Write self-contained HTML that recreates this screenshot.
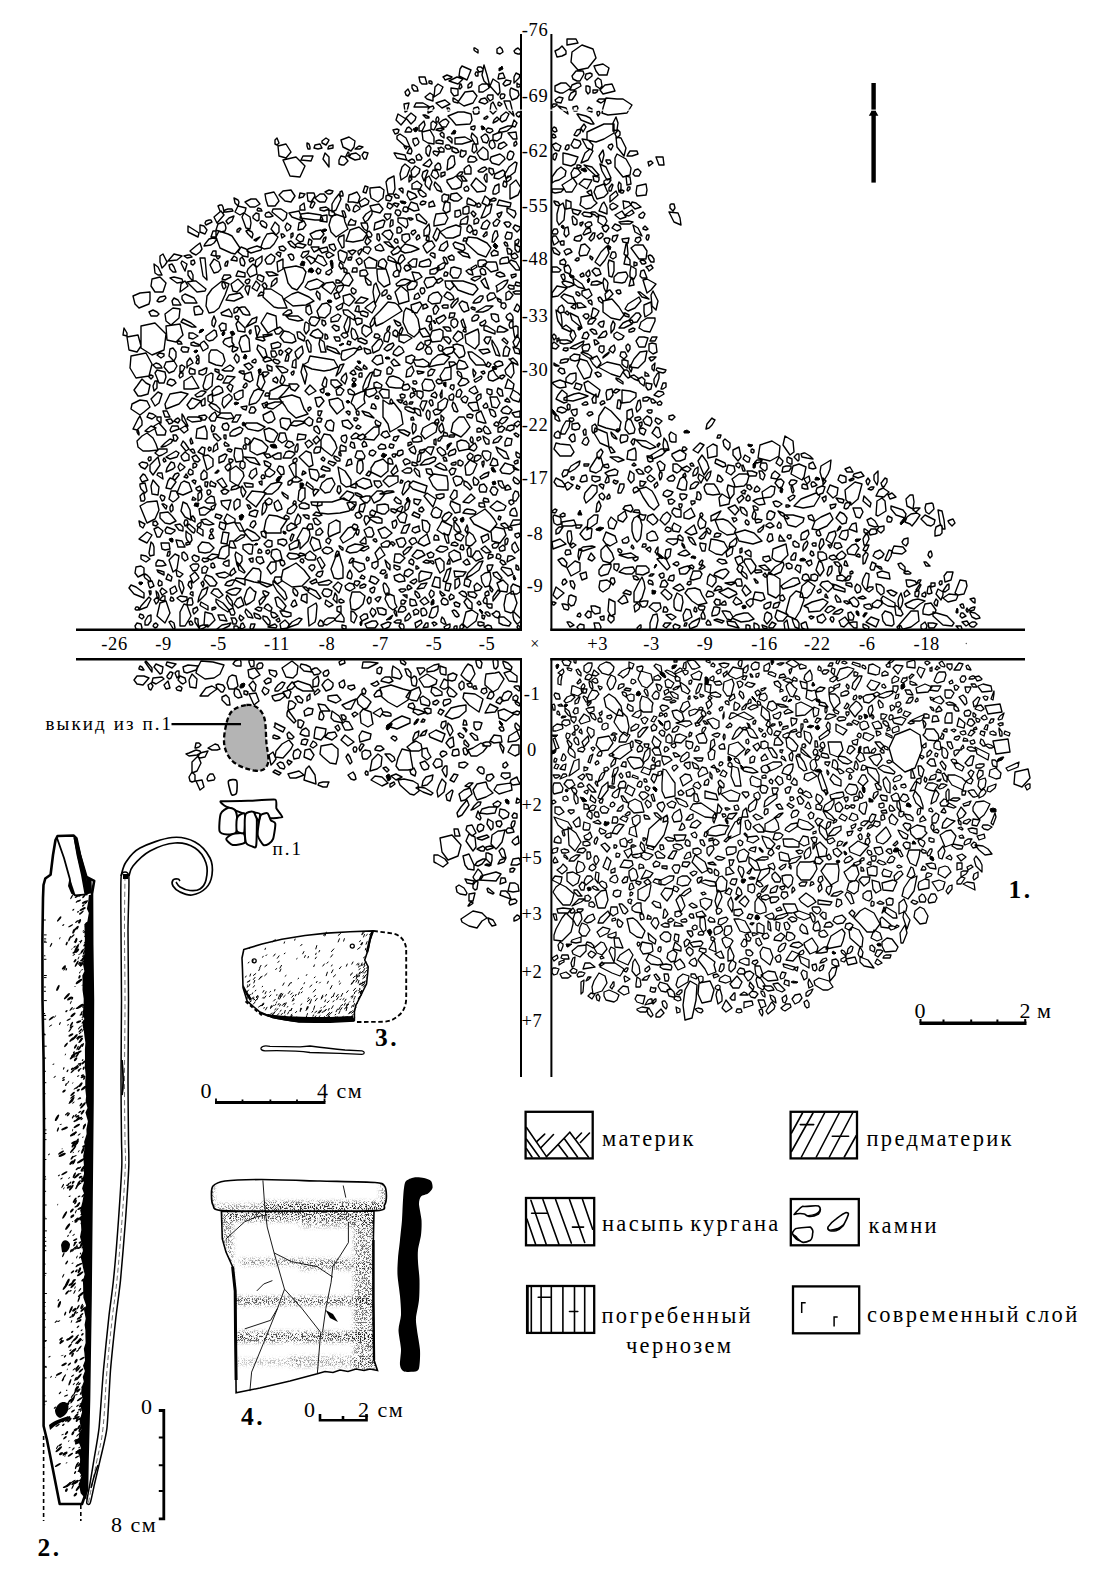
<!DOCTYPE html>
<html><head><meta charset="utf-8"><style>
html,body{margin:0;padding:0;background:#fff;width:1100px;height:1570px;overflow:hidden}
svg{display:block}
</style></head><body>
<svg width="1100" height="1570" viewBox="0 0 1100 1570">
<rect width="1100" height="1570" fill="#fff"/>
<path fill="none" stroke="#000" stroke-width="1.4" stroke-linejoin="round" d="M420 189l-8 0 0-5 5-3 5 4zM458 89l0 6-4 1-3-4 0-4zM150 465l8-8 2 8-7 10-3-4zM234 345l-5 2-5-3-1-2 2-3 7-2 0 5zM280 611l4 0 7 2 0 3-4 1-4-1-2-3zM312 714l-7 2-1-5 4-3 5 1zM405 618l4-5 2 4-3 3-3 1zM497 785l14-2 1 7-13 4-5-4zM759 629l-4 1-1-3 0-4 3 1 2 2zM464 693l11 1 8 5-2 7-2 6-10-7-6-7zM353 426l-3 3-7-3-1-5 6-1zM195 484l-3-3 2-1 2 1zM502 390l1 6-3 0-3-4 1-4zM277 262l6-3 0 10-5 3zM485 134l2 1 2 4-2 4-4-1-2-5zM308 201l-1-8 7 0 1 3-4 6zM260 285l-3 6-5-3 4-7zM442 297l-2 6-8 1-4-3 1-5 4-3 5-1zM254 582l-10-3 3-4 6-7 6 1 2 3-1 11zM351 403l3-8 7-3 4-1-1 8 1 4-9 7-2-4zM326 547l5 1 2 3-5 3-4-1-2-3zM373 292l1-7 2-2 4 11-5 10zM324 266l-9-5 3-6 5 2 4 7zM615 167l0-9 2-4 9 5 5 9-1 7-7 2zM324 283l-5 5-9 2-5-3 3-5 9-3zM344 622l-8-1-1-2 6-6 3 5zM606 545l6 8 2 6-4 4-7-2-2-4 0-7zM281 505l1 4-5 2-2-3-1-5 4-3zM219 598l-8-5 3-4 4 0 5 6zM683 541l-3-1-2-1 0-3 2-1 3 3zM494 519l3 5-7 8-10-5-6-3-4-6 7-4 8-5 5 5zM512 549l0-4 3-3 4 8-4 3zM296 356l-1-4 3-3 4-3 1 5 0 2-5 6zM219 308l-5 4-5 1-3-7 1-10 5-7 10-8 7 3-4 11zM234 456l1-8 7 1 1 6 0 6-7 1zM512 109l2 7-7-7-3-8 6 0zM237 565l-2-10 1-3 6 4 0 5-4 6zM404 343l-5-2 0-6 8 0 5 3zM392 533l-6 5-4 0-4-8 7-3zM798 578l2 5-6 3-11 3-2-3 4-3 8-5zM443 87l-3 6-6 4 1-10 3-3zM348 202l1-7 3-1 5-2 3 5-2 6-5-1zM387 491l6 0 1 1-10 2-4 0zM618 273l8-1 2 4-3 6-3 1-8-1 0-5zM300 543l-3-4 6-11 6 1 1 6-2 6-8 8zM482 75l2-10 3 10 3 12-6-6zM398 263l2 2 1 3-1 4-3-3-1-5zM468 352l4 0 11 8 3 5-10 0-6-7zM452 143l-1-1-4-4 1-1 2 0 2 2zM801 535l1-2 6-3 1 4-3 5-5 1zM194 298l3 5-5 0-7 0-3-4 0-3 3-2zM470 514l-7-1 2-3 2-1 6 1 3 2-1 2zM178 300l3 5-8 0-1-4 2-3zM308 613l0-5 8-5 1 3-1 12-1 4-6 4zM942 511l2 9 1 9-2 0-3-6-2-13zM244 379l1-5 6-2 2 8-3 2zM464 417l6 10-4 5-5 5-10-5 2-9 6-6zM659 397l-5-2 4-4 5 1 1 2zM343 296l7-2 5 5-3 4-3 3-5-3zM296 418l-8-7-3-5-6-8 13-3 8 3 4 11 4 5zM235 510l-1-3 0-5 3-3 3 1 0 6zM629 434l-4-5 1-7 2-3 3 1 4 9-1 4zM264 249l-3-2 2-6 4-7 6-1 5 4-4 7-4 4zM431 129l0-6 2-2 4 3-3 6zM355 610l-4-1-1-9 2-8 8 0 5 4-2 8-4 4zM499 554l2 2-1 3-1 0-3-1 1-4zM433 95l0 6-6-2-2-2 5-4zM365 277l6 5 0 3-3 0-2-3zM349 137l6 4-1 6-3 4-8-4-2-7zM817 488l5-2 3 1-2 6-5 2-2-4zM238 279l6 6-7 7-4-1-2-7zM185 561l-3-3 0-5 2-1 3 3 1 4zM929 514l-3-2-1-4 1-4 6-1 1 1 1 5zM741 457l-3 4-5-6 0-5 6-3zM506 721l-7-3-1-7 6-2 10 5zM293 255l1 3-1 2-2 0-3-5 3-1zM265 427l-4 3-3 1-10-2-3-3 1-3 11 0zM426 224l-9-4-1-5 3-1 8 8zM468 367l-4 2-7 0 0-5 2-4 6 2zM309 395l-4-4 5-6 6 6zM162 504l2 0 3 2-1 3-1-1zM142 436l5-3 6 5 3 6 2 6-9 1-6 0-5-4-1-6zM340 513l-12 1-8-1-3-6 1-5 14 0 12-4 11 7-6 6zM351 459l1 5-6 2 2-6zM410 396l1-3 2 0 2 1 0 1-4 3zM199 233l-1 4-10-5 0-6zM150 588l-1-2-1-4 4-1 2 5zM636 408l2-7 2-1 1 7-1 2-3 3zM923 614l0-4 2-6 6-1 5 7-1 3-6 2zM212 510l-1-3 5-3-2 5zM319 407l-2-1-2-8 6-1 3 4zM405 243l-3-3 0-5 4-1 3 0 1 5zM214 431l-2 1-1-4 1-3 3 2zM491 314l4 0 3 1 1 6-3 1-4-3zM461 227l-1 8-7 3-7 0-6-6 7-4 9-3zM459 533l5 3-3 5-5-2-1-4zM385 555l-7 5-3-7 5-6zM571 88l-8 5-3 0-5-2 0-5 6-3 5 0zM496 881l-17-1 2-4 15-4 5 2zM485 546l6 6-5 1-5-4zM156 591l1 1 1 1 1 3 0 2-2-1zM403 454l-4 2-2-1 1-4 4-1 1 1zM564 267l4-2 1 1 2 4-1 4-5-2zM838 488l-1 7-4 3-6-6 3-7zM207 478l-4 2-2-1 0-5 3-4 3 3zM198 756l3 7-4 8-5 2 0-11zM588 94l-2-3 0-5 2 0 2 1 0 5zM438 797l-1-6 2-6 3-6 4 4-2 9zM295 196l-4 6-6-1-6-6 4-4 8-1zM917 591l-1-1 4-6 1 1-2 4zM481 824l3 2-1 4-4 2-2-3 1-4zM452 790l1 1-3 10-3-1-1-5zM325 681l3-2 5 4 0 3-2 3-5 2-4-6zM213 396l-1-5 4-4 3-1 3 2 1 4-4 2zM650 630l0-7 3-8 4-1 1 6-2 9zM224 665l-4 9-6 4-9 1-9-6 1-4 4-8 12 1zM706 595l2-4 4 1 2 2-1 2-6 1zM156 566l0-3 2-3 5 1 3 4-4 1zM248 230l4 2 1 2-1 4-4-4-2-3zM214 259l5 3 2 7-3 3-4 1-4-8zM432 780l-5 5-5 1 1-5 3-4 7-2zM366 585l-1 2-3 1-2 0 0-2 4-2zM838 554l4-3 2 2 2 2-2 3-5 2-3-3zM648 338l-3 9-6 0-3-6 3-4 5 0zM310 147l0 2-2 0-1-3 0-3 2 1zM442 742l-12-5-1-3 7-4 9 4zM572 526l-10 0 0-4 12-2 2 5zM384 250l-3 1-5-1-1-3 5-3 2 2zM581 144l-3 4-4 0-3-3 1-2 2-4 6 2zM446 433l1 0 1 3-3 0-2 0 1-4zM432 360l6-5 5-1 7 3-6 7-7 1-8 2zM331 232l-2-7 2-7 4-4 9 3 1 5 3 7-6 4-6 4zM417 559l-5-3 5-6 5 1 3 4zM209 418l3-4 3-2 2 4-2 5-4 0zM309 417l4 3-1 5-3 1-6-4zM697 496l0-4 2 0 2 3 0 3-1 2-4-1zM672 442l-2-1-1-6 2-3 5 3 0 7zM336 764l-6-1-7-6-3-3 1-8 11-2 6 5 0 7zM503 819l-4-4 1-6 5 1 4 3-1 4zM510 487l1 2-4 1-2 0 1-4 2-1zM878 559l-5-3 2-4 5-2 4 4-2 3zM504 458l-6-6-2-5 10 5 3 7zM491 248l-5 9-8-3-12-11 2-6 9 1 10 5zM440 666l6 2 0 7-5-1-1-2zM864 496l7 7-1 4-7-6zM469 294l-11-4-3-4-4-5 12 0 12 4 3 4-5 6zM343 333l4 0 1 3-3 2-1 0-2-2-1-1zM437 190l-3-5 1-3 5 5 2 5zM298 720l3 0 3 2-1 3-2 3-3-1zM806 467l-2 10-2 3-11-6 2-8 6-2zM183 667l5-2 10 1-2 4-9 3-3-1zM460 512l-5 1-5-8 1-4 9 4 0 2zM521 455l-1 1 0 2-3-1-1-2 0-3 2 1zM586 307l-8 1-1-5 4 0zM730 499l-3-9 1-5 6 2 0 7zM503 356l1-7 2-3 4 3-2 7zM493 140l0-5 7-3 2 1-1 5-4 3zM775 487l-1 7-3 3-8 1-1-6 9-6zM413 769l-5 1-9 0-3-4 2-8 4-9 8 2 1 7zM179 404l-13 5-1-5 5-10 11-2 7 2zM455 680l-3 1-4-1 0-5 5-2 4 2zM835 597l1-2 4 4 1 3-4 0zM364 459l-6 0-3-2 2-6 5 0 3 5zM925 601l-5 3-6 5-7-2-2-3 8-4 5-1zM436 122l0-1 0-2 1-2 1 0 1 2-1 3zM928 555l1-3 2-1 1 3 0 2-2 2zM292 217l-3-4 10-2 4 10zM451 594l3 2 0 2-4 2-1-3zM455 138l10-1 7 4-10 3-7 0zM911 514l6-1 3 2-4 6-4 5-2-2-5-2 2-5zM484 160l-4-2-3-5 6-6 4 3 1 2 0 7zM223 354l2 7-3 5-6-1-7-3 0-8 2-4 6 0zM691 485l4-3 3 0 1 1-4 5-5 1zM780 594l-4 4-8-4-1-17 2-5 11 7zM496 194l-3 0 0-3 2-5 4-2 0 3 0 5zM266 520l3-5 8 1 10 4-6 9 0 4-14 0-3-3zM353 242l-7-1 4-11 9-3 8 7-4 6zM599 215l6 2 2 4-3 5-6-4 0-2zM681 527l-2 5-6-1-1-4 2-4zM454 201l-4-2 1-5 6-1 5 5-4 3zM600 480l-5 2-3-2 0-4 8 1zM573 543l3 2-4 3-2-2zM492 175l-3-3 0-4 4 1 1 4zM340 372l-4 4 4-11 4-1zM505 668l-2-5 0-2 5 2 4 4-1 3zM590 471l0-3 7-11 4 1 2 7-2 5-5 3zM370 500l-3 3-3-1-4-4 6-2 4 0zM245 332l-7-1-2-7 2-3 7 7zM389 278l1 6-6 3-6-6-1-8 0-4 9 0zM682 596l1 6-2 9-5-1-2-3 0-7 3-7zM305 739l3 1-2 5-5-1 1-4zM339 260l-1-8 2-2 7 3 0 3-3 7zM463 624l3-12 6-2 6 4-2 7-9 7zM342 585l-3 8-6-6 5-5zM180 420l-2 3-4-2 2-2 2-1zM423 390l-1-6 3-5 7 1 3 6-2 4-4 1zM823 614l3 5-4 4-4-1-1-5zM472 488l-2 2-2-2-4-3 0-4 3 1 2 2zM480 590l-5 1-1-5 3-3 5 4zM284 331l5 1 5 3 2 6-4 2-8-1-4-5zM299 457l7-6 5 2 2 12-4 2zM632 523l2-5 5-3 3 10-1 10-1 4-3 3-3-4-2-7zM448 629l-3 0-1-2 3-2 3-1 0 3zM596 142l-9-2 0-8 17-8 10 0 0 9-10 6zM485 595l0-2 1-1 2-1 1 2 0 2-3 1zM569 470l-2 5-4 2-1-3 2-4zM390 544l-2 3-6 0-1-3 5-3 3 0zM387 726l7-6 8-4 8 3 0 4-13 6zM650 449l-8-3-6-6 10 1 10 6zM278 561l-3 0-4-5 1-6 5-1 3 2 2 8zM416 741l5 3 1 5-3 2-8 0-4-4 5-4zM263 297l1-8 7 0 11 7 5 12-9 0-4-1zM447 476l1 7 0 7-11 0-4-4-4-8 5-4zM471 756l-3-6 5-2 8-5 6 4-4 5-6 4zM290 386l-6 7-6 6-9 0 1-8 12-6zM599 416l6-9 6 4 10 11-2 9-13-3-8-3zM230 470l6-4 7 6 1 4-6 10-8-5zM446 752l1 2-3 2-2 1-2-3 1-2 2-1zM327 479l5-1 3 6-5 8-5 1-5-5 2-5zM933 616l0-4 14 4 7 7-2 3-9-1zM230 541l3 0 3 7-3 0-4-1zM419 687l2 6-4 8-6-1-5-3 4-6zM325 153l4 4 0 10-6-8zM304 341l-6-3-1-6 3 0 5 5zM883 603l-2-4 2-3 12 7 0 4-7-1zM762 461l-2 1-3 1-2-1 2-2 3 0 2 0zM401 180l-1-6 2-7 3-3 5 4-3 8zM343 548l0 2-1 0-2-2-1-2 1 0zM250 603l-4 2-2-6 3-9 3-3 4 4 2 1-2 8zM869 577l-2 12-2 0-3-5 1-5 3-6 3 1zM664 492l3-2 6 2-2 3-4 2-4-2zM389 398l-6 0-4-6 3-3 7 1zM414 499l7 1-3 5-4-2zM296 563l8 7 6 8-8 8-10 1-11-7 2-10 6-3zM298 666l-1 8-4 4-7-1-4-9 10-7zM458 587l-3 2 0-4 0-5 4-2 1 6zM513 317l0 3-5 0-2-3 1-2 3-2 2 2zM427 473l-1-4 4 0 1 0 2 5-2 1zM197 359l-1-2 1-1 1-1 1 2 0 2zM385 599l2-6 7 3 1 7 2 4-4 3-4-3zM747 474l2 2-2 7-3 3-9 1-1-4-2-4 7-5zM621 138l5 10-2 8-7-9-1-10zM607 281l1 2-1 7-1 2-2-4-1-6 1-4zM624 264l2-9 4 5 0 5zM493 102l4 8-4 4-3-3 1-7zM915 581l2 3-8 3-2-1-1-6 4 0zM479 203l1 1 1 1-1 2-2 0-1 0 0-3zM329 400l9-2 4 3 2 7-7 6-7-9zM393 736l3 1 1 2-2 2-4-3zM210 586l-6-7 2-4 6 2 5 6-2 3zM293 482l-1-3 4-3 6 4-4 2zM619 328l4-5 4-2 5-1 1 2-1 2-8 4zM193 363l-5 3-1 2 0-6 3-4 2 3zM650 426l-5-2-2-4 4-4 4 2 1 4zM374 534l-2 3-5 0-3-7 5-3 3 1zM455 313l-1 4-5 1 1-5zM628 437l-1 4-6 2-1-3 1-5 6 0zM331 384l0-4 6 0 5 5-7 3zM963 613l3 3-4 2-2-2 1-3zM360 742l-1-6 3-5 9 3-1 5zM486 232l1 0 0 3-3 2-1-1zM490 704l8 4-3 4-10 1zM427 533l-4-3-1-10 5 1 3 4-1 6zM513 574l-5 2-7-7 1-2 9 2zM453 178l3-2 6 6-1 5-5 2-4 0-5-7 0-2zM858 499l-7 6-5-5-1-10 10-8 7 2zM362 460l1 4 0 6-3 4-3-2 0-6 1-5zM646 184l1 6-1 5-9 1-1-3 1-7zM227 514l8 5 0 3-8 2-3-4zM516 214l-2 4-7-6 0-4 8 3zM442 521l10 5-3 9-6-1-6-4 3-5zM587 445l-2 0-3-2 2-4 3-2 2 4zM479 350l9-1 2 3-7 2zM716 582l-4 5-5-3 1-7 2-3 6 4zM702 574l-2 4-7 2-3-1 2-5 1-3 7 0zM788 555l-7 7-5-1-4-3 1-9 13-5 1 6zM474 870l-6-1-3-4-2-9 6-2 5 11zM595 268l4 1 2 5-5 2-4-5zM283 758l-8-1 1-6 6-7 7-4 4 5-2 4zM415 281l-3-9 7 1 3 4zM158 473l4 0 1 6-6-4zM499 672l5 7-6 10-5 3-8-7 0-4 1-7 9-1zM443 421l-2-1 0-5 3 3zM416 103l7 0 7 4-16 0zM496 511l-6-4 7-6 4 2 5 3-2 4zM204 787l-4 3-4-9 6-1zM774 517l-3 3-4-1 0-5 2-3 2 0 4 2zM754 452l-1 1-2-1 0-2 1-1 2 1zM967 586l-3 8-6 1-3-2 5-13 6 1zM412 312l-1-7 9-3 2 3-5 8zM854 628l-5-5 4-1 4 0 0 6zM475 674l-5 8-4-2-5-5 4-7 3-4 4 2zM604 321l0 2-1 4-2 0-3-3 2-2zM648 390l-2-3 0-4 6 1-1 5zM571 576l-4-8 8-7 5 2 0 8zM606 532l9 4 2 6-7 4-4-2-3-4zM306 435l-1 4-8 1 1-6zM646 267l3-1 2-1 2 3-4 3-1-2zM177 283l-7-5 4-1 8 2 1 3zM500 436l2 1-4 5-5 1 1-3zM437 171l2 5-3 3-3-2-2-2 2-5zM303 365l5-3 2-6 12 2 12 2 4 7-8 3-6 1-12-2zM563 527l-4 6-3 1 0-4 3-3zM763 480l-3-2 0-3-1-4 3 0 3 4-1 3zM452 255l2 2 0 3-4 0-2-3zM440 134l2-2 2 2 0 2 0 2-3-2zM453 690l4 4-3 3-5-1-2-4 2-5zM579 393l9 3-5 2-10 3-9-1 0-2 10-4zM742 590l3-5 6 7-5 4zM387 574l0 4-2 0 0-2zM268 604l4 4-1 3-2 0-5-3 2-3zM249 544l4 1-1 9-3 0-6-5 0-4zM281 344l-1 3-8 2-1-5 7-2zM383 417l0-17 6 4 5-1 7 9 2 12-6 4-7 4-2-8zM356 428l0-1 2-2 3 2-2 2zM500 831l5-1-3 12-4 5-2 2-5-5 1-9 6-4zM448 218l-3 6-11 2 0-4 2-8 9-1zM239 372l1-1 3 0 1 0 0 3-1 0zM491 531l4-4 9 2 2 6-6 8-8-2zM487 604l5 0 0 4-3 0-2-2zM639 259l-8-11 4-3 8 0 4 6-1 8zM147 543l-8-4 8-7 5 3zM191 520l-6-3-4-6 2-9 4 2 3 6zM298 292l11 5 5 4-8 4-13 1-9-7 8-5zM442 201l0-5 2-2 3 1 2 0-1 5-3 3zM476 847l-3 4-7-10 3-7 6 3zM659 165l-3-8 7 0 1 8zM334 423l-1 8-5-1-3-4 2-5 4-1zM270 547l-3 0-3-3 4-4 4 1 0 5zM172 577l-1 4-5-2 2-5zM235 689l-6 0-2-6 2-6 3-2 4 1 2 10zM671 549l-1 7-3 3-2-3 1-6 3-1zM402 388l-6 0-7-1-3-4 3-6 4-1 6 2 5 4zM317 324l-2 2-4-1-2-4 2-4 4 0 5 2zM279 466l4 1 1 4 0 3-3 1-4-5zM708 620l2 2 1 3-4 0-1-2zM213 340l-4 1-3-2 0-3 8-6 2 1 1 5zM262 691l2-4 5 3-1 3-3 2zM720 600l0 5-4 0-2-3 2-3zM458 560l-5 2-4-6 0-3 5-3 6 3 1 6zM557 221l0-7 2-8 4-3 2 7-1 10-5 5zM724 542l4 7-6 6-6-1-7-4 2-11 6 1zM614 271l-2 6-3-1-1-12 1-4 5 2zM493 381l-4-1-1-3 1-5 4-2 3 5 3 3zM140 415l-9-6 1-5 8-4 7 1 3 6-6 5zM174 267l2 5-3 0-3-3-1-4 3-1zM656 487l-1 1-1-3 3-3 1 3zM222 279l2-4 6 0 1 2-6 3zM643 218l-2 0-2-1 0-2 4-3 1 1 1 1zM357 272l-5 0 1-4 4 0zM327 247l1 4-6 2-3-4zM557 57l-2-6 4-2 3-3 4 5 0 3-4 2zM409 449l5-3 2 5-1 3-4-2zM638 169l3 3-2 4-4 0-2-2 2-4zM162 549l-1-6 2 0 6 0 1 6-5 1zM186 425l-4-5 0-6 2 3 4 9zM821 466l10-6-1 9-2 5-5 8-3-10zM505 370l6-7 2 1 1 9-3 5-5-4zM434 277l3 4-4 5-6 2-3-6 2-4zM408 208l3-6 6 2 2 6-5 1zM502 857l-3-6 3-3 2 2 2 8zM452 406l1-4 2 2 3 7-1 1-3-1zM348 688l0-2 6-1 1 3-4 2zM624 370l-4 7-9-3-13-7 9-5 13 3zM621 493l-3 0 0-2 2-7 4 0 0 3zM299 491l2-3 4 0 0 10-4 4-3-2zM560 456l-6-7 2-6 4 1 10 1 4 7-3 4zM452 394l1 0 1 2-1 4-3 0-1-2 0-2zM657 463l3-2 5 4-1 5-4 1zM520 417l-5 0-3-4 8-2zM394 359l6 6-6 1-3-4zM249 662l0-2 4 0 1 1 0 5-3 1-1-2zM359 306l0 6-4-1 2-5zM362 545l3 2-8 5-7 1-4-2 2-4 7-3zM305 194l-2 3-4 1 1-5zM260 204l-5 3-5 0-5-5 6-3 5 0zM514 384l-1 5-8-1 3-9zM476 178l10 9-1 4-8 1-6-7zM516 326l2 1 0 10-3 1-1-4-1-7zM845 617l4 5-2 2-3 3-3-1-2-5 3-2zM444 570l-4 3-3-6-2-7 5-2 4 4zM620 320l-9-2-8-6 0-11 9-2 7 8 5 8zM474 126l1 0 0 2-1 2-3-1 0-1 0-1zM270 217l-4 0-1-2 1-2 3-1 4 4zM514 424l4-3 3 2-4 4zM287 213l-1 5-3 3-11-9 1-3 8 0zM173 572l-4-12 6-6 4 2-2 13zM500 704l-4-2 1-2 3-3 3 3zM408 411l-3-2 0-2 4 0 6 3-1 3zM808 608l-4-2 8-4 11-3 5 3-3 4-5 5-11 1zM515 597l2 6-3 8-3 2-6-2-1-6 2-10 7-4zM140 506l7-4 10-1 2 9-4 9-8 4zM229 218l5-2-2 5-4 3-2-3zM253 618l-5-1-3-5 1-3 5 5zM311 161l-10-1 2-4 10 0zM692 601l-7-8 3-4 7-1 5 2 2 5 5 8-9 2zM623 242l-1-3 7-1-1 5zM250 399l4-8 4-2 6 2-5 9-3 3-7 2zM497 572l5 6-2 2-6-4-1-3zM179 453l-2 4-7 2-4-2 10-6zM580 359l7 2 5 9-2 7-6 2-7-13zM591 208l-5 1-6-4 1-4 0-4 11-2 2 5 3 3zM371 702l-4 6-3 1-6-5-1-5 4-5 7 5zM521 188l-3 7-8 4 0-14 6-5zM418 91l-2 0-2 0-2-3 0-3 2 0 3 2zM911 611l7 0 1 10-8 6-11 3-1-5zM642 236l-7-4-2-7 5 3zM560 368l4 1 1 4-3 1-4-3zM317 311l5-7 5-1 4 4-1 6-5 5-6-1zM463 319l3 9-3-1-2-6zM444 337l4 0 2 2 1 2-2 3-2-2-3-3zM804 518l-1 4-7 5-8-2-3-6-1-4 9 0zM366 525l-2-5 1-4 3 0 2 4zM462 157l-2-1 1-6 2 1 3 0 0 3-3 3zM133 429l2-4 3-6 2-3 2 5 0 4-5 5zM382 234l3-3 5-1 3 4-2 5-2 1zM661 608l-5 4-7-5 4-4 7 0zM593 151l-5 9-7 3 4-10 5-4zM471 70l-4 10-8-4 1-7 2-3zM205 398l0 7-3 1-1-3 1-3zM639 313l2 3-4 6-6 1-2-3 7-7zM425 450l3-3 6 0-3 8zM491 272l-4-4-4-3 5-3 8 0 1 3 1 5zM465 762l3 2-4 4-5-1 0-2 0-2zM590 347l-2 4-5 0-1-4 2-2 5-1zM745 559l6 0 5 7-1 4-4 4-4-7-3-5zM388 302l7 1 3 2 4 6-8 5-11 7-7 3-2-9 6-6zM349 722l4 7-4 1-4 0-3-6 3-3zM584 539l-4-5 3-4 3-3 6 2-1 9-5 2zM440 759l2 2 0 5-6 2-3-4 3-5zM557 411l1-3 3-1 3 1 3 2-2 2-3 1zM584 179l8 1-5 9-8-5zM257 221l-4-3 0-2 3-3 3 1 0 6zM605 473l4-2 6-2 3 2-1 4-9 1zM649 569l0 3-6 3-7-1 0-5 1-3 9 0zM556 102l-1-2 4-3 4 1-2 5zM197 292l-3-3-7-7 6-1 3 0 10 8-1 2zM562 282l3-1 7 2 2 2-5 2-2 0-4-3zM405 112l-1-8 5-1-2 8zM878 516l-2-1 1-14 5-3 3 3 1 10zM492 926l-3-4-1-4 5 2 3 5zM430 159l2 4-3 4-6-2zM399 582l-4-2-1-4 6-2 4 3 1 4zM461 215l-3 2-3 0 0-6 5-1zM473 473l-3 2-4 0-1-9 5-6 4 2 3 2zM258 553l0-2 1-2 2 1 1 2-1 1-2 0zM200 225l4 1 3 4-2 4-5-2zM496 286l8-5 4-1-1 3-4 5-6 4 0-4zM575 225l-2-1-1-7 1-1 2 2 2 2 0 4zM856 523l1 9-8-3 3-5zM466 441l3 3 0 5-10 2-2-5 0-4 4-2zM481 456l0 2-4 3-3 0 1-5 3-1zM559 346l-3 3-4-1 0-4 2-2zM263 597l3 0-1 2-3 4-2 2-1-4zM434 144l-6-1-5-3-1-8 8-2 4 7zM326 283l7-1 3 4-5 8-9-7zM647 534l5-3 3 1 3 6-1 2-7 1-3-2zM481 228l2-5 4-3 3 3-3 6-4 0zM647 351l-2 10-7 7-8-1 4-8 6-7zM336 341l-2-4 5 0 1 2 0 2zM180 577l-3-1-1-6 7 4zM419 582l0-8 2-3 11 2-2 5zM273 584l0-3 6 5 6 6 2 6-2 2-8-9zM348 573l2-3 2 4 0 2-1 3-3-1-1-1zM836 562l2 0 2 2 0 2-1 1-3-2-2-3zM241 415l-4 7-5 0 4-7zM588 322l2-3 5-1 1 1-4 5-4 0zM794 506l7-7 15-6 4 3-6 10-11 2zM437 449l3-2 5 4 1 3-4 2-4-4zM618 462l-8-5 8 0 6 3zM184 588l-2 6-3-8 0-6 3 2zM337 736l-5 4-7-3 3-4 7-1zM147 575l3 3 1 3-2 0-4-3-1-2 1-2zM212 386l-5 4-3-1-1-3 3-10 5-3 2 1zM375 776l7 1 6 6-6 3-11-6zM412 231l3-1 1 2-3 3-2-2zM232 399l-8 9-2-4 1-6 6-4 3 3zM395 554l5 0 5 4-5 5-6-1zM343 578l-5 1-4-1-3-9 5-13 3-3 4 14zM607 208l0 6-5-2-3-1 3-7 2-2zM436 432l-8 5-3 2-4-5 2-6 9-5 6 0zM726 611l4 1 3 5-2 3-4-1-5-8zM366 276l-4 0-2 0 0-5 3-1 3 0 2 4zM423 348l-4 2-3-1 2-4 3-3 3 3zM232 236l8 12-5 6-4-1-11-5-4-11 3-6 9 3zM724 621l-2 2-8-3 3-1zM451 268l3-1 7 2 0 4-3 5-5 0-3-4zM339 293l-3-3 2-4 6-1-2 5zM472 270l-1-2 5-3 1 2zM648 457l5-3 8-5 7 0-6 6-9 4zM354 623l-3-2 0-10 3 1 3 4zM477 784l9-2 2 6 5 5-7 4-9 3-2-4-2-6zM288 370l-1 2-5 1-6-7 7 1zM344 327l1-3 3-7 2 0 0 7-2 8-2 0zM516 274l0 2-4 2-1-3zM222 205l1 2 1 5-1 1-3-2-2-5 2-1zM266 440l-2-10 5-2 5 2 4 4-4 8-4 0zM819 561l3 2 2 7-4 6-4-6zM883 488l6 4-5 5-8-1 3-6zM442 722l4-1 0 4-3 4-2-2 0-2zM636 393l0 4-6 5-8 1 0-7 0-6 8 1zM603 592l-3-2-1-3 1-6 7-1 4 3-2 5zM193 603l-1 2-4 0-1-1 1-4 1-2 3 0zM607 334l-2 3-7 1 5-6 3-1zM459 615l0 1-2 1-2-1-3-5 2-1 2 1zM611 616l-3-5 1-12 6 3 0 12zM294 445l-5 3-4-2 3-5 4 1zM216 256l4 0 0 1-2 2-1-1zM685 459l-5 2-4 0-4-5 0-2 8-4 6 4zM150 559l-4 3-5-3 0-4 5 1zM342 360l-1-3 1-6 12-3 4 1-4 5-9 6zM601 449l2 3-2 4-2 3-2-2 0-4zM498 148l1-4 5-2 3 3-6 4zM795 619l-7-3-2-4 4-15 6-6 6 2 2 7-4 11zM567 39l9 0 2 4-11 2zM433 237l4-9 3 3-2 7-2 3zM245 307l4 5 1 3-4 0-3-1-4-6 3-1zM315 567l-1 2-2 2-3-3 0-1 2-2 3 0zM199 388l-7 1-8 0 0-8 8-5zM318 624l2-4 2 1 2 3-1 2-4 0zM638 473l-2-3 3-1 3 2 2 3-2 0-3 0zM397 139l0-3 3-2 6 4 4 9-5-1zM144 598l-10-4-5-6 2-3 5 2 8 6zM377 388l-3-1 0-4 3-1 5 3-1 3zM552 293l5-7 10 2-9 8-6 1zM269 276l-3-4 6 0 6 3zM591 612l0 1 0 4-3 1-3-3 3-4zM783 562l1 3-3 7-7 3-5-1 6-7zM647 478l3-3 5 4-4 3-3-2zM943 595l-2 5-5-6 2-5 5 3zM850 579l-1 1-4 1 1-2 2-3 3 0zM754 619l-5 2-8 1-9-4 4-3 8-2 4 0zM371 497l6-6 5 0 3 3-5 6-6 3zM944 576l3-4 6 0-2 8-6 2zM201 499l-3 2 0-2 0-5 3-3 1 5zM262 492l4 1-10 14-10-8 6-8zM373 456l-3-1-1-1 1-3 3-1 3 2-1 2zM330 194l-2 0-3-2 2-1 2-1 4 1-1 2zM398 114l8 5-5 6-5-5zM691 508l4 8-6 3-5-1 0-5zM769 523l2 0 3 3-2 1-2 1-4-2 0-1zM889 573l1 6-12-2-1-4 5-2zM747 520l2 2 0 2-1 1-2-1-1-2 1-2zM449 108l1 2-1 1-1 0-1-3zM475 890l-2-2 0-3 3-4 2 1-1 7zM561 167l5 4-1 5-6 4-4 1-3 2 0-6 5-7zM245 579l0 4 0 2-10-5 1-2zM515 353l-2-6 6 2 1 5zM494 743l-4-2 4-6 7 1 1 6zM286 691l3-1 2 2-2 6-2 0-4-6zM647 293l-4-13 4-1 9 5-5 6zM681 469l6-3 4 3-3 3zM651 302l1 10-2 2-5 3-1-5 0-7zM193 516l2 3 0 3-3-2-1-3zM555 248l5 5-1 2-5-2-2-5zM325 735l-4 5-7-2 1-8 1-3 10 2zM861 508l2 4-3 6-4-1-3-9zM736 529l-2 5-7 1-8-5-4-10 8-1 5 2zM903 547l3 4-4 3-9-1-1-2 2-5zM222 547l7-2 0 10-4 4-7-1 2-8zM681 225l-7-3-5-10 9 1 2 5zM788 615l-5 6-5 0-3-4 2-7 7 3zM420 508l2-1 2 3-1 1-1 1-3-1 0-2zM582 291l7-2 3 6-5 4-5-4zM746 498l2-3 2 2 0 3-2 1-2-1zM579 253l2-8 4-1 5 5-3 6-7 1zM239 361l-2 2-3-5 2-4 3 3zM785 541l-6 0 0-3 1-3 3 4zM479 489l1-4 4-1 3 4-1 4-3 0-3 0zM351 527l6 3-4 7-10 6-3-5 8-10zM356 505l-3 5-3 0-3-7 4-1 5 0zM419 126l5-5 1 4-3 6-3 0zM256 693l3 8-5 4-5-11zM409 389l-2 1-4 0-1-3 2-2 4-1 2 3zM441 494l3 0 0 3-4 2-3-1-1-3zM303 364l4 10-2 10-4-12zM815 521l6-4 9-4 3 6-6 7-9 4-6-1zM324 342l1 6 1 4-5 0-2-8 1-5zM693 569l-2-1-2-2 3-1 2 2zM205 515l-5 0-1-6 5-2 7 3zM489 539l-6 4-2-6 7-3zM380 213l-8-2-2-5 9-2 4 5zM163 667l-1 6-2 1-6-7 2-3zM842 524l-2-2-4-4 4-6 4 2 3 4-1 5zM758 583l-2 0-2-4 1 0 3 3zM471 172l0 2-6 0-1-5 2-2 3-2 2 3zM653 525l-6-5 1-4 5-2 5 6-2 3zM232 595l-6-3 3-2 7-2 5 1-2 3-3 3zM520 308l-2 4-4-2 3-6 2 2zM631 553l6 4-9 1-9-3zM476 551l3 0 4 7-7 3-4-4zM793 441l1 11-4 3-7-10 2-9zM424 687l-5-8 8-5 10 6-1 4-7 3zM243 461l2 2 0 4-2 2-3-2 0-3 1-3zM487 461l-3-3-2-4 1-3 5 0 3 2-1 6zM556 587l8 6-7 6-4-4zM439 468l-4-2 3-2 2-1 5 3 2 4-3 0zM317 535l-1 0 0-4 4-3 1 1 2 3-3 3zM668 600l-7-7 4-4 7 6-1 3zM455 449l1 2-1 3-6 2-1-2 2-3zM705 619l-3 0-1-4 2-4 2 5zM394 437l5-1-3 5-3-1zM519 435l-1 2-2-1-2-2 2-1zM294 512l-3 2-4-1 1-4 7-5 2 3zM781 524l0 4-3 0-1-2 2-4zM614 620l-3 3-3-3 0-1 1-4 5 2zM174 371l-5 2-5-6 2-5 8-1 3 5zM490 202l-2 4-6-3 3-7 4 3zM277 674l-2 3-5-3-1-4 7 1zM805 581l-3-2 1-4 3-1 2 1 2 5-3 0zM464 736l-1 2-3-1-2-3 2-1 3 2zM264 491l7-7 8-2 3 1-4 6-6 5-7 0zM225 371l-3-1 8-5 4 3-2 3zM414 795l-4-1-10-9-2-5 6-1 9 2 5 3 1 7zM594 181l-1-5 6 1 0 3-1 2zM775 471l5 4-3 4-6-1 1-4zM357 438l-5 1-1-2 3-3 2-1 3 2zM176 383l-4 3-5-2 1-3 2-2 4 1zM367 759l-4 0-1-3 0-4 3-2 5 1 1 4zM356 747l1 2-1 3-2 0-1-3 1-2zM600 90l5-5 7-1 3 7-12 3zM365 415l-3-4 7 2 5 5zM375 398l1-2 2 0 1 2-1 1zM152 682l1-4 9-1 2 2-8 5zM466 705l0 6-7 6-7 2-7-3 6-8 8-2zM874 570l-3 0-1-2 2-6 4 2zM245 535l-1 2-7 4-3 0 7-6zM160 603l6-2 4 12-5 10-8-7zM389 487l-6-6 5-5 10 0 0 6zM884 593l-3 2-4-4-1-7 5 1 3 3zM808 543l-1 3-2 3-2 2 0-4 1-3 3-3zM644 582l1 6-3 10-3 4-5 0 0-10 4-8 4-7zM888 561l-3-1 4-10 3 1-1 5zM182 261l5 3-2 7-4-8zM303 282l-6 8-5-2-4-5-2-8-2-7 12-2 7 2 3 4zM247 272l1-3 5-5 3 3 1 7-7 3zM454 571l12 1-3 4-8 1zM505 463l9 3 0 5-4 3-8-1-2-3zM241 597l3 8-6 3-4-4 3-5zM628 304l11-7 2 4-6 7-7 3-3-2zM351 332l1-4 3 2 3 7-3 3-3-2zM520 482l-2 2-3-1-2-3 1-3 3 2zM857 607l-4-1-4-6 3-2 2-1 4 4 1 3zM214 217l7-6 3 4-7 8zM405 244l8 2 6 3-8 3-6 1-4-2 0-3zM444 268l-4 2-3 0 1-4 5-3 3 0zM624 209l-1-8 6 1 2 3zM481 576l4-3 5-1 1 7-2 7-4 1-3-5zM162 447l-1 0 4-4 5-4 3 1-2 3-5 3zM200 252l-4 3-4-2-2-2 6-5 4-3 2 6zM659 428l2 8-3 2-6-5 4-6zM400 215l-2 1-3-3 1-3 3 0 2 2zM199 306l4 5-1 3-7 1-1-5 0-3zM472 545l-2 1-4-1 0-8 3-5 4 3 3 6zM949 523l-1-2 2-1 3-1 2 4-3 3zM517 798l4 3-3 2-2 0zM462 310l-3-6 3-3 5 2 2 7-5 2zM735 533l10-3 9 3 8 8-9 3-14-3zM586 391l-2-8 4-2 12 9-2 7zM318 506l-6-1-1-3 4 0 7 0 0 3zM477 421l-1-6 1-2 4-2 5 12-2 0zM458 749l1 3 0 3-5 1-2-1 1-5zM231 500l-3 10-6-5-1-4zM465 730l-2-2 2 0 2 2-1 2zM197 532l1-5 5 3 0 6zM373 318l2 0-1 6-3 3-1-3zM382 608l4 2 0 4-2 1-5-1-2-6 1 0zM421 609l3-1 2 2 1 3-1 2-4 1-1-3zM619 222l9-1 5 1-3 2-9 0zM521 619l-1 3-3 2-3-4-1-4 0-5 4 4zM779 457l4 4-1 3-2 2-4-3 2-4zM267 458l-3-4 5 0 2 3zM211 560l-4-2 5-4 7 1-2 2zM235 661l5-2 1 3 0 4-5 0-3-2zM171 489l-5-1 2-7 2-3 3 1 3 3zM379 427l0 7-5 6-10-1 1-4 9-8zM505 172l-1 4-5 3-5-1 1-4 8-4zM388 702l-6-5-2-9 11-3 12 4 8 2-3 9-11 7zM603 64l6 4-2 7-8 0-3-4-2-5zM191 616l-6 10-5 0 0-14 4-8 3 1zM336 520l4 2 0 10-7 3-4 2-1-4 1-9zM317 470l2 4 0 3-2 4-6-3-1-3-1-6zM667 570l-10-11 5-2 4 2 4 8zM298 624l-11 4 5-6 7-4 3 1zM603 301l-1 2-3-2-1-3 2-1 1 1zM238 206l8 2-1 4-5 3-5-3zM505 237l2-5 5 1 0 3-1 3-5 0zM301 214l7-1 13 2 2 5-8 0-15-2zM314 262l-3 2-2-3-3-3 3-2 2 1 4 2zM497 205l2-5 12 3-1 4zM858 478l-5-2 1-2 7-2 3 4zM366 379l4-6 3-1-3 8-2 7-5 4 0-4zM295 454l-4 4-4 0-4 0 3-6 3-1 4 1zM351 701l5-2-5 10-5 0-4-4zM429 83l0-2 2 0 1 1 0 2zM314 691l-11 0-6-3-4-5 5-2 12 4zM581 235l1 3-2 3-3 0-3-1 1-3zM497 226l-3 0-1-3 4-4 3 2zM491 570l-3 1-1-5 1-1 5 0zM317 559l3-2 5 8-3 4zM443 581l4-11 4-2-3 11-2 3zM512 159l-3 1-2-2 1-5 2-2 3 1 1 2zM766 609l-2-1 0-3 3-2 4-1 0 1-1 4zM590 108l2 1 0 3-3-1-2-1 2-3zM462 224l-2 1 1-5 5-3 2-1 0 3-1 5zM617 231l-5-3 3-4 5 2 1 3zM150 556l-1-3 2-11 2 2 1 3 0 8zM225 529l-1 1-4-2-1-1 1-5 4 1 2 1zM384 190l-1 8-5 4-7-4-1-5 0-5 10-1zM193 333l5 3-5 3-4-1 0-5zM383 712l-3 5-7-4 8-5zM479 109l0 4-2 1-3 0-1-3 1-3 4-1zM601 252l6-6 2 7-4 7-5 6-5-4zM414 512l6 3-1 3-7-3zM686 550l2 2 2 2-5 2-5-1-2-1 5-3zM672 420l-3-1 0-1 0-2 4-1 2 2-1 1zM717 481l1-6 2 1 3 4-2 2zM573 485l-4 4-2 1-1-2-1-4 3-2 3 2zM453 296l1 3-4 1-5-3-1-1 3-4 3 1zM188 255l2 0 2 2-5 1-3-2zM621 352l4 0 2 4-3 3-4-3zM179 686l2 1 1 1-1 3-4-1-1-2zM262 261l-1 2-4 4-2-2 1-5 6-4zM416 609l3 2-1 3-1 0-3 1 0-2-1-2zM203 276l-3-18 5 0 1 11 1 11zM769 628l0-2 3-4 4 2-3 4zM190 566l3-2 5 0 1 2-2 4-4 1zM483 429l2-3 3 2 3 5-3 1-3-1zM518 780l2 4-7 1-3-2 1-3 6-3zM866 622l5-5 8 3-3 7zM519 754l-4 2-7-4 4-7 7 0zM268 333l-7-10 6-10 9 3 1 12zM370 480l2 6-7 3-7-3-2-4 7-4zM226 695l3 3 1 7-3 0-5-5 0-3zM464 106l-6-4 7-10 8-1 4 5-4 7zM337 448l-5 8-8-6-3-3 0-7 3-6 6 1 5 7zM652 491l3 5 4 9-5 5-5-4-6-9-4-8 7-2zM288 242l3-1 5 5-1 2-4-2zM882 486l-1-3 1-1 3-4 2 1 0 3-3 5zM503 625l-4-2 0-6 5 0 7 6-2 3zM649 376l-4 0 0-4 3 2zM479 344l-4 5-9-6-1-8 13-6 1 5zM510 671l7 5 0 6-8-1-5-8zM297 591l1 2-1 3-2-1-2-3 0-3 1-1zM160 518l0-5 8-1 4 4 4 5-6 3-5-1zM514 120l3 3-2 4-3-1zM397 331l1 2-1 4-2-1-2-1 0-3 2-2zM436 550l4-4 7 1 1 2-5 3-3 0zM286 316l12 0 5 4-5 1-9-2zM704 477l-3 6-3-5 1-4zM397 616l-1 0-1-2-1-2 1-2 1 1zM257 349l1-4 7 4 2 7-4 2zM371 576l4 1 4 3-3 4-1 0-6-3 1-1zM235 399l-1-5 5-3 4-1 0 7-5 3zM216 599l7 4 6 7-1 2-5-3-4-3-3-4zM569 438l2-3 3-1 1 3 0 4-3 1zM493 299l-5 2-1-5 3-3 4 0 2 4zM378 447l3-3 4 1 1 3-2 1-5 0zM240 487l-4 2-5 1 1-3 5-2zM327 676l-3 0-1-3 2-2 3-1 1 3zM207 439l-11-1 1-9 8-3 2 6zM468 162l0-3 2-3 5 1 2 3-3 2zM382 523l-5 0-4-2-4-3 3-1 6 0 4 2zM250 451l0-7 4-6 8 3 6 6-2 5-9 3zM562 328l4-3 5 4 0 3zM394 351l5-5 3 2 2 4-3 2-4 2-4-2zM668 584l-2 3-6 0 2-6 3-1zM413 481l14 5-2 7-12-4-4-4zM444 149l0 3-2 0-2 0-2-4 2 0 1-1zM456 469l-2 5-3 1-2-4 3-3zM510 527l2 1 0 2-1 0-2 0-1-3zM360 156l0 3-5 1-6-3 2-3 5-1zM609 447l-9-4-6-10 1-5 12 5 1 7zM482 809l7-2 8 0-2 6-8 1-7-1zM614 483l-1-1 1-2 2 1 2 0 0 1-2 2zM472 120l-2 4-14 1-4-5-4-4 10-4 6 0 7 2zM630 471l4 3 0 6-3 3-3-4zM151 599l-4 8-8 3 2-4 8-9zM157 312l2 2-2 2-6 0-2-4 4-2zM728 465l6 1 1 5-4 4-5-3zM276 334l-2-4 6-3 3 3-4 4zM925 597l-3-1 0-2 3-2 1 3zM505 174l4-7 6-5 2 1-2 9-9 7zM552 383l2-1 6-2 5 2 1 5-6 1-3-1zM593 414l-4 2-2-2 2-2 3 0zM462 398l3-2 3 2-1 3-1 2-3-1-2-3zM413 741l0-3 2-5 4-2-1 6zM554 515l6 2 1 2 0 5-4 1-3-2-1-6zM418 543l2-4 7-5 3 9-6 3zM594 318l-3-1 1-4 1-5 3 1 3 2-2 4zM317 436l3 4-4 4-3-4zM397 158l-3-5 1 0 10 2 1 3 1 2-5-1zM864 545l-1-6 1-2 2-3 2 1 1 4-3 6zM364 261l5-4 8 4-1 7-10 0zM394 500l2-3 5 4 0 3-4-1zM708 528l3 3-1 3-2-1-2-4zM379 350l-6 3-1-6 6-7 3-1 2 4zM843 610l-1 2-3 2-6 0 2-2 6-3zM327 625l-4-1 2-4 3-2 6 0 1 2zM584 235l-1-1 3-5 4-1 1 4zM631 266l5 3 0 6-2 4-4-2 0-5zM483 296l0 2-3 4-4 1-3 0 2-3 5-4zM516 141l1 3-2 2-1 0 0-3zM228 261l0 1-1 4-2 0 0-2 1-2zM315 560l-7 0-3-2 1-4 4-3 6 5zM381 355l1 1 1 7-6 2-5-4 4-5zM687 495l-1 3-4 2-2-3 0-2 0-1 4 0zM520 229l-3 3-4-4 2-3 5 2zM298 243l8 2-1 1-2 2-6-1-2-2zM255 609l3-2 4 1-1 3-2 0zM592 74l0 2-5 4-2-2 1-4 4-1zM411 679l3-3 2 1 1 4-1 5-2 0-2-1zM484 330l0-4 3 0 8 5 0 3zM500 92l-2 3-8-9 3-7 6 4zM454 352l-1-7 4-1 6 2 2 7-1 3-5 2zM410 433l-2 3-8-4-2-2 6 0zM221 543l2-11 6 1-2 11zM239 343l2-6 5-2 3 4 1 12-8 1zM365 569l-3 2-3 1-6-6 0-5 7 2 4 1zM387 369l2-2 1 0 3 3-1 2-1 2-4 0zM403 495l-1-2 3-10 3-2 2 1-1 6zM442 617l2 2 2 5-2 0-3-2 0-2zM454 385l0 3-1 2-3-2 1-3zM594 238l-3 3-2-2 4-6 2 0zM175 525l5-1 3 3 0 4-4-1zM582 550l-3 10-1-4 1-7zM171 325l-5-4-1-7 8-6 7 1-1 9zM617 332l7 4-2 3-4 1-4-3 0-3zM464 790l6-2 2 6-7 6-4 1-2-7zM194 533l-2-1-5-5 1-2 1-1 6 5 0 2zM332 204l3-5 4-5 2 5-5 11-4 2zM441 341l-9 1-2-5 2-6 8-2 3 2 0 6zM355 775l1 4-2 1-3-1-3-4 5-3zM425 670l-5 5-3-7 7 0zM174 254l8 2-5 4-9 1zM829 533l6-2 1 4-4 9-6-4zM597 112l2-1 1 2-1 2-1 1-1-2zM775 483l2-3 4-1 3 3-2 5-3 1zM277 383l-4-2 0-2 3-2 2 3zM707 424l5-6 1 1 2 1-3 5-3 3-3 1zM407 464l-2 1-2-4 2-2 2 0 3 2 0 2zM572 320l-2-7 8 4 3 8 1 3zM512 822l1-1 2 0 0 2-1 3-2 2-1-3zM360 713l3-4 8 3 1 7 1 5-5 3-7-4zM640 606l-1 3-4 3-1-6 3-3zM516 132l1 7-4 0-5-6zM407 286l5-5 5 1 0 3-3 4-6 1zM381 746l3 3-4 2-5-1 0-1 2-3zM448 160l3-4 3 0 1 8-2 3-6 3zM223 424l4-1 2 3-1 4-4 0-2-3zM873 589l-4 3-3-2 3-3 4 0zM371 472l0-4 4-6 8-3 5 5 0 7-7 6zM562 185l11-7 4 6-5 8-6 0zM366 395l0-5 9-2 2 4-3 3-5 2zM283 727l2 1-2 4-4-2-5-3 1-1 0-3zM423 115l2 0 4 2 0 1-3 0-1-1zM867 613l-3 4-1-1 2-3zM571 595l5 2 0 3-2 5-3 1-3-3 1-7zM478 73l0 3-2 0-1-2 1-2 1 0zM574 589l-3-3-1-5 3 0 2 4zM690 569l-3 4-2 1-5 0-1-5 5-2 4-1zM366 475l3-4 2 2-2 3zM930 586l2 7-3 1-2-1 1-6zM640 292l9 7-7-2-4-5zM498 252l0 3-6 1-1-3 3-3zM728 588l8 4 1 2-8 4-4-2-6-4 5-2zM229 390l-2-3 3-3 3 2-2 6zM647 401l-4 0 0-3 4-1 3 1zM506 112l3 2-3 6-4 2-2-2 1-4zM571 166l-8-2 0-11 5 1 10 3-3 7zM574 284l-1-5 2 0 7 5 3 5-7-2zM463 502l8-8 4 4-6 5zM325 334l2 1 1 3-1 1-2 0 0-2zM391 623l-2 4-6 3 0-2-2-3 7-3zM566 550l4 0 1 4-5 1-1-2zM503 84l3-4 5 1-1 3-5 2zM424 588l-7 1 4-5 6-1zM600 613l-5 1-3-3-1-5 4 0 5 2zM257 474l-5 5-3-3 2-5 5-3zM292 481l0 2-2 2-2 0 0-3 1-1 2-1zM413 311l5 8 2 11-2 3-4 4-6-4-5-11 1-10 2-4zM204 625l1-13 7 2 3 6-7 7zM652 410l0 2-1 1-2 0-2-2 1-1 2 0zM168 422l-2-2 4-1 1 0 2 3-1 1-3 1zM375 562l3-1 0 5-3 3-3-2 0-4zM566 237l-2-3 1-6 3-1 1 7zM482 767l2 2 0 4-1 1-3-1-3-3 2-3zM411 418l2-1 1 3-3 0zM305 509l-5-1-1-3 3-2 3 0 4 2 0 3zM153 386l2-5 2 0 0 7-3 3zM324 326l-2-2 0-4 3 1 1 3zM483 743l3-1 3 0 2 2-1 2-4 0-3 0zM871 518l4 3 3 5-3 1-6-2-2-5zM218 615l6 0 3 6-7-1zM260 675l-7 4-4-2-1-7 7-2zM328 463l1-2 7 2-3 3zM503 408l4-2 5 4-3 4-6-1-2-2zM501 731l-2-3 1-1 3 0 1 3-1 1zM189 483l3 8-9 4-6-2 4-10 3-2zM558 106l8 2 1 2 1 4-7-5zM506 891l3 3 2 5-11-4 1-4zM256 360l0 2-1 1-3-1 0-1 3-2zM418 442l-5 0-1-3 6-3 3 1 1 4zM378 663l-10 5-6 0 1-6 7 0zM647 235l2 0 0 2-1 3-1 0-1-2zM812 564l-3 2-3-4 5-2zM632 460l-5-1 1-8 7-3 1 4 0 8zM305 602l-4-2 1-5 5-1 0 9zM935 520l-1 4-3 2-4-1-6-6 4-4zM214 548l-4 4-5 1-6-1-1-5 4-5 7 1zM575 386l1-3 6 2-1 3-1 2-6-2zM401 403l-2-1-2-2 4 0 2 0zM914 502l-1 7-4-2-2-1-1-7 4-4 3 0zM599 351l0-3 1-2 4 0 0 5-2 2zM599 156l4-6 1 5-2 8-1-1zM174 463l1 4-2 2-7 3 1-4 4-6zM409 561l2-2 2 1 1 2-1 3-4-2zM569 359l-2 3-5 1-2 0 1-3 4-1zM264 461l1 0 3 1 3 2-1 3-1 0-4-2zM500 326l8 4-4 2-7 0 1-5zM601 376l-3 1-3-4 3-1 3 2zM381 673l-1 1-3-1 0-1 0-3 3-2 2 1zM246 249l2 2 0 6-5-1-5-4 3-5zM654 383l0-4 3-5 2-2 0 6-3 9zM492 129l1 2-3 2-3-1-1-2 2-2zM386 182l2-3 6-3 1 13-2 5-5 0zM416 425l0 5-3 4-1-6 1-5zM403 547l-4 0-3-7 5-2 3 0 2 5zM795 547l-2-2 0-3 2-1 4 3 0 3zM213 401l-2 2-3-2 0-5 4-2zM500 264l0-4 2-2 6-1 1 4-1 2zM415 776l-4-2-1-3 4-3 2 4zM443 321l-4 3-2-2-1-3 8-4 2 3zM196 467l-3 1 0-4 2-1 2 2zM427 760l-4-3-1-1 0-7 5-1 1 4 3 5zM428 109l2-2 3-1 1 2-2 3-4 2zM519 843l-4 2-3-3 1-2 5-4zM481 394l0 4-4 3-1-3 2-3zM198 757l2-4 4-1 4-1-2 4-1 2-5 1zM407 515l-2 8-5-1-3-5 4-4 3-1zM250 442l-2 3-3-2 0-5 2 0 3 2zM577 106l1 2-1 3-3 0-1-2 0-2zM378 754l4 3-1 9-4 3-7 2 2-11zM594 515l4 0-1 8-10 7 1-10zM341 380l1-3 4-4 1 5-2 6zM488 499l1 3-3 0-3-1 1-3zM558 421l-3-2 0-4 3 1 2 5zM423 411l-3-5 2-5 5 0zM467 201l1-3 4 2 4 3-1 3-4-1-4-1zM181 445l2-4 2 2 4 6-3 2zM358 415l-1 0-1-3 1-1 1 0 1 1 0 3zM554 202l0-1 4 1 2 3-1 1-3-1zM244 618l-3 3-2-3 1-3zM278 685l4-3 3 1-3 5-4 3-3 0 0-2zM606 238l2 0 2 1-1 3-1 2-3-2-1-3zM402 471l5-3 4 0 1 3-2 2-5 0zM391 349l-4 2-3-2 4-4 5-2 1 2zM186 531l2 2 3 2 1 5-2 3-3-3-1-3zM408 585l2 1 2 2-2 1-2 1-1-3zM216 574l9-2 5 3-5 3-6-1zM613 392l3-3 4 1-4 3zM403 218l4 1 1 6-2 3-8-6 0-4zM409 127l3 3-1 2-3 0-3 0 2-4zM267 367l0-2 5 2 0 4-4-1zM216 255l-1 1-4-1 2-4 3 0zM707 448l6-4 4 2 0 10-9 2zM266 200l-1-6 9-2 3 5 2 4-4 5-7 0zM570 374l6-1 0 7-4 4-6-2 0-4zM333 148l-5 1 0-1 1-2 4-1 0 2zM854 616l-1 4-4 0-1-5 0-2 3-1zM308 592l1-4 7 3 5 7-2 1zM735 515l-7-7 7-3 4 5zM800 573l-5-4 2-4 4 1zM297 605l-4 2-2-2 2-4 2-1zM188 351l0 1-5 0-2-2 1-3 3 0 4 1zM497 117l2 2-2 2-4 2 1-3zM275 144l0-4 2-2 2 5-2 2zM365 624l7-3 4 0 2 3-3 4-8 0zM853 472l-6 0-2-3 5-2zM247 406l-1 4-3-1-2-2zM324 234l-4 5-4 0-3 0-3-5 6-3 5-1zM229 445l0 1-4 0-1-2 1-2zM631 442l2-3 2 0-1 5-1 1zM139 521l6 3-2 4-3-2zM291 226l-1 3-3 2-2-4 2-4zM327 257l-1-3 3-2 5 3-2 1-3 2zM440 376l5-8 6-1 0 8 0 4-9 2zM974 610l-4 1-1-1 2-2 3-1 1 0zM235 618l2 3-1 3-3 0-1-4-1-2zM231 452l-3-1-1-1 1-1 2 0 2 1zM235 377l-6 6-6 0 4-7zM651 401l0-2 2 0 3 3-2 1-2 0zM672 511l2-3 7 2 0 7-5 0-4-4zM442 411l-3 3-4 1-2-4 3-2zM475 386l1 2 2 4-4 2-5-3 1-2zM704 445l-6 8-5-3 7-7zM150 385l-2 9-7 2-3 0-4-6 3-4 5-7 4 4zM714 607l3 0 3 1-1 5-2 2-5 1 0-3zM596 340l3 3-4 2-1-5zM631 505l2 4-2 3-8-3 2-3zM481 281l4-3 4 11-4-2zM604 620l-3 0-1-3 4-1 0 2zM587 481l-5 1-2-1 2-5 4-1 1 3zM691 535l-6-3 9-7 3 8zM453 478l3-2 5 1 2 3-2 4-5 2-2-4zM490 397l7 0 3 6-3 5-5-1zM443 280l-4 3-2 0 0-3 4-2zM716 459l9 4 1 3-3 1-8-4zM604 197l-7 2-3-7 2-5 8-3 4 9zM483 312l-7 0 10-6 7 0-5 4zM269 468l6 4-1 2-4 3-4-1-1-4 2-2zM686 609l4 1 2 7-5 3-3 1-1-6zM556 399l2-4 4-5 5 4 0 8-3 1zM300 523l-5 3 0-5 3-7 3 4zM622 211l4 6-6 2-5-4zM498 590l2 2-7 9 0-4zM341 156l4 1 3 4-4 4-2 0-3-1 0-4zM343 265l0 3-2 1-2-3 0-1 1-3zM268 625l-5-6 0-3 4 1 3 4 0 3zM701 536l5-5 0 3-2 4-3 1-2-1zM422 623l-6 5-1-5 6-3zM368 546l1 2-5 3-4-1 2-2zM949 594l9 1-1 3-1 2-8 2-5-4zM188 430l-4 3-2-2-2-2 5-3 2 1zM153 480l6 7-1 8-6-1-1-8zM159 298l1-1 5-1 1 2-3 3-4 1-2-1zM565 516l-3 1-2-2 3-2 2 1zM584 498l1-5 7-8 5 1 0 6-5 6-6 5zM272 456l6-3 3 0 0 6-6 0zM382 296l0-3 3-3 2 0 0 3-2 2zM572 410l5-1 0 2 0 3-2 2-2-1-2-4zM357 325l-1-2-1-4 3-1 4 1 0 1 0 3zM568 348l0 2-2 1 0 0-3-1 1-2 2 0zM421 452l0 3-1 6-2 1-1 0 1-7zM193 449l1 1 1 3-2 0-3-3zM782 504l-4 3-3-1-2-4 3-1 3 1zM822 582l6-1 6 5-6 6-8-7zM582 404l3-2 2 0 1 2-2 1-3 0zM606 98l11 1 6 0 9 6-5 8-9 1-10 1-6-2 1-5zM750 607l-3-3-1-2 4-3 3 0 0 5zM450 211l-4 2-3-3 2-9 5 2zM346 589l-1-3 4-3 4 1 2 4-5 3zM223 692l-2 0-4-4-1-3 2-1 5 1 2 3zM197 360l2 0 0 3-1 1-2-1zM704 475l-6-14 4-6 5 7 2 6zM515 339l2-4 3 5-3 6-2 1-2-5zM613 123l3-6 2 6-1 7-4 1zM232 317l-10-2-1-2 8-4 3 5zM438 403l7-5 3 2-2 7-3 3-5 0zM154 627l-1-1 1-2 2-1 2 2-1 2-2 1zM558 309l1-2 3-2 2 3 0 4-4 1-2-2zM173 502l-4-3 2-8 5 0 3 6-3 3zM572 100l-3 0 0-3 2-4 4-2 1 0 0 3zM458 817l-1-4 4-6 6-7 2 5-7 10zM280 420l2-2 8 1 1 5-4 6-6-3zM198 619l0 3 1 6-4-6 0-4zM218 224l5-2 2 2 1 4-1 3-4 1-5-2zM517 87l0-4 1 1 3 1-2 2zM314 252l-3-5 8 0-1 3zM431 692l1-5 4 1 6 4 0 3-7 1zM397 207l-4-3 2-1 4 1zM480 820l-4-3 2-6 3 7zM628 537l1 4-2 2-4 0-1-3 5-3zM401 533l3-7 6-2-4 9zM227 486l-4 2-6-7 5-3zM289 553l8 1 3 3-5 2-5 0-3-3zM375 223l8-3 2 1-2 6-9 3zM385 214l6 0-1 4-3 2-3-4zM195 775l0 6-3 1-2-1-1-4 3-5zM445 514l4-2 3 2-2 3-4 4-3 0-1-3zM670 208l0-3 1-1 3 0 1 4-2 3-1-1zM753 599l2-7 8 1 2 6-4 2zM145 475l3 5-3 1-3 1-2-4 3-4zM481 604l-2 1-1-1-1-1 2-2 1 1zM765 565l3 3 2 2-5 0-6-4zM208 696l-8 0 6-8 6-2 5 3-7 5zM310 582l6-3 1 3-5 2zM601 627l-1 3-5-1 0-2-1-4 2 0 3 0zM318 149l-4-1 1-3 5-1 2 4zM388 463l0-4 2-1 2 2 1 4-3 0zM294 501l1 0 1 1 0 2-1 0-2 0 0-1zM388 257l1-1 5 3 3 4-3-1-6-2zM306 769l3-3 6 9 1 9-12-4zM447 241l1 5-4 5-5-1 2-5zM288 710l8 11-2 2-7-7 0-3zM470 258l-2-1-5-1-5-4 3 0 2 0 5 2zM426 563l-3-1 3-2 3 1 0 2zM619 294l-2-1-1-2 2-1 2 0 1 3zM490 213l-5 4-4 1 5-12 6-2zM362 226l-1-3 3 0 3 0 1 4-1 4-3-2zM458 775l-4 7-4-2 4-6zM460 460l3 2 0 2-2 2-3-1 0-1 0-3zM490 849l-3 1-1-1 0-2 4-1 4 1-1 1zM367 343l-2 1-7-3 0-2 3-1 6 3zM863 596l3 2-3 1-5-1zM440 709l4 2-3 4-3-2zM328 700l0-4 9-1 4 5-5 3zM820 550l-1-4 1-4 1-3 2 0 1 5-3 4zM290 778l-2-4 11-3 5 4-8 3zM411 113l5 4-1 3-4 4-5-6zM402 777l-6 3-5-4 5-2zM220 409l0 4-7-4-4-4 2-2 5 2zM181 464l4 3-2 2-3 2-2-4 2-4zM611 453l-2-5 2-1 4 5zM157 420l0-3 4 0 0 6zM137 676l7 0 5 2-6 7-6-1-3-4zM441 433l-2-3 0-3 3-4 1 3 1 4zM586 227l-1-3 3-2 3 0 1 3-3 2zM411 220l-1 0-2-2 3 0 2 1zM811 484l1-2 2 0 2 2 1 1-2 1-3 1zM895 608l0-3 5 3 3 6-2 2-5-1zM214 524l-5 1-5-1-3-4 5-1 3 2zM802 586l6-5 7 5-4 8-4 4-7-1zM215 371l0-2 4 1 0 3zM573 297l3 7-8-1-7-6 3-3zM348 205l2 5-1 1-3-3 0-4zM507 250l0-2 3 1 2 2-1 3-3 0zM489 88l-6 4-4 0 0-6 3-2 6 0zM488 557l1-3 4 1 0 2-5 2zM339 473l-1-6 7 4 6 9 0 6-5 1-5-4zM517 731l3 7-4 3-8 1 1-6zM272 360l-7 2-2-2 1-1 3-2 3 1zM633 512l2-2 4 0 1 3zM268 408l-3-3 10-3 2 0 6 0-7 5-3 2zM626 346l2-2 2 2 0 3-2 3-2-4zM414 160l1 2-1 1-3 0-3-2 2-1 2-1zM666 615l5-1 5 3-4 3zM463 208l4-2 2 1 0 6-2 1-4 0zM731 585l-6-2 9-1 1 1zM253 487l-7 0-2-4 2 0 7 1zM655 421l1-3 3 1 3 2-3 3-1 0zM846 540l-4-1-3-2 3-6 6-1 0 6zM160 256l3-2 4 8-2 3-3 3-2-6zM732 554l-5 3-1-5 5-5 2 1zM243 623l2 4-3 2-2-1 1-4zM473 439l0 4-2-1-1-2 1-3 1 0zM454 336l4-5 4 2 1 5-6 4-4-4zM462 922l-1-3 12-8 9 2 5 5-5 3-5 7-8-2zM419 266l1-4 9-3 2 3-1 4-7 1zM156 416l-4 3-5-2 2-4 4 1zM243 429l-2 4-6 3-5 0 0-3 3-3 7-3zM211 496l3 1 1 6-3 0-5 0-2-2 3-3zM496 495l-3 0-3-4 2-4 3 0 3 3zM577 130l4-1-1 4-3 3-3-1zM496 426l-2-1 0-1 2-2 1 0 2 2-1 2zM352 374l-2-1 2-2 2-1 1 2 1 2-3 1zM426 153l0-5 3-3 2 3-2 8-1 0zM877 600l4 1 1 3-4 4-5-1-1-3zM437 306l2 3-3 5-2 0-1-5 3-4zM231 467l-3 4-2-2-1-2 1-1 2-2 2 0zM603 565l8-1 0 3-3 7-7 2-2-2 0-4zM574 168l4 1 3 4-5 4-4 1-1-5zM413 571l0 2-5 4-4-2 1-4 4-2zM488 344l-2-1-2-3 2-3 5 0-1 3zM658 301l-2 9-4-4-1-11 2-4zM205 420l-4 0-2-4 6-1 2 2zM589 335l-2 4-5-1 2-5 3-1zM483 859l3 0-4 5-4 2-3-1 2-3zM641 322l6-4 8 0 0 3-5 11-6-1-5-3zM505 550l-3 1-2 0-1-3 4-3 2 2zM489 367l-3-1 2-4 3 2zM201 401l-7 7-4 1-3-4 5-7zM633 490l1-2 3-1 2 3-1 1-4 2zM354 443l1 5-2 0-3-2 1-4zM450 748l-4-5 3-4 4-2 1 9zM463 725l1-5 2 1 1 4zM141 489l-1-3 0-2 5-1 1 4 1 4-2 2zM487 629l-3-2 4-2 3 1 1 3zM760 532l-2 0 0-2 4-3 2-2-1 4zM628 361l0 4-1 3-3-2-2-2 0-4 3 0zM321 711l-3-7 7 1 5 6zM842 483l-4-3 1-3 1-2 4 1 2 1 0 5zM469 906l-1 0 2-3 1-1 2 1-1 1zM293 361l3-2 0 9-4-1zM891 506l12 4 3 4-1 4-9-3-5-6zM170 589l5-3 2 5-4 3-2 0zM240 523l4 8-4 0-5-8zM671 516l-2 5-4 4-5-5 3-5 4-3zM393 666l6 4 3 6-2 3-8-2 0-6zM284 769l-4-1-3-4 3-2 3 1 2 4zM610 581l1-3 3 0 1 4-2 3zM408 443l3-1 1 2-4 2zM870 481l-2 4-1-1-1-3 2-3zM927 626l-1 3-3 1-2-2 0-3 4-3zM440 588l-8-2 3-9 5 1zM177 671l2 0 0 5-2 2-2-5zM726 569l3 3-3 4-3 3-9-4 1-2 6-3zM478 315l1 2-2 3-3 1-2 0 0-3 3-3zM758 508l0 2-4 0-1-4 2 0zM360 505l5-2 0 3-2 6-4-1zM488 892l-1-3 1-1 6 5-1 1zM278 616l-4 2-2-1-1-3 0-2 4 1zM561 431l2-5 3-5 4 0-1 6-4 7-4 0zM263 415l8-4 2 2 2 6-3 3-4 1-4-3zM560 539l6 5-13 5-1-7zM419 360l4-1 6 4-1 3-4 1-8-1-3-6zM724 446l-1-5 2-2 5 4 0 4-2 3zM332 582l-4 3-9 0-1-2 11-3zM650 255l2 1 2 3 0 3-3 0-2-3-1-3zM657 352l-4 2-4-3 0-7 3-1 4 1zM412 177l-1-6 4-5 5 3-1 4-4 4zM428 627l-5 1 1-2 2-3 2 0zM756 570l5 0 1 2-6 1-2-2zM318 676l1 5-1 5-5 1 0-7zM888 495l4-2 4 4-6 2zM419 142l-1 2-3 2-2-4 0-3 4-1zM365 308l2-2 7-5 2 5-4 7zM485 266l-6 1-1-2 0-4 2-1 5 0 2 2zM626 176l4 1 1 7-4 1zM221 439l-3 2-4-4-1-3 3 0zM278 440l2-7 5 0 2 7-5 3zM970 613l0-1 5 1 4 3 1 2-4 1-4-2zM262 668l-4 1-1-1 0-3 2-2 3 0 1 2zM418 293l2 4-3 2-3 0 1-4zM406 377l1-7 5-4 2 5-3 5zM147 463l1 2-3 4-4-2-2-3 3-2zM325 604l1-4 6 4 1 1-4 2zM159 456l-4-3 4-4 8 0 0 3-5 3zM293 460l1-1 2-1 1 1 0 2-2 2-2-1zM673 581l-5-1 2-4 4-1 0 4zM510 515l0-3 2-3 3-1 2 5 0 3-3 0zM199 597l3-7 6-3-2 7-8 8zM680 627l-3 3-3-1-1-3 2-2 5 2zM301 752l-2 6-5 1-1-4 1-4 4-2zM149 432l-4-1 6-5 5 2zM390 333l-1 6-1 3-4-1 0-3 1-4 3-3zM503 580l5 5-1 7-7-1-3-8zM442 511l-2 6-3 1-4-1-2-3 2-5 3-2zM495 240l-1 2-2 0 1-7 2-4 2 0 1 5zM324 596l-2-3 2-4 4 0 4 2-1 4-3 2zM349 273l4 7-4 6-5-1-3-3 5-8zM892 626l-6-1-3-4-1-6 3-4 6 2 2 3 1 8zM403 193l-4-4 3-1 1 1zM473 411l-5-6 1-2 8-1 2 8zM711 516l10-5-5 8-5 2zM571 531l1 8-2 6-2-3-1-8 1-3zM457 519l0 1-2 1-1 0-1-2 2-2zM342 681l2-1 1 5-2 3-3-1-1-4zM442 108l-6-5 9-3 5 4zM453 244l2-2 9 3 1 4-2 2-8-3zM242 486l4 6-2 4-1 1-2-5 0-4zM910 574l-4 0-2-1 0-1 4-1 3 2zM478 171l4-3 3-1 2 2-4 3-4 0zM572 85l5-2 3 0 1 3-7 4-4 0zM891 595l-4-4 4-1 6 3-3 3zM393 528l-1-6 4-2 1 4-2 4zM201 525l-1 2-2 0-1-1 1-2 3-2 0 1zM429 706l-8-2-1-6 3-2 6 4 1 3zM414 584l-4-2 3-2 3-1 1 2zM501 94l3 0 1 1-1 3-3 1-1-2zM363 218l3-4 3-2 3-2 0 4-4 6-3 2zM390 565l0 5-3-3-2-7zM389 595l-3 0-2-4-1-6 1-2 2 1 3 5zM413 712l1-3 5 1 8 3-3 0-6 2-3-2zM280 700l-5 1-2-2-1-3 7-2 4-1 2 3zM415 466l-3-1 0-3 4 1 2 2zM358 535l-1 0-1-3 1-3 2 1 0 2zM640 383l-2-4 4-2 3 3-1 6zM400 567l0 2-3 1-3-2 0-3zM462 377l-1 0-3-2-1-3 1-1 3 2zM741 601l1 2-6 2-3-3 3-5zM578 114l8 2 4 2 4 6-3 0-10-4-4-6zM632 574l-6 0-7-2 5-4 9-1 2 4zM419 330l6-2 4 6 1 2-7 1-2-3zM340 498l7-7 6 2 1 2-5 6zM351 487l-1-1 6-3 0 5zM433 201l2 5-6 1 0-4zM699 606l5 0 1 1-1 3-4 0-2-2zM165 530l2-3 8 3 0 1-4 3-5-1zM698 522l2-5 6 5-1 5-5 2-2-4zM421 190l5 4 0 2-3 1-3-2-2-4zM364 247l5 0 2 2-3 5-5-3zM323 782l6 0-1 2-1 3-4 0-5-2 1-2zM283 234l2 2-3 2-1-4zM431 590l3 2 0 3-3 3-2-4zM482 322l3-2 1 2-1 2-3 2-2-1 0-2zM403 481l-1 2-2 0 1-3zM782 472l1-5 3-1 5 0 0 2-2 3-5 1zM315 524l-2-5 3-1 5 5-3 2zM327 215l0 1 0 6-7-1 1-5zM465 579l3 0 3 2-2 6-5-2zM688 537l4 1 2 3 2 4-3-1-3-3zM518 697l0 1-1 3-4-1 0-3 3-2zM672 504l-3 0-1-4 4-1 3 2zM619 379l4 3 0 2-5-3-2-2 0-1zM343 723l-9-2-3-3 1-7 7 5zM560 340l7 0 5 2-2 1-6 1-4-1zM202 490l-4 1-2-2 0-1 4-2 1 2zM473 884l-6-1-2-4 9 2zM367 317l-6-2-1-3 3-1 5 2 0 2zM319 674l-5 1-1-2-2-3 4-2 2 0 4 4zM618 195l-8 7 0-6 6-5zM670 528l1 1 0 2-3 1-3-2 1-2 1-1zM413 259l4 0-1 8-4 0-4-4zM435 246l-3 3-5 4-2-3-2-4 4-4 5-1zM193 609l4-2 1 3-4 4-1-2zM162 394l-3 9-4 3-4-7 7-7zM248 537l-4-5 3-3 8 4 5 5-2 2-6 1zM213 238l4 1-3 4-3 2-7 1 1-2 4-5zM444 533l4 3 1 7-2 0-2-5zM904 593l3-3 3 4-5 3zM650 341l2-4 5 0-2 4zM483 436l6 4 0 4-3 0-2-4zM478 53l-3-2-1-1 0-2 1 0 3 2 0 1zM216 608l-1 1-3 1 0-2 3-1zM517 865l-6 0 2-6 6-1 2 5zM797 481l-1 2-3 2-3 0-1-2 2-3 3 0zM793 495l2 1-1 2-4 3-2-3zM213 531l-2 2-1-2 1-2 2 0zM200 345l1-2 3-2 4 5 0 2-5 3zM434 457l2 1-1 3-6 3-7 1-2 0 5-5zM275 279l2-1 0 4-3 3-3 2 1-5zM506 293l3-2 4 4-3 4-4 1zM176 357l-2 4-5-5 1-7 3-1 3 4zM594 396l2-2 0 4 0 5-3 0-1-4zM646 546l-1 1-3 0 1-3 1 0 2 0zM362 444l2-3 2 2 1 3-4 1zM676 586l4-2 3 3 1 2-5 2-6-3zM486 853l2 0 4 2 0 5-1 4-5-5zM640 433l-1-4 4-1 3 2-2 5zM673 464l4 0 5 4-2 3-3 2-4-2zM570 627l-3-5 3 0 4 3zM615 252l1 2 0 3-3 2-3-2 2-5zM714 484l3 4 3 6-7 1-6-1-2-3-1-4 2-3zM267 568l4-6 5 0 0 8-5 4zM650 547l1 2-1 3-4-3zM145 621l3-5 3-1 0 2 0 4-3 4-3 0zM564 241l0 3 0 1-3 0-1-3 2-1zM466 578l2-5 11-11 4-1-4 9-7 5zM426 186l-1-2 1-6 3-2 3 6-2 5 0 3zM362 263l-3 2-2-3-1-2 3-2 1 0 2 2zM389 770l-2 2-4-4 3-1zM566 255l-2-4 3-2 3 0 2 3zM322 389l2-1 0 4-1 1-2-1-1-2zM845 592l-11-3-2-5 4 1 9 4zM581 353l1-1 6 2 3 2 2 3-4-1zM454 490l3 1 0 6-4 3-3-3zM446 583l5 1-2 7-4-1zM371 614l-1-2 2-4 3 2 1 3-3 4zM737 569l2-4 1 0 3 2-1 3-1 3-2-1zM661 479l-1 1-1-5 1-3 2 1 0 3zM553 104l4 0 0 1-3 2-2 0zM213 563l1 1 1 3-2 1-2-1 0-3zM654 371l-2-2 0-3 3-3zM748 630l-2-1 0-4 2 0 2 1 0 3zM566 200l5 2 0 6-5 1zM171 432l-1-2 2-4 6 0 1 3zM180 596l7 1 0 3-2 1-3 1-4-3-1-1zM394 248l-5-2-5-4 5 0zM597 281l5 2-5 2-6 0 1-3zM705 478l3-5 3-2-1 5-3 5zM397 298l-2-6 6-6 7 6 1 9-10 3zM847 604l-3-2 0-1 3 0 1 1 2 1zM649 576l2-2 3 0-1 1-1 1zM610 498l-2 1-1 0 0-2 2-3 1 2zM454 529l0-7 1 0 4 5 2 5-4 0zM191 323l5 4-4 0-11-5 2-3zM267 587l-6-3-3-3 14 4zM579 465l-4 4-5 3-2-1 3-5 5-3 4-2zM390 436l-5 2-4-3 2-3 4-1zM969 624l3-2 3 0 2 2-3 3-2 0-2-1zM189 680l3-6 5 5-1 9-6-1zM438 441l0-2 1-1 3-2 0 2-1 1-1 2zM309 516l0 3-3-1-3-3 4 0zM669 450l-5 1-1-6 1-7 3 4zM363 744l1 1-4 6-1-3 2-4zM391 220l2 0 0 5-3 2 0-2zM464 741l1-1 4 5-1 2-4-3zM306 225l-3 4-5 1 1-7 5-2zM632 409l1 7-3 3-3 0 0-8 2-1zM395 760l-3 2-2-2-5-6 5 0 4 3zM431 316l1 5-2 1-4-1 2-5zM505 779l-4-3 1-3 8 0 0 4zM429 766l-1 3-4 1-2-2-2-5 5-2zM725 560l2 3-5 1-5-3 2-2zM443 120l3-1 3 3-3 5-4 0-3-4zM468 528l0 2-1 3-2-3 2-5zM181 284l4-3 3 5-8 6zM304 757l1-7 5-1 4 6-3 5zM296 525l1 2-8 4-2-1 0-4 4-3zM246 449l-2 0-1-2 1-2 2 0zM278 544l0-4 5-1 3 1 1 3-3 3-4-2zM209 559l-1 2-4 1-2-2 1-2zM338 314l3 2-3 5-7 1 0-4zM517 901l-1 2-6 2-1-2 1-3 5-1zM642 520l-4-3 2-3 3 1 3 0-2 5zM831 573l-3 3-1-2 2-7 3-1 0 4zM520 524l-5 1-5 1 3-6 8 0zM220 519l-5-2 1-3 4 1 2 1zM507 227l-3-4 2-1 3 0 2 2-2 3zM520 727l0 3-3 0-2-3 0-3 1-1zM460 89l-1-1 1-4 1 0 1 3-1 1zM342 436l4-1 1 3-1 4-1 1-3-2-1-3zM256 322l-10 5 6-8 5-2zM153 522l3-1 2 3-2 2-3-1zM668 539l10 0-1 4-4 2-7-4zM462 591l3 1 2 3-1 2-3-1-4-3zM855 590l0-3 2-3 3 2 1 3-1 3-3 1zM917 583l1-2 1-1 2 0-1 2-1 1zM342 308l-4 2-2-3 7-4zM557 229l1 3-1 2-4 0-1-2 2-3zM506 307l-2 2-3-2 0-2 1-2 3 0 1 2zM505 376l-2 2-1 1-2-1 0-2 3-1zM415 412l-1-4 4 1 2 1 1 6-3-1zM610 399l-3 1-1-7 1-3 5-1 1 6zM823 481l0-3 3 3-3 4zM732 518l4 0 1 2-3 2zM498 432l0-4 4-2 3 2-3 4zM207 470l-2-7-2-7 5-1 5 4 0 7zM336 283l0-3 2 0 2 1 0 2-1 0-2 0zM803 484l4 1 1 4-3 0-3-1 0-3zM415 468l4 3 1 6-3-2-3-5zM579 630l-2-3 3-3 4 1 0 4zM378 266l1-5 3-2 2 0 3 4-2 6zM747 488l0-3 3 0 2 3-2 2zM504 748l-1 5-3-7 0-3zM352 255l-4-4 2 0 3-1 3 1-3 3zM345 735l9 7-6 4-7-6zM271 682l-5 2-2-3 4-3 3 1zM276 628l-8-1 2-1 5-2 2 2zM245 277l-9-1 2-5 7 2zM580 295l-1 1-2-1-1-1 0-2 2 0 2 2zM507 243l1 3-2 0-1-1-1-2 1-1zM855 555l-7-1-1-4 5-5 4-1 3 4-2 3zM814 519l0 2-5-2-1-3 3-1 1 0zM799 623l0 6-4-2-2-5-1-4 5 2zM251 223l-1 6-4-1-4-11 2-4 6 4zM363 147l-3 2-5 0 4-3zM846 509l-2-1 1-4 1-1 4-1 1 1-3 5zM365 577l-1 2-4-1 2-3zM451 464l1-1 4-1 0 0 0 2-1 1-3 0zM425 735l-5 1 3-4 4-2zM741 465l-1 1-1 2-3-2 0-2 2-1 1 0zM501 517l-1 3-2-1 1-3zM360 617l4-3 3 0 1 4-6 3zM614 529l-5-1-1-6 3-5 6 5zM367 349l3 1 1 3-4 1-2-2-1-4zM419 77l6 0 2 7-5 0-2-2zM825 611l3-4 3-1 4 2-2 2-5 3zM657 403l3-2 2 2-1 2-3 0zM369 201l-1 3-7 3-2-5 6-4zM572 209l9 2-3 4-5-2zM762 520l-1 2-5 1-1-3 3-1zM609 350l2-3 3-2 1 3 0 2-2 3zM608 464l1 3-1 1-4-1 0-2zM686 490l-4 0-5-2 3-9 4-3 3 6zM691 581l0 3-2 1-2-1 1-2zM191 271l2 4 0 6-3-3-2-3 0-4zM217 473l-2 0 3-3 1 1zM462 629l-2 1 0-4 2-2 2 3zM323 334l-1 4-6 0-6-3 3-4 5-2zM430 614l2-6 6-2 0 5-2 5-3 2-4-1zM431 341l-1 3-3 2-2-2 0-3 5-1zM706 544l-1 7-3 0-2-5 0-3zM255 510l3 1-2 6-4-1-3-1 1-3zM307 482l6 5 0 3-7-5zM433 152l1-1 5 1 0 1-2 3-3-2zM477 440l0-2 2-1 1 0 1 2-3 2zM324 238l2-1 0 1-1 3-2 2 0-3zM904 539l4-1 0 5-2 3-3-2-1-2zM415 357l-2 5-2 2-5-2 0-5 6-2zM412 606l-2-1 0-6 5 1 2 5zM555 193l-3-1 0-3 6 0 6 0-3 3zM413 528l6-2 0 2 1 3-5 2-3-2zM632 156l-5 0 1-2 2-3 3 0 4 0 1 3zM969 624l-3 2-4-4 5-1zM557 154l-1 4-1 2-2-1 0-4 1-1 2-1zM212 321l2-5 2 5-2 6-2-2zM196 750l4 1 1 2-4 2-8 1-3-2 3-1zM577 258l2 0 0 2-2 1-2-1zM256 241l-2-1 2-1 4-2zM506 179l2-3 3 1 0 2-4 3zM161 495l3 1 1 1-1 3-2 1-2-4zM305 555l-4 1-3-1 2-2 4 1zM336 349l4 5-4-1-9-4 0-3zM284 251l-4-1-1-3 4-1 3 3zM604 485l-1 4-4-4 2-1zM898 601l1-4 2-4 2 7-1 5-2 4-1 0zM365 773l1-2 2 1 0 3-2 0zM287 734l2-2 5 5-2 2-4-1zM458 384l4-6 5 1 2 3-4 3-5 1zM260 465l-10-3-6-5 11 1zM406 663l-1 2-4-2-1-4 3 1zM170 672l1 0 2 1-2 5-2 1-2-2 0-1zM391 472l5-7 2 6-5 4zM553 134l2 1 1 2-2 1-2-1 0-1zM513 495l2-4 3 1 1 4-3 5-3 0zM469 562l1 2-4 1-3-3 4-3zM508 765l-3 3-2-1 0-3 3-2zM319 717l1-5 2 0 2 4-1 3-1 1-3-1zM215 744l3 1 2 4-3 1-5 0-4-2zM355 303l6-6 7 2-5 4zM444 461l0-1-1-2 1-1 2 1 1 3zM407 548l2-1 3 0-4 5-4 3-1-3zM747 516l-5-3-1-2-1-4 4 1 3 4 0 3zM647 605l-2 2-3 0-3-5 5-1 4 0zM511 587l2-3 7 3 0 5-3 2-6 0zM769 534l3 0 1 6-4 2-2-2zM569 145l0 3-2 2-2-1 1-3 1-1zM293 463l3 1 0 14-2-2-5-10zM557 486l-3-4 2-4 6 3 3 4-1 2zM617 571l-3-2 0-5 5 0 0 3zM411 678l-4-3-2-6 3 0 3 4zM765 614l2-2 4 2 1 4-5 6-3-4zM628 602l-6 2-4-3 6-6 2 2zM391 787l-1 0 0-3 2-1 2-1 1 2zM805 622l1 0 2 7-2 1-4-2-1-4zM584 165l8 2 7 8-3 1zM189 372l1-4 5 2 0 4-5 0zM519 402l-6-2-3-3 3-7 5 3 3 3zM369 597l2 1 0 1 0 3-2 2-1-1-1-3zM150 292l0 8-1 4-10 4-4-4-2-8 7-3zM515 244l1 1 4 2 0 2-1 3-2 0-2-3zM166 377l-2 6-5 0-4-10 2-3 8 2zM451 307l0-2 3-4 4-3 0 3-1 1-5 6zM763 560l0-3 6-1 1 3 1 1-5 2zM450 290l-4-3-1-6 6 0 3 5zM442 604l-1-3 2-3 3 1 2 2 0 3-3 1zM307 527l2-3 3 0 1 5-2 0-3 1zM488 102l-3 2-6-2 2-3 4-1 1 1zM805 453l5 3 3 3-6-1-5-1-1-3 3-1zM585 429l1 1 0 5-2 0-1-4zM226 439l-1 0-1-1 0-3 2 0 0 2zM262 374l3 8-1 2-3 6-4-5 1-5 1-5zM224 562l5-2 0 2 0 4-3 0-3-2zM239 231l0 1-2 0 0-2 1-1 2-1 1 1zM379 234l1 5-1 2-2-2 0-5zM143 615l1 2-2 2-3-2 1-3zM289 348l3 2-3 4-4-3zM518 239l1 1 0 1-1 3-3 0 0-3zM562 322l0 5-4-6-1-4-1-7 5 4zM651 361l-2-3 2-1 5 0-3 3zM624 191l-1 2-2 0-1-1 2-2zM835 507l-4 2-1-4 6-1zM690 464l2-1 1 1 1 2-2 0-1 0zM366 193l-3-1 2-6 3 1zM251 258l2 0 1 2-4 2-1-2zM461 177l2-1 4 5-4 0zM302 703l-4-1-1-2-2-3 4-1 4 4zM385 504l3 1 1 5-4 4-3 0-5-2 0-7zM195 572l3 4 1 2-6 5-2-5-1-2zM507 417l1 1-3 4-3 2-3-2 3-4zM554 334l2 2 0 2-2 2-2-4zM276 235l-5-6 4-7 4 4 0 6zM634 285l-5 1 2-8 2 2zM257 337l-2-11 3 0 2 4zM372 332l-6 5-4-4 0-5 2-3 7 3zM193 474l-3 1-2-2 1-3 1-1 3 2zM239 690l3 7-4 1-3-2-1-3 1-5zM564 259l2 3-1 3-5-1 0-3zM152 672l-7-10 1-1 6 7zM282 493l0-1 6 4 0 3-4-3zM873 489l-2 1-3-1 3-2 3 0zM742 571l4 3 1 2 0 3-4-3-2-3zM325 202l-5 0-2-1-3-3 5-4 4 0 3 4zM567 582l-2 2-2 1-1-2 1-3 2-1zM584 212l7 1 1 3-2 1-6-1-2-2 1-1zM399 590l2-1 4 0 1 1-3 2-2 0zM350 764l-4-7 2-3 2 3 2 5zM685 473l1 3-1 2-2-1 0-2zM471 810l1-1 2-3 4-4 3 0-1 3-6 4zM829 558l1-2 4-1 3 3-1 1-4 1zM375 697l-1-2 3-4 2-1 2 1 1 3-1 2zM572 422l-2-1-1-2 1-1 3 0 1 2zM457 77l6 2-5 5-6-2-3-1zM520 283l1 3-3 0-3-1 1-3zM476 230l1 1 0 2-1 2-3-1 0-1 0-2zM336 299l-1-1-1-4 4-2 1 3 1 2zM194 342l1 1 5 2-1 1-4 0-4-1 0-2zM735 622l4 6-4-1-7-2-1-4zM261 221l2 0 3 2 1 2-1 3-4-2-2-3zM363 368l1-3 1 1 2 2 0 1-2 0zM606 167l5 11-4 2-5-9-2-7zM561 275l3-1 1 3 0 2-2 1-2-4zM577 616l1-2 2-1 1 2-1 2zM573 341l-3-6 2-5 2 1 2 5zM354 392l1 3-1 0-5-1-1-2 0-2 2-1zM683 447l2 0 2 2-1 1-2 1-2-1zM516 73l4 2-1 3-5 5 0-6zM144 670l-2 0-3-1 0-1 1-2 2 1zM255 691l-2 0-4-6 4-4 3 4zM471 549l0 8-3-1-1-6 2-3zM267 257l4-3 4 3-1 4-3 3-4 0-2-4zM141 624l1 4-1 2-5-1-1-3 2-3zM445 175l-4 2 0-4 4-1zM415 594l0-3 2 1 2 2 1 3-2 1zM718 537l-2 0-2 0 1-3 2-1 4 1-1 2zM497 49l3-2 2 2 1 3-3 2-3-1 0-1zM593 433l-1-2 0-5 3-2 2 3 0 4zM263 591l2 0 4 2-1 2-1 1-2 0-2-3zM330 248l-1-3 5-1 2 5-2 2zM329 275l-3-1 0-2 5-3 1 3zM261 477l1-2 2 0 1 3-3 1zM506 524l2 2 0 2-3 0-4-3 0-1 4-1zM454 603l2-1 4 2-1 3-4-1zM924 562l2 0 4 4-4 0zM321 548l-7 3-4-8 2-6 7 3zM671 623l-5 5-3-2 2-3zM397 270l2 1 0 5-4 1-2-2 1-3zM429 224l1 6-1 5-5 1 0-6zM166 689l-2-4 4-4 2 7zM500 154l4 3 1 2-6 6-7-2-2-3 1-3zM263 341l-7-2 0-1 4-1 3 0 2 3zM426 414l1-3 1-1 2 2 0 5-1 3-2-2zM474 220l3-2 2 2-1 3-4 1zM315 695l-1-2 2-2 2-2 2 2-2 2zM975 599l0 4-2-1-3-3 4-1zM791 557l3-4 2 0 0 2-1 5-4 0zM355 515l1-2 3-1 3 4-2 2-3 0zM220 374l3 2 0 2-2 2-4-1 1-2zM399 196l0 2-3 0-1-1-1-2 2-1zM475 740l-5-6 2-1 5 3 1 4zM554 127l2 1 1 3-2 1-2-1-1-2zM353 378l3 1 0 1-2 2-2-2zM620 429l0 1-2 2-2-1 1-2zM366 559l1-2 2 1 0 2 0 0-2 1zM276 620l3-2 1 3-2 1zM468 88l0-1 0-2 2-2 2-1 0 3-1 2zM826 496l0 4-2 2-2-4zM166 591l1 1-5 3-2-4 2-3zM477 138l1 6-3 0-4-7 1-4zM631 377l0-1 3-1 4 3 1 3-5-2zM151 594l-1 1-1-4 2 0zM482 462l2-1 0 3-1 3-1-3zM182 541l3 6-7 0-2-7zM680 508l-1-2 0-2 1 0 2 0 0 2-1 2zM159 423l7 8-1 4-8 0-3-9zM287 354l2 2-1 5-3 0zM227 419l-10-2 4-4 10 0 3 5zM632 202l4 1 5 4-3 1-3 1-4-4zM898 564l3-1 4 4 0 4-5-3zM291 373l1-1 2-1 0 2-1 2-1 0zM500 827l-3-1-1-4 2-1 3 0 1 3zM496 200l-2 1-3 0-1-1 4-2 2 1zM469 225l2 1 2 4-3 3-3-2 0-3zM587 148l-5-9 6 1 5 5-1 5zM595 547l-12 4-4-1 4-3 9-1zM561 270l-2 2-7 0 0-3 0-2 5 0zM224 282l1 2 1 3-2 2-1-1-1-3 0-2zM283 314l5-4 3 0 1 3-4 2-5 0zM163 411l4 0 3 6-5 0zM511 445l-6 1 0-4 2-4 5 1zM376 407l0 2-5-1 1-4 2 0zM612 436l-1-3 0-1 2 2 2 2 2 3-3-1zM311 352l-2 0-2-6-1-5 2-1 3 5zM484 474l5-2-1 4-7 3-1-2zM486 119l-2 0 0-1 0 0 3-2 1 1zM789 563l3 2 0 3-3 1-2-1-1-4zM164 354l0 2-3 2-4-3 3-2zM445 147l1-2 3 0 2 2-1 2-3 0zM262 404l3-1 2-1 1 2-2 3-2 1-1-2zM699 622l-2 4-7 3-1-4 3-3 8-4zM433 507l-9-11 3-3 9 6zM235 580l-3 5-3 1-4-1 2-3 5-2zM487 824l1-5 5 3 0 6-2 2zM830 619l1-2 2 0 1 2-1 3-1 0zM481 376l1 1-1 2-5 3-1 0-1-2zM378 597l3 0-1 2-2 3-3-3zM361 249l1 0-1 3-2 3-1-2 0-2zM828 545l1 0 3 0-1 2-1 1zM434 444l0-4 2-1 0 2 0 4zM355 493l2 0 4 2 2 2-2 0-3-1-2-1zM207 487l-2-1 0-4 3 0zM261 250l-10 3-4-2 1-2 9-3 5 2zM201 745l-2 2-3 1-1 0 1-5 3 0zM963 604l1 3 0 1-2 0-1-1-1-2 2-1zM749 550l2 2 0 5-5-3-1-2zM456 396l1-5 3-2 2 3-2 5-3 0zM501 303l-3-2-1-3 4 2zM231 615l-2-5 4-2 2 5-1 2zM300 421l5 1-1 1-8 3-6-1 4-4zM500 805l-2 2-4-1-1-2 3-2 2-1 3 2zM649 456l3 0 1 5-3 1-2-1-1-5zM765 573l2 3 0 1-2 0-2-2 1-1zM633 549l-2-2 1-2 1 1 1 2zM341 613l-4-2 0-4 4-1zM326 471l-5-2 2-3 5 2 2 1 0 2zM821 561l-3-3 0-6 5 0 3 2 1 5zM817 580l-2 1-4-1 0-3 0-2 4-1 3 2zM629 332l0-2 2-1 2-1 2 1-1 2-3 1zM437 395l-1 3-5-2 1-2 3-2zM461 172l2 0-1 2-2 2-2 0-1-1 3-3zM514 921l0-3 3-3 2 1 1 2-3 2zM699 569l4-4 2 2-3 2zM149 457l2 0 0 1 0 2-2 1-1-2zM878 471l0 4 0 6-1 4-3-5 0-5zM282 375l2 2 1 3-3 5-2-3zM519 691l-5-4 1-1 4 0 1 4zM700 516l0-2 1-1 1 0 1 2-1 2zM228 209l4 0 1 2-7 1-2 0 1-2zM520 629l-1 1-2-3 1-2 2 2zM320 416l-2-1 0-4 4 0zM278 252l3 1-1 4-4-3zM413 381l3 0 1 2-1 1-2 0-1-1zM719 498l3-4 8 5-1 5-9 2zM847 566l-3-1 1-4 1 0 2 5zM520 705l-1 1-3-2-1-2 2 0 2 1zM401 622l-1 1-4 0-2-1 3-2 2 0 2 0zM567 563l-1 4-4-2-4-5 4-2 2 1zM444 78l-1-1 4-2 5 2-1 1-6 2zM476 833l-4 3-6-6 1-4 5-1zM397 239l1 2 0 2-2 0-1-1-1-1 1-2zM250 526l1-3 2-2 2 0 1 3-3 4zM250 628l1-4 4 0-1 3-2 3zM429 402l1-2 2 0 1 3 0 2-2 1zM447 729l1-6 3 3 2 5-3 5zM798 461l-4-4 3-3 2 0 0 6zM407 598l-4-3 1 0 3 0 0 2zM280 624l5-4 4 4-1 4-7 1zM574 354l6 1-1 5-4 1-4-1-1-3zM208 568l-2 5-4 0 0-5 3-2zM791 538l-2 1-2-2 1-2 3 0zM556 143l5 3-2 5-4-1-3-5zM279 737l1 1-3 1-4-1 0-2 1-1zM173 598l1 2-1 1-2 0-1-1 1-3zM339 455l0-3 1 0 1 2 0 2zM472 609l-4-1-4-6 3-4 5 5zM299 540l-1 7-8 3-1-5 6-4zM634 466l-2-1 2-2 2 2zM501 878l4 0 1 4-6 2zM226 300l3-5 11-2 3 4-9 4zM473 455l0 2-3 3-2-1-1-3 3-3zM614 329l-3 4 0-7 2-5 2 3zM557 510l-1 2-1 1-3-1 0-1 3-2zM475 893l-2 8-4 0 0-7zM154 529l4-2 5 4-3 6-3 0zM433 624l-1-1 2-1 2 1 1 1-3 2zM468 686l-1-2 4-1 1 1 0 3-3 0zM320 210l0-2 6-1 3 2-5 2zM453 101l0-3 2 1 3 2 0 1 0 1-4-1zM346 629l-2 0-2-1 0-3 4 1zM653 583l0 2-2-1-2 0-1-2 1-2 3 1zM871 609l-4 0-3-2 0-2 5-1 1 0 2 4zM192 587l-1 2-3-4 1-3 2-1zM298 235l2-1 4 3-1 4-3 1-4-3zM249 370l-5-5 5-2 4 4zM260 564l-3-2-1-3 1-2 5 0 2 5zM360 542l5-5 1 3 0 4-5-1zM610 208l0-3 3-2 5 3-2 2-4 2zM646 482l-3 4-3 0 0-5zM433 257l-3-2 1-2 2 0 2 1 0 4zM443 689l-3-2 4-8 2 1 2 1 0 6-3 2zM625 370l2 0 2 2 1 5-2 1-2-2-3-4zM500 356l-4-1-4-11 0-4 5 8zM206 368l1 0-1 5-3 2-4-1 0-3 3-1zM289 701l3 0 4 3-2 4-5 2-1-2zM496 362l3-1 3 1 1 3-6 2-3-3zM328 142l-2 3-4-2 0-2 4-3 3 2zM508 539l0 2-1 3-2 1 0-5 2-2zM621 184l0 5-2 3-1-6 1-4zM747 471l5 0 5 2-1 3-7 0zM499 612l1 3-2 3-3-1-3-3 2-1 2-2zM202 447l3 1-1 7-6-3zM284 611l-7-5-2-8 3-1 4 4 4 5-2 3zM512 556l3 2-8 4 1-6zM261 209l1 2-4 0-1-1 1-2zM433 704l0-2 4-2 2 2-3 3zM852 585l0 2-6-2 0-2 5 0zM391 444l3 1-1 3-2 0-2-1 1-3zM357 586l-3-2 1-3 3 0 2 1-1 2zM928 623l5 0 4 1-3 4-5 0zM493 590l-1 2-2-2 0-4zM309 315l-3-3 0-5 4-2 2 8zM569 313l-1 2-3-2 2-2zM245 289l1-3 4 0-2 9zM481 872l2 4-2 3-5 2-2-2-1-2 5-8zM554 436l1-3 3-2 2 2 0 5-4 0zM376 686l-2 0-3-2 3-1 3-2 2 3zM349 153l0 2-1 1-2 0 1-2 1-2zM618 400l2 0 1 4-1 5-3-1 0-1zM508 828l2 0 3 1 1 3-5 1-2 0-1-3zM407 403l0 2-3-1-1-1 3-2zM588 277l-2-2 0-2 3-3 1 3 0 2zM580 574l6-2 1 6-5 2zM667 612l-4 0 1-5 2 0 2 3zM595 558l-3 3-4-2 2-4 1-2zM597 236l4-3 2 1 0 2-2 2-2 1zM191 438l2 5-2 1-1-4zM511 88l7 3 1 4-2 3-5 2-2-5 0-5zM493 95l0 4-3 2-3-4 1-2zM187 478l-3-1 1-1 1-2 2 3zM309 440l4 4-5 4-3-5zM329 211l-1-1 5 1 2 3 1 1-5 1-2-1zM519 533l1 3-3 2-2-2 0-2zM610 290l3 4-5 5-2 1-1-6 4-4zM359 374l1-1 2 0 0 3 0 1-2 0-1 0zM427 714l-3-5 3-1 4 1 0 4zM580 525l2 0-2 3-4 0 0-3zM440 170l-5-1 0-3 3-3 2 1 1 4zM509 400l1 2-2 0-3-1 0-1 2-1 0-1zM473 211l3 3-2 3-3-4zM638 557l0 2-1 1-2 1-2-2 2-2zM271 504l-3 1-2-2-1-2 4-3 3 2 0 2zM434 665l5-1-1 5-4 2-7 1 0-3zM193 265l-2-1 0-3 3-1 1 3zM505 276l-5 1-4-2 1-2 3-1 4 2zM267 286l-1 3-2-1-2-3 2-2 1 0zM406 95l-1-3 3-3 2 4-2 3zM326 387l-2 0-2-2 2-6 1-2 2 3zM819 536l-2-1-1-3 2-2 1 0 2 5zM187 525l-2 1-1-3 1-3 2 0 1 2zM483 406l3-3 1 1 1 3-2 1-2 0zM219 461l0-4 6-3 2 1-3 6-5 2zM207 779l1-3 2-2 3 0 2 4-1 2-6 1zM865 551l-2-1 2-4 3-1 1 0-2 5zM483 69l0 2-4 1-2-3 1-2 3 0zM571 477l1 0 2 0 0 2-2 1-1-1zM612 240l1-4 5-1-2 5-2 2zM191 621l1 1 1 2-1 1-2 0-1-3zM402 231l-2 2-3 0 0-2 0-3 2-1 2 1zM387 331l0-2 1-2 2-1 0 1-1 3-1 1zM320 273l-2 1-2-3 2-3 3 2zM457 326l-3 2-3-3 0-4 2-2 3 0 2 3zM572 429l0-5 6-1 2 3-1 3-4 1zM410 402l3 0-1 2-3 0zM402 506l1 1-2 5-3-1-1-2zM464 688l-3 2-2-3 0-3 3-3 2 2zM630 595l-3-1-4-1 2-2 1-1 5 2 0 2zM317 426l2 3 1 3-1 2-3-2-2-2 0-3zM192 557l2-2 5 2 0 3-3 2-3-2zM364 694l-2-1 0-3 1-1 1-1 2 3-1 3zM189 455l0 5-5 1-2-2-1-3 4-4zM182 365l3 2-2 4-3 1 0-3 0-3zM597 217l-2-2-5-2 2-1 3 0 4 3zM467 417l0-2 3-1 3 1-1 3-1 0zM452 147l5 2 2 3-3 1-4-2zM868 555l-3 8-2 1 0-4 0-4 3-4 2 2zM843 581l-6-1 0-4 5-1 4 3zM222 323l4 1 0 6-5 1-2-5zM372 593l-2-2 0-2 4-2 1 1-1 4zM239 202l-1 4-3-3-1-5 4 2zM723 602l2-1 1 2 0 2-4 0-1-1zM240 259l2-2 2 3 1 3-1 3-3-1-1-3zM415 194l2 3-7 3-3-5 1-4zM388 299l-1-2 1-1 1-1 2 2 0 2zM291 234l2-1 0 3-2 2zM138 577l-3-4 1-6 5-1 3 2 0 6zM431 369l4 1-3 5-4 1 0-4zM343 194l0 2-3 0 0-1 0-3 2-1zM515 883l3 2 1 6-6 1-5-1 2-8zM466 748l2 5-2 2-2-1-1-5 1-1zM341 715l3 0 2 2 0 2-3 1-1-2zM173 435l3 0 2 3-2 3-2 0zM421 288l3 0 1 3-1 2-2 1-1-1-1-3zM416 566l1 0 2 2-2 1-1 0zM434 554l-1 3-4 1-2-4 4-2zM864 529l1 0 3 2 0 2-3 0-1-1zM658 547l0 4-1 4-1-2-1-1 2-4zM814 617l-1 1-2 1-2-2 2-1zM348 225l1-3 2-3 3 2 2 0-1 4-3 0zM440 351l-1-1-1-3 1-2 1 0 3 2-1 4zM476 660l4 0 2 3-1 5-2 0-2-2-1-4zM495 144l0 3-3 2-2-2-1-2 1-4 3-1zM739 503l-2-4 5-4 2 3zM151 683l2 3-2 4-2-1-1-4zM237 307l2 1-2 4-3 1 0-4zM288 760l4 2-3 3-2-3zM487 692l-3 2-3-2 1-3 4-1zM464 549l-1 1-3-1 1-4 2 0zM354 530l-2-3 1-2 1-1 3 1 1 2-2 3zM339 237l5-2 0 12-2 1-4-8zM421 399l-4-3 0-5 3 0 3 1 0 4zM510 328l-1-3 1-3 3-1 0 6-1 1zM511 692l1 2-4 6-5 1-2-2 3-6 4-2zM778 511l5 2 6 5-2 1-6-4zM162 574l-4-2-1-2 4 1 3 1 0 3zM618 520l0-4 7-5 2 6-4 5zM199 630l0-1 1-3 3-1 5 0-1 1-3 2zM611 150l-3-3 1-2 3-1 1 2zM231 576l-1-3 1-2 3-3 1 3 1 1zM309 695l1-1 0 4 0 1-3 2 0-4zM304 671l-4-4 1-3 5 1 4 2 2 5zM558 341l-1 1 0-3 2-1 0 2zM592 257l1 1-1 2-2-2 0-2zM597 101l2-2 6 0-1 2-3 2zM208 449l1-2 2 1 0 2-2 1zM947 585l2-1 0 5-4 3-2-1zM641 271l3-1 3 8-5 0-2-2zM311 409l-2 2-1-1 0-1 0-1 2-1 1 1zM813 462l2 4 1 2-3 1-4-1 0-4zM786 507l0-2 2 0 2 1-2 1zM494 777l-4 4-2 0-2-2 1-4 5-1zM144 494l1 5-1 2-3 0-1-5 3-3zM498 864l2-4 6-2-2 4zM380 573l2-3 3 0 1 2-1 1-2 1zM313 748l-3-2 3-5 3 2 1 2zM475 310l-3-1-1-1 1-1 3 1zM169 556l-2 0 1-4 0 0 2-1 0 3zM477 432l0-2 0-1 2-1 2 1 1 2-2 1zM305 736l-5-2 2-4 4-2 3 3 0 5zM498 661l0 5-2 3-2-1-1-7 1-2 2 0zM742 557l1 5-3 2-2 1-2-4-1-3 5-2zM156 368l-3-3 3-2 3 1 2 2 1 2zM595 93l-2 0 0-3 1 0 4 0-1 2zM604 495l1 2-2 3-3-2-1-3 3-2zM213 452l1-6 3-3 1 6zM239 564l6 8-1 1-5-3-2-8zM443 258l1-1 2 1 2 5-1 1-2-1zM346 451l-6 0 0-4 1-2 5 2zM192 422l-5-3 1-2 9 0 5 1-1 3zM339 330l-3 1-2-2-2-2 2-2 5 2zM936 527l4-2 2 1 0 7-2 2-5 1 0-5zM354 207l2-2 3 2 1 2-5 3-2-1zM787 458l1-1 4 2 0 5-2 0-3-2zM425 350l2-3 3 0 2 4-1 3-4 0zM858 554l2 1 0 2-1 0-3-1zM405 511l0-6 2-3 3-1-1 5-1 3zM826 594l2 4-3-1 0-2zM718 435l2 0 1 0-1 3-3 0zM361 369l1 1-3 0-4-2 2-2zM640 417l1 2-4 2-2-1 0-2 3-1zM398 262l1-4 2-3 2 0 2 4-2 2-3 3zM504 338l4 4-1 2-5-4zM405 279l4 1 2 1-6 4-8 1-1-2 5-4zM608 476l1 3 0 3-3 1-1-1 2-5zM637 263l0 2-3 1 0-4zM366 437l-5 3-4-2 2-2 4-2zM391 204l2 2-3 3-3-2 1-4zM487 698l3-6 3 0 1 3-1 2-2 2zM193 497l3 2-1 1-3 0zM213 231l3 0 0 6-5 0zM391 542l2 0 1 1 1 1-2 2-1-2-2 0zM474 377l-1-4 0-4 3 4zM438 419l1 3-2 3-1 0-2-2 2-3zM804 479l5-3 1 5-3 3zM514 503l-3 2-2-2 0-2 2-1 2 0zM172 668l-6-3 1-3 9 2zM265 502l2 5-2 5-3 3 0-3 1-8zM435 274l-5 0 0-4 3-1 6-2 0 3zM295 391l-4-2-2-5 8 0 2 2zM334 456l3 1 3 2 0 2-3 0-3-3zM581 277l-1-2 1-1 2-1 1 2 0 1zM343 310l5 0 7 6-1 4-10-6zM583 132l-2-4 3-4 2 3zM493 458l4 2 1 5-4 1-4-1zM679 564l-2 2-4-2 3-2 2 0zM341 395l-4 0-1-5 4-3 4 3zM498 79l1-5 4-1 2 5zM476 687l1 2-3 0-1-1 1-2 2 0zM137 432l0-1 1-1 1 3 0 2-1-1zM447 331l-3-3-1-1 5 0 2 1 1 3zM444 706l-1-3 1-3 6-1 1 2-1 2zM205 223l1-2 3-1 2 0 1 2-4 2-2 1zM391 511l0-2 3 0 2 1 1 1-2 2zM464 189l0-1 3-2 1 1 1 2-1 2-3 0zM521 291l0 1 0 2-6 0-2-2 3-1zM444 305l4 0 0 3-5 0-1-2zM609 183l-3 2-2-2 0-2 3-2 4 1zM820 589l1 1 0 2-2 1-1 0-1-2zM277 360l1 0 2 2-2 2-3-1-2-2 1-2zM517 362l1 3-2-1-4-2-3-3 2 0 2-1zM390 403l0-2 1-2 1 1 1 2-1 2zM281 773l-2 2-6-3 2-2zM346 412l2-1 2 1 0 2-1 1-3-3zM322 575l-2 2-3-1-1-1 2-3 5-1zM863 624l3 1 3 2-1 3-4-2-1-1zM476 449l-2 2-5-2 2-3 4-3 2 4zM127 336l-4-1 1-7 3 5zM452 353l-6 2-4-4 4-3 6-1 3 2zM408 211l-2 1-3-1 0-2 1-2 3 0 1 2zM510 431l-2-1-2 0 2-4 4-1 2 1 0 3zM417 240l-1-2 2-3 1 0 1 3zM308 254l-5 4-2-2 2-4 6-1zM501 560l3 1 2 3-3 1-3-3zM357 418l1 1-2 2-2-1 0-2zM629 368l1-3 1 1 1 3-1 3zM765 504l-6 1-6-4 4-2 6-1zM271 351l4 0 2 4-2 2-3 0-1-4zM492 390l0 4-2 1-3-2 0-4 1 0zM258 296l1-2 2-2 3 1-1 2zM735 546l-6 1 1-4 6-5 1 4zM584 464l3 0 2 0-1 2-2 0-2 0zM841 527l-1 2-3 2 1-2 2-3zM337 491l1-5 2 0 1 5-2 3zM298 449l-1 3-2 0 0-4 2-4 1 0zM313 207l-1 1-2-1 1-3 2-3 2 2zM634 213l-5 3-4-1 7-5zM260 484l-1-2 3-1 0 4zM469 269l3 2 1 4-4-1-3-3zM238 320l0 0-2-1-1-2 1-1 2 0 1 1zM429 237l0 4-3-1 1-4zM250 413l-1-1 2-5 3 0 2 3-2 3zM496 416l-2 1-3-2-2-6 4 1 2 2zM362 349l-4 1-1-1 3-3zM645 468l4-2 3 3-4 4-3-2zM577 81l-4-2-1-3 4-5 7 0 1 3-4 7zM409 178l1-3 1 3 1 1-3 3zM406 146l1 1-1 2-1-1-1-2zM426 308l-3 1 0-4 3-1 2 3zM479 503l5 0 1 4-4 0-2-1zM442 397l-1 1-1-3 2-5 0 2zM445 595l-3 1-2-3 0-2zM485 373l-2 1-2-2 3-1zM597 368l-4-4-3-5 7-3 4 7zM554 363l3 2 2 1-3 0-2-1zM375 422l1-2 5 3-1 3-4-1zM378 488l-3-3-1-4 6 0 2 4zM466 238l1 2-1 1-3 0 1-3zM263 335l9-1 0 1-8 2zM214 538l-3 1-2-1 1-3 2-1zM961 626l1 3 0 1-3 0-1-2-2-2 3 0zM499 543l-1 3-2 2-3 0-1-3 3-2zM456 364l-6 3-1-5 5 0zM404 604l-3 0 0-3 1-1 1 0 3 1zM405 266l2-1 2 1 2 3-4 2-1 0-2-3zM237 350l-4 2-1-1 1-5 2 1 3 1zM617 138l-2-4 3-4 2 2 0 3zM350 560l2-2 2 1-3 4-2 0zM880 569l-4-3 1 0 4 1 1 2zM416 156l3-2 1 1 2 3-1 2-4 0zM666 387l-3 2-2 0 2-6 3 0zM482 723l-2 6-4 1-2-3 0-5 5 0zM774 604l2-1 4-1-2 5-3 1-2 0zM661 578l-2-3 1-1 3-1 1 1 0 3-2 1zM602 227l4-2 2 1 1 2-3 4-2-1zM935 583l0 3-4 1 0-2 0-2 2 0zM934 603l2-4 2 2-1 5-2-1zM368 237l-1-2-1-2 3-2 2 2 1 2-1 2zM391 714l0 2-5 0-4-2 1-2 4 0 3 1zM489 866l-4-1 2-1 4 1zM341 603l-2-1 0-2 2-1 3 2 0 1zM691 501l2 0 2 0 0 2-2 1-1 1-1-2zM399 130l-1 3-3 1-2-4 4-1zM229 491l-3 3-3 0-2-3 4-2zM913 510l2-2 5 0-4 4zM183 376l-3 2-1-2 1-3 2 0 1 0zM319 513l3 2-3 1-6-1 1-1 2-2zM630 189l-2 2-1-1 1-3 2 0zM474 153l-2-2 1-7 3 0 0 2 1 4zM420 450l2 0 3-1-1 3-2 1-3-1zM302 475l0-1 1-3 2 1 1 1zM695 607l1 1 1 3-1 1-2-1 0-2zM429 602l-5 3-4-4 5-4zM554 605l-1 0-1-2 0-1 2 0 2 1zM812 556l-2-2 1-3 2 1 1 3zM377 376l-3 0 0-5 1-2 6 2-1 4zM173 510l-2 2-1-2 0-3 2-3 1 3 0 2zM274 580l1-3 6 0 1 4-3 2-2 1zM254 613l5 2 2 3-1 1-4-1-1-1-1-3zM499 218l-2-4 5-2-1 3zM262 536l-1-4 3-1 2 3 0 4zM687 623l-1 3-2 0 1-3zM399 609l2-3 4 1 1 3-3 2-5 0zM608 164l-2-3 0-1 4 0 1 2 0 1zM919 591l0 2-1 4-3-1 0-4 2-1zM638 243l-3-2 1-3 4-1 1 3zM265 395l1-2 2 0 2 1-2 2-3 0zM300 210l0-4 4-3 1 7zM335 557l1-4 1-2 2 1-1 4zM942 581l0 1 0 2-2 1-1-2 1-2zM475 281l-4-2 3-2 7-1-1 2zM645 226l2 2 1 1-2 1-3-1 0-1zM627 243l1 11-1 3-3-3 2-10zM173 477l2-3 3-1 1 1 0 1-4 5-2-1zM320 452l-3 1-3 0 0-3 2-3 5 0zM620 553l-2-2 0-2 2 0 2 2-1 2zM165 598l0 2-2 1-3-1 1-2 2-2 2 0zM700 565l-1-1 1-2 2-2 1 1-1 3-1 1zM850 572l2-1 1 1 0 1-2 1-1 0zM138 607l1 1-1 2-2 0-1-1 1-2zM183 684l-2-1-3-3 2-4 5 2 1 4zM364 152l4 1-2 6-2 0-2-4zM251 562l-2-3 4-1 0 4zM453 435l2 0-1 2-4 0-1 0 1-2zM637 628l3-3 1 0 0 3-3 2zM436 143l0-2 3-1 4 1 0 2 0 1zM251 333l-1 1-1-2 1-2 1 0zM200 605l1-3 7 4 0 4-7-4zM887 521l0-3 1-2 4 2 0 2-1 2-3 0zM564 609l-2-5 2 0 4 1 1 3-1 2zM237 261l-6-1 3-4 3 2zM482 268l3 2 1 4-2 1-3-1-1-4zM423 792l-7-4 2-1 7 1 8 5-2 2zM344 218l-2-7 2 0 1 2 1 4zM640 261l2-1 3 1 1 2-2 1-2 0zM436 863l-2-1 0-7 4 0 7 4 3 4-5 4zM408 707l1-3 4-1 2 4-2 2zM780 600l0-2 0-2 3-1 1 2 1 2-2 2zM506 182l1 2-1 3-1 0-2-1 0-2 1-3zM317 422l0-2 1-2 2 0 2 1-1 2 0 1zM166 461l-2 1-1-2 1-2 1 1zM579 489l-1 0-2-1 1-3 1 1 2 1zM737 586l-2-5 2-2 4 0 1 4 0 3zM417 542l-5 3-3-4 3-3 3 0zM243 387l1-2 2-2 1 1 0 2-2 2zM487 174l0 8-1 0-2-4 1-3 1-1zM484 619l-2-1 0-3 3 1zM469 787l-4-1 4-3 4 0zM174 630l-5-8 2-1 3 2 1 5zM757 486l3 3-1 2-3 1-2-1 1-3zM216 484l-1 3-3-1-2 0 0-3 1-2 3 2zM424 372l-1 1-5 1-1-3zM518 48l3 3-1 3-2 0-3-1-1-2 2-2zM794 491l-1 2-1-1-1-5 1-2zM469 596l-1-4 6 0 3 3-2 3zM442 383l-3 1-2-1-1-2 2-2 3 1 1 0zM309 330l-3 4-1-2-1-2 1-7 1-1 3 2zM377 541l-1 1-2-1-1-1 1-1 2 0zM787 620l2 10-1 0-3 0-1-7zM597 504l2-3 2 5-2 5-3 1zM714 591l2-3 2-2 3 1 1 2zM416 391l-2 1-1-2-1-2 3 1zM389 683l-8-2 1-2 3-2 5 0 3 4zM884 526l0 4-3 3-4-3 2-3zM338 725l2 4-2 2-3-4zM155 273l-1-9 4 3 4 8-4 0zM292 534l2 1-2 5-1 1-1-2zM324 461l-2-1-1-1 2-2 2 2zM309 245l-1-1 1-5 2 1 1 1-1 4zM839 571l0-4 2-2 1 3-1 4-1 3zM580 223l3-1 0 1-2 3-1-1zM742 552l-2 1 0-4 2-1 0 2zM420 204l1-2 2-1 3 1-1 2-3 1zM514 462l1-1 3-1 0 1 0 2-3 1zM742 468l0-2 1-1 2 5 0 1-2 0zM159 599l-1 3-2 2-2-4 2-2zM322 477l-2 0 3-2 2 0-1 2zM398 326l-2-2-2-4 2 1 4 2 1 2zM340 665l-1-3 5-3 1 4zM282 560l2 1 1 3-2 2-2-1-1-3 0-1zM587 192l2-1 2-1 1 4-2 1zM484 625l-4 1-2-1 0-3 3 0 3 1zM301 562l-1-1 1-2 2 0 1 2-1 2zM376 338l-2-1 1-3 3 0 2 2-1 2zM813 543l3 0 0 3-3 0-1-2zM317 291l3 3 0 6-2-2-2-4zM355 712l3 2-3 2-1 1-2-3zM287 688l5-6 2 1 1 3-3 3-4 1zM512 816l2-3 3 1 0 4-4 0zM682 543l2 2 1 3-1 0-2-3zM371 241l-4 4-2-3 2-5zM329 544l-3-2 0-2 2-2 3 2zM745 455l5 3-1 4-2 0-4-3zM455 542l3 2 0 1-2 1-5-1 1-2zM485 848l-1 3-3 0-4-2 2-1 4-2zM244 694l0-1 0-2 2 0 2 1-1 3zM577 166l0-1 2 0 2 1 0 1-2 1-2 0zM439 540l-5 0 0-3 1-2 3 1zM586 319l-3-3 2-2 3 0 1 2-1 2zM308 591l-2-1-3-3 3 0 3 3zM245 282l1-2 3-1 1 1-1 3-2 1-1-1zM207 493l0-2 1-1 2 0 1 2-1 2-2 1zM489 837l-7 3-4-1-1-1 10-3zM273 763l-2 2-2-10 4-3 3 7zM447 774l-1 3-2-3-2-4 3-4 2 0zM400 395l2-1 3 1 0 2-1 1-3 0zM575 304l1 3-1 2-4-2zM966 610l1-2 1 2 0 2-1 0zM556 236l3 5-2 2-3 2-2-6 1-3zM588 301l3-1 1 2 0 3-3-2zM374 511l2 1-2 4-3-1-1 0 0-3 2-2zM843 503l-4-1-3-4 6 1 2 1zM347 270l0 1 0 2-3-1 0-3 0-1 1 0zM262 373l2-1 4 0 1 1-3 3-2 1-1-3zM834 547l1-4 5 0 2 4-5 2zM431 322l0 1 1 6-2 1 0-2-1-2zM519 470l-1 0-4-1-1-2 1 0zM599 88l-3-2-1-5 3-3 3 2 1 6-2 3zM607 355l-4 3 0-1 2-2 4-3 0 1zM517 255l1 2-3 2-3-1-1-3 4-2zM402 327l1 2-2 5-2-1 1-3zM430 561l2 0 1 0 1 2-1 1-3-2zM356 292l-2 2-2-1-1-3 1-2 1 0 3 2zM392 197l-1 3-1 1-4-1 0-4 2-1zM450 561l0 3-3 0 2-5zM653 163l-4 3-1-4 3-1zM521 114l-2 3-2-1-1-2 2-2 2 0zM180 344l-2 0-1-2 2-1 2 1 1 2zM899 625l2 1 2 4-4 0-2-3zM488 612l2 2 0 2-2 0-3-3 1-1zM696 475l-3 1 0-3 2-4 3-2 0 5zM503 484l2 4-3 0-3-3-1-4 4 0zM659 443l1 1-2 3-1-2zM401 250l-3 3-5 2-2-3 7-6zM249 509l-2-4 2 0 2 3zM625 313l4 2 0 2-4-1-1-3zM519 714l-1 1-4-1-2-1 3-1 2-1 3 1zM196 455l4 5-2 2-4-1-2-4zM437 129l5-1 2 1-4 2-4-1zM478 480l1 2-2 3-3 0-1-5 1-3zM446 272l2 1-1 3-3 0 0-2 1-2zM428 171l-4 10-2-5 1-4 4-2zM592 332l-2-2 2-1 3 1 1 1 1 3-3 0zM352 257l-1 3-3 0 0-1 0-1 3-1zM656 370l1-2 1 0 8 2-1 2-2 1-4-1zM233 460l0 1-2 2-2-1 0-3 2 0zM221 630l-4-1 5-4 5-1 4-1-2 3zM285 519l-1-2 2-2 3 2 0 2zM466 330l0 2-1 0-2-1 1-2 1 0zM516 566l0-1 2 1 1 3 0 1-1 0-2-1zM602 401l2 0 1 2-2 1-2 1-1-2zM570 348l3-2 11-5-1 3-7 5zM752 517l1-4 1-2 1 1 1 2-1 5-2 0zM500 106l-2-1 0-2 1-1 3 2zM467 893l-1 2-6-1-3-2-1-5 3-2 5 3zM268 550l1 0 1 2-2 2-2-1 0-2zM762 625l5 2 0 2-4-1zM337 598l0 5-1-1-3-3 1-2 1-4 2 3zM149 377l0-1 2-1 2 1 0 1-2 2zM226 598l1-3 5 6 1 6-4-4zM519 267l1 3-4 0-7-8 2-2 5 2zM744 490l2 1-1 1 0 2-3-1-1-1zM513 868l2 1-2 3-3 0 0-3zM407 153l2-4 2-1 1 3-1 3zM204 584l-1 3-2-4 2-2zM853 478l1 1-1 1-3 1-1-1zM639 423l3-1 0 3-2 3 0-2zM159 586l-1-2 1-4 3 2 0 3zM667 479l2-2 4-2 2 3-1 2-1 1-4 0zM189 542l1 2-3 1-1 0 0-2zM454 627l1-1 2 0 0 2-1 2-2-1zM424 722l-3 0 2-3 2 1zM767 465l0 4-2 2-3-2-2-2 1-4 5 0zM514 289l-4 0-2-2 1-2 5 1zM570 405l0 4-2 1-1-4 1-2zM455 836l-1-7 4 0 2 7zM636 576l3 3-2 1-3-1-1-3zM485 597l2 2 0 5-3-1-1-2zM237 626l2 2-2 2-3 0 0-2 0-2zM513 126l-6 5-9 2 2-4 8-3zM351 342l-1 3-3-1 1-3zM190 594l1-2 2 0 0 4zM279 354l0-3 2-1 1 1 1 1-2 3-1 0zM319 490l-5 6-1-4 2-3zM258 275l2 0 4 2-1 4-1 1-5-3zM403 624l1 2 0 2-1 2-2-1-2-3 1-2zM875 534l-5 1-1-3 2-3 5 0 1 4zM393 457l-1-2 1-1 3 0-1 3zM609 191l0-3 3-4 1 1-2 6zM206 392l-4 4-5 1-2-2 6-4 3 0zM895 735l15-6 10 6 2 15-7 18-10 4-12-10-4-14zM690 981l7 4-1 15-4 18-7 2-2-15 2-15zM699 983l11-2 4 9-3 11-9 2-4-9zM760 445l12-4 8 5-1 10-9 5-12-3zM141 326l14-3 11 11-2 16-12 5-11-7zM127 337l11-2 3 11-4 6-8-2zM131 356l15-3 6 11-3 12-13 2-6-10zM166 326l14-2 3 11-7 7-9-2zM572 52l10-7 11 4 3 9-8 10-10 2-7-8zM152 279l8-2 6 6-3 9-8 0-4-6zM440 838l12-3 9 10-3 11-10 4-6-8zM985 706l15-2 2 8-14 2zM993 741l15-2 2 13-14 2zM1015 772l13-3 2 9-8 9-8-3zM278 146l8-2 5 8-5 6-7-2zM283 160l13-3 9 9-5 11-10-1z"/><path fill="none" stroke="#000" stroke-width="1.3" stroke-linejoin="round" d="M731 790l9 4-2 7-9 0-8-7zM641 985l-1 2-4 0 0-3 1-7 3 2zM945 813l-4-1 3-4 2 4zM869 846l-3 3-6 7-10-4-1-4 9-7zM945 866l3 1 3 5-6 6-7-4 1-6zM716 836l-8-1-2-3 6-5 7-2 10 1-3 5-1 3zM841 786l-7-2-4-5 3-5 8 6zM945 847l-5-12 6-4 5-1 5 6-3 8zM604 964l-3 2-2-1 3-3zM766 912l-6 2-5-2 0-4 0-6 3-5 6 6 2 5zM737 813l-5 6-5-1 2-4zM648 727l-8 10-2 0 0-4 5-5zM617 960l3-5 9-6 4 6-5 10zM581 724l-2-3 5-7 5 3 1 4zM764 666l5-3 1 4-2 4-4 0zM886 900l3-2 4 1 0 4-1 2-5 0zM722 744l2 0 1 5-2 0-3 0-1-2 0-1zM888 928l-7-1-1-8 2-2 9 8zM799 842l0 5-11 0-4-1-1-7 10 0zM887 841l-4 3-6-2-1-5 6-6 4-4 2 3 3 6zM659 923l-3 6-3-3-2-3 3-5 3 0zM689 714l0-3 6-2 3 1 0 1-3 3-5 2zM751 710l-3-2 5-3 3 0 2 2zM594 981l5-8 6 3 2 7-5 8-9 3-1-7zM938 734l1 4-1 3-10-1-5-5 2-2 1-4 8 0zM817 869l-4 7-3 4-9 0-4-5 0-8 3-5 10 0 5-1zM690 943l3-1 8-1 2 2-2 3-8 1zM613 757l-1-4 8-7 10-3 1 6 1 1-12 9zM812 680l-5 2-3-3 1-4 5-5 2 5zM768 921l2 2 1 8-3-2zM879 882l2 8-5 3-3-4-1-9zM988 760l-11-6-2-7 14 7zM728 961l0-10 2-4 4 9-1 4zM846 771l1-2 3-1 4 3-1 1-3 1zM806 927l1 3 1 4-5-1-3-3 0-3 2-3zM818 947l-1 4-7 3-5-7-1-4 8-5zM578 745l-2-1-2-3 0-2 2-2 2 2 1 5zM882 946l0-4 5-4 5 1 6 8-2 4-11 1zM663 964l-5 1-7-1-5-4 3-6 11 5zM665 681l3-2 6 4-3 5-5-1zM628 674l-5 4-2-2-3-1 4-4 6-3 2 1zM691 857l-6 2-1-1 3-5 3-1zM572 951l6-5 8-1 0 6-6 6-7-3zM739 919l6 2 6 11-5 1-6-2-6-12zM598 668l2-3 6-3 4 1 4 4-1 4-4 4-7-2zM659 696l-1 3-4 0-2-3 2-3 2-2 3 2zM830 754l-2-12 13 0 2 8-5 7zM698 723l2 2-3 1-1 0-1-3zM887 729l2-2 1 1 0 2-3 1 0-1zM898 843l-3 3-2-1 4-4zM757 820l-4-4 3-2 7 4zM757 880l4-10 9-2-1 5-9 8zM647 781l0 1-2 0-1-1 0-2 2 0zM901 712l-3 1 0-2 3-3 1 2zM722 809l-2 4-3 0 1-9zM828 843l-1-3 5-2 1 0 2 3-5 3zM967 882l7 1 1 7-12-6zM880 933l2 6-5 2-6-3 3-8zM835 694l4 4 1 5-6 6-4-8-1-7zM726 875l0-3 0-4 3-1 5 6-3 1zM740 960l5-2 4 1 0 6-3 0-7-3zM556 929l6-11 4-5 7 7 0 4-2 8-9 9-8-1 0-5zM777 916l3-1 7-2 1 2-5 3-9 2zM955 690l-1-4 2-1 3 2-2 3zM870 817l2-3 4 1-2 5-3 3-2-2zM700 957l3-4 12 9-1 3 2 7-8 3-3-6-7-9zM643 954l-3-5 2-7 10 2 1 7-3 2zM760 858l2-1 6 0 0 2-3 1-9 0zM860 911l5-3 9 5 6 11-6 8-7 0-8-9-5-5zM809 968l-8-5-2-7 10 4zM819 857l-3-12 4-3 7 7-1 7zM630 899l2 1-1 2 0 2-2-1-1-1 0-2zM977 706l4-1 3 4-3 2-6-2zM935 698l5-2 4 5-3 3-3-1-5-2zM769 838l6 6-4 5-4-1-4-8-1-4zM863 898l0-4 4-3 4 0 1 7-3 3-3-1zM667 984l3 4-4 4-5-1-3-5 2-4zM691 880l-3 5-6 1-5-2 1-6 4-2 5 0zM798 791l2-3 3 3-1 2-3 0zM590 714l0-1 4 1 2 4 0 1-1 1-3-2zM607 852l-6-7 4-2 5 5zM684 840l-8 1-2-6 12 0zM650 991l1-4 2 1 3 0-1 4-3 0zM572 828l-8 2-6-5-4-8 14 5zM947 806l2-3 7 4-2 1zM742 698l-3-4 1-3 3 2 1 4-1 2zM789 737l4 3 5 6-2 5-4 0-5-4-1-8zM966 782l-2 3-1 5-11-5-4-6 0-4 7 0 7 3zM969 719l3 0 3 4-3 3-2 0-3-2zM768 938l-4 1-2-3 2-2 3-1 2 3zM897 882l-4 9-10-1-1-7 11-3zM561 681l0 4-3-1 0-6 2-3 2 1zM642 805l2 7-10 1-6-6 1-5 6-3 6 3zM739 851l5-2 5 4-3 8-7 1-2-5zM916 839l-5-5-1-5 7-4 8 2 0 4 2 2-5 5zM832 902l-2 3-12-1 0-4zM925 669l-4 9-4-6 2-5zM631 689l-1 2-6-1 2-2zM818 804l4 2-1 4-5-1 0-4zM804 854l2-4 4-3 1 6-2 4-4 2zM751 683l4 1-3 3-3 0-4-2 3-3zM620 731l-6-9 5-13 8 8 2 10-2 9zM826 949l2-5 3-8 11-7 3 4-2 8-2 5zM805 886l-5 0-1-2 3-2 5 0zM856 794l-5 1-4-2-2-3 4-6 7 1 2 4zM589 859l-2 0 0-7 3 0 1 5zM847 890l2-7 7-3 3 3-1 8-4 3zM635 826l2 11-8-3 1-6zM735 702l4 2 1 2-3 4-3 0 0-5zM952 713l0 10-7 0 0-5 2-5zM557 898l-4-6 3-5 4-3 6 3 8 7-2 7-2 4-7 0zM978 686l5-2 8 2 1 5-10 1-3-4zM620 819l3-3 5 2-2 4zM676 723l9-2 5 0 2 3-6 3-4-2zM731 776l1-10 6 2 1 4 2 14-6 0zM746 743l0-3 2-1 1 3-1 2zM667 866l0 3-5-1 0-2zM675 922l6 2 2 2-9 0zM862 709l-4 4-3 4-6-8 2-3 5-5 3 2 3 4zM717 814l-1 4-11-1-15-8 3-5 8-1zM625 788l-6 0-1-2 2-4 4-1 2 2zM748 810l1-5 7-6 1 3-2 7-5 3zM983 771l0 4-5 4-1-4 2-5zM898 820l-3 5-5-2-1-5 3-4zM796 851l4-1 3 1-1 2-3 1zM765 737l-1 0-2-1 1-2 2-1 1 2zM673 859l-5-1 5-7 4 0zM761 1008l-3-8 6 0 2 6zM780 750l0 0 3 0-1 2 0 1-2-1zM761 975l7-4 7 1 1 3 2 5-10 1-4-3zM691 918l-2-2 1-2 3 0 1 4zM704 733l3 7-1 3-7 0-3-7 3-2zM719 721l0 6-3 2-3-1-6-8 6-2zM846 919l-3 4-6 1-4-3 2-4 7-2zM628 858l-4-7 7-3 1 5zM786 875l5 0 2 3-1 6-4 4-5-5-1-7zM715 943l1 9-7-3 5-9zM888 748l0 2-3-1-1-2 1-1 2 1zM968 791l3-1 3 0 4 6-3 1-2 0-2-2zM604 992l5-2 7 3 3 2-2 5-3 2-8-2-2-4zM620 976l-8-3-12-6 1-4 6 0 8 0 9 6-2 4zM669 721l1 2 0 5-3 2-1 0-2-2 1-6zM907 839l-4-1-3-4-2-4 3 1 2 1 5 3zM586 981l1-2 1-2 3 0-1 1-2 2zM660 819l7-3 1 6-4 13-9 12-9-2 2-10 1-6zM735 822l6-3-1 15-11 5-1-4zM882 673l3-2 3 2 0 2-6 1zM843 763l-5-4 1-3 6 1 7 5-4 2zM851 835l-3 1-1-4 6-1zM703 721l2 0 1 1 2 2-3 0zM556 749l-3-10 2-1 4 10zM607 857l4 4-3 9-5-3zM782 765l-5 3-7 3-3-6 6-3 8 0zM936 788l-2 3-5-1-4-2 3-5 5 0 5 2zM796 716l0-12 5-2 12 6-8 7zM943 768l-3-5 2-2 4 5-1 4zM579 697l1 0-2 6-3 1 0-3zM780 785l-1 0-4-5 3-4 4 2 1 5zM568 978l-6 0-2-4 6-2 5 4zM674 813l6-4 2 8-1 4-7 1-2-5zM854 821l-5-2 2-4 1-2 5 2 1 4zM946 828l-4 0 1-5 4-5 4 2 4 1zM783 680l5-2 5 3-2 2-4-1zM568 752l1-5 4 3 2 3 0 5-5-3zM615 776l-3 1 1-4 1-4 4-2 0 3-1 2zM613 895l1-4 4-1 3 1-1 5-4 1zM738 715l-8 4-1-1 2-5 3 0zM665 856l-1 2-7 0-2-5 3-2zM583 969l2-6 5 0 5 4zM568 827l8 6 5 9-6 9-6-6zM974 842l2 1 1 4-4 1-2-3zM784 899l-3-3 1-4 5 0 1 4zM820 740l-1-3 9-7 2 2-2 3zM839 687l-5 2 0-3 5-2 1 0zM735 993l0 7-3 0-2-2 4-5zM831 885l-6-8-4-6 5-7 12 0 1 6-1 11zM747 704l-2 5-3 1 0-2 4-4zM871 690l-4-4 4-6 9 3-5 7zM964 844l1-3 3-2 4 0-1 1-1 3-5 2zM808 781l-4-2 1-5 7-2 5 4zM910 815l3 3 0 3-6-2-3-5zM730 984l7-8 5 6-3 6-6 0zM642 686l-4-7 3-8 10 3 2 8-6 6zM623 762l3 0 0 5-5-1zM692 669l-5-8 5-1 3 1 5 6-5 2zM705 684l6 1-1 8-5-2zM709 864l-1-1 5-1 3 3zM655 747l-3-5 2-6 7 6-2 5zM664 898l-3-4 4-6 8 1-1 5-5 7zM661 754l0 1-6 0-3-5 2-2 5 0zM980 861l2 4 0 7-6-6-2-7 2-3zM847 870l7-6 3 3 2 7-4 7-6 0-2-3-3-6zM969 679l1-2 2-1 2 0 1 2-2 1zM957 856l5-2 4 3-5 4zM640 944l-1 2-1 0-1-2 1-2 2 1zM786 995l1 4-2 4-2-1-1-4zM916 866l-6-3-3-7 2-6 11 0-1 7zM705 862l3 8-6 3-10-11 3-7zM737 715l7-3 10 6-5 2zM910 920l-3 9-4-12 1-6zM702 767l4 1 2 5-9 4-1-4zM706 910l-5-4-1-6 5-2 7 2-1 5zM819 666l2 2 0 3-3-1 0-2zM664 765l-2-5 0-4 7 1 3 3zM959 824l-1-4 1 0 2 2 0 3zM765 754l3 5-6 2-1-3zM791 787l-2 6-3 0-1-4 3-2zM904 888l6-9 7-3-3 15-6 8-6-3zM859 696l2 0 1 1-2 2-1-1zM965 763l6-7 3 0-2 9-4 1zM600 715l-1-2 2-1 1-1 0 3-2 2zM836 731l0-7 11 6-4 5zM906 719l-4 6-8-2-2-4 9-2zM748 820l3 4-1 5-2 1-2-2-1-7zM592 780l-3 0-3-6 2 0 4 1zM728 674l5-7 4 1 6 1 0 7-7 3-6-3zM608 933l-8 4-3-5 6-5 7 2zM838 714l-3-1-2-3 3 0 3 2zM927 718l-3 0 0-1 0-3 3 0 2 1 0 3zM781 852l7 2 2 7-4 0-6-1-1-7zM929 888l-10 2-1-4 1-4 6-3 4 1 0 4zM557 778l-2 0-2-3 2 0 4 0 1 1zM956 768l-2-4 4-1 6 4-2 4zM880 708l-1-2-1-4 1-2 4 4 0 3zM892 856l3 2-2 4-4 1-2-1 3-5zM575 731l0 2 0 2-2 0-1-1zM914 660l1 2 0 6-8-1 0-5zM883 765l6 2 6 5-1 2-10-2-6-4zM683 703l5-2 1 2 1 3-7 6-3-2zM870 865l-3-1 2-2 2 0 0 3zM653 703l-1 4 0 5-9 0-3-3 0-7 2-6 6 2zM576 973l-4 0-2-2 3-3 4 2zM649 884l2 1-2 11-4 5-7-2 0-9zM679 804l-4-6 5 1 6 3 2 4-2 1zM552 958l5-3 1 3-4 3zM761 958l-1-6 3-5 7 2 3 8-3 8zM859 676l3 0-2 5-5 9-3-2 1-5zM597 905l-2-8 6-6 5-1 2 10-3 8-7 0zM830 679l5-3 3 2-5 4-3-1zM780 688l-5-3-1-3 4-1 3 4zM680 686l-3 3-3 1-1-1 3-2zM874 793l4-2 0 3-4 5-1-2zM743 868l1 4-2 6-4-8 1-4zM849 688l-1 1-2-3 1-2 1 1 1 1zM625 976l5 3-3 2-2 1-1-5zM610 913l1-6 6 0 1 6-5 3zM593 754l-3 9-2-1 2-6zM851 904l-6-9 2-3 4 2 3 9zM814 827l-4 3-8-1-5-3 2-7 9 3zM840 812l-4-1-1-6 4-3 2 2 2 4zM931 808l2 3-1 1-3-1 0-2zM886 777l4 6 0 10-3-1-3-6-1-6zM862 775l3 0 3 6-5 5-5-4zM620 830l-3 4-5-1 3-6 4-3 5 1zM774 718l-1-3 3-1 4-2 1 1-1 4-2 2zM782 699l2-2 3-1 0 2-1 3-2 0zM563 797l3-1 2 2 0 2-3 1-2-1zM590 827l-1 3-5 0-1-1 1-7 3 1 3 1zM623 986l5 1 1 6-5 2-6-4zM866 766l0 3-2 1-3 0 1-4 1-1zM645 996l-2 8-6-2-2-3 2-4zM627 919l6-1 4 3 8 10-3 7-5-1-7-5zM665 1001l2 3 0 3-1 2-3-3-1-4 1-1zM719 981l1-3 5-3 5 2 1 4-5 2zM692 780l-9 6-3-8 5-4 5 1zM615 872l-4 1 0-3 4-2zM638 747l2-2 3 3-1 3-4 1-1-2zM674 771l-2-3 1-2 3-1 2 2zM563 864l4 4 0 2-5 4-5-4 4-3zM815 971l-2-1-1-5 4-1 1 5zM566 764l-1 6-5-1 3-4zM973 807l3-5 8-1 6 3-3 6-3 5-5 4-6-8zM899 903l5-4 3 7-1 5-7 3 0-3zM873 738l-4 3-6-3 1-5 3 0 7 3zM774 940l1-3 6-4 4 3-4 5zM592 880l-6 5-2-3 1-3 2-3 4 0 2 3zM750 763l0-5 3-2 2 1-1 5zM985 696l3 1-1 3-2 0-2-3zM935 756l0-2 1-1 2 1-1 3zM867 868l6-2 4 1 0 7-1 2-8-1zM693 679l-2-4 8-4 3 2-2 7zM597 786l-2-3 1-2 1 1 1 4zM799 812l-2 4-5 2-1-3 2-4 4-1zM633 775l5 2 0 2-6-2zM670 797l-5 1-3-7 0-8 1-14 3 1 6 9 3 4 0 13zM653 882l2-3 6 1 0 5-3-1zM599 752l2-1 1 2-1 3-1 0-2 0-1-1zM759 728l2 1 2 1-2 2-2-2zM718 860l-3-2 3-2 7 2-3 2zM767 696l0 3-3 2-5-2 1-4 5-2zM814 924l4-3 2 5 0 4-5 1-2-2zM946 675l-2 6-7 2-3-2 3-7 2-2 6 0zM680 678l0 3-2 0-2 0-1-3 2-2zM959 697l4-2 3 3 1 5-2 2zM814 717l-1-6 1-4 5 2-1 6zM837 899l4 1 1 4-4 3-2-1zM782 944l3-1 1 1-2 5-4 3-2-1 1-4zM771 832l-6-1 0-7 5-3 5-3 3 5 1 6-5 3zM667 706l2 2-5 3-2 0-2-4 2-2zM869 707l3-2 1 5-3 7-2-6zM793 712l-8 2-1-2 4-3zM718 800l-13-2 0-7 11 3zM962 830l-4-2 3-1 2 2zM582 780l-4-3 5-3 2 2zM839 966l-4 0-3-2 0-4 4-1 2 2zM759 839l-6 4-6-2 1-4 9-1zM606 707l-2-9 5-4 6 4 6 8 2 10-6-1zM931 842l-2-1 0-3 2 0 3 1 0 3zM892 683l0-4 3-3 4 2-1 3-5 2zM929 780l1-2 1-2 5-2 0 3-1 2zM781 879l-1 3-5 0-3-4 0-3 3-3 3 3zM943 788l-3 1-2-1 3-4 3 0 3 1zM896 693l-3-2 0-5 5 0 0 3zM887 667l-1-2 3-2 1 1 0 3-3 0zM883 951l-5 6-3-2 2-5 4 0zM862 798l-2 0-1-3 0-2 1-2 2 3 1 2zM736 757l-8-3 1-9 9-3 7 7zM702 716l1 2-4 5-2-1zM802 998l-3 4-4 2-3-5 3-4 5-1zM646 870l7 3-3 4-9 2zM845 691l3 0 1 2-2 2-4 1-2 0 0-3zM671 970l-8-1-3-2 1-2 5-1 5 1 1 2zM676 900l4-5 2 3 3 8-4 6zM595 844l-1-2 1-3 2-2 1 2-1 2-1 3zM857 745l-4-1-1-3 6-2zM663 802l2 4-3 6-4-4-1-3 2-2zM746 946l-2 1-2-1-1-2 3-5 2 1 1 4zM923 715l1 1-2 4-2 1-10 0 2-1zM721 964l3 0 0 4-1 2-2 2-2-1 1-4zM700 918l4-1 1 3 1 10-3 2-3-5zM884 698l-5-1 0-2 7-3 6-1 1 2-4 3zM799 664l-4 3-2 0-7-4 3-2 3-2zM980 734l1-3 4 1-1 4zM765 801l4-4 8-3 0 4-9 7-4 2zM939 794l-3 7-5 3 1-5 2-6 2-3zM965 687l2 0 4 0-1 3-2 3-2-1zM1008 771l-2-3 13-6-1 5zM792 891l0-2 1-2 1 1 1 2-3 3zM615 804l-1 2-2 1-2-1 1-3 2-1zM751 667l1-3 3-2 4 1 0 4-1 2-5 1zM601 751l-5-6 2-7 11-2 4 7-5 7zM801 752l0-4 10 10-6-3zM820 804l-4-4 0-3 1-3 4 2 2 3zM585 901l0-5 3-1 3 3-2 3zM724 682l8-3 2 5-3 12-4 0-4-6zM631 694l3 1 0 5-1 1-4 0-3-5zM622 922l1 1-2 4-2 0-1-1-1-3 1-4zM731 897l2 6 0 5-1 4-4-7 0-3zM674 876l-1 4-3 2-5 3-6-1 0-3 10-5zM944 735l-1 4-2 0-1-1 2-3 0-2zM573 886l-6-5 0-8 6-1 7 4-2 7zM963 817l-4 2-2-5 4-7 5 6zM863 697l3-2 7-1 2 4-6 5-5-1zM903 874l-5 5-3 2-1-5 4-4 3-1zM761 742l4-1 3 2 0 4-4 2-3-1zM813 898l3 4-8 5-7-5-2-3 7-6zM685 891l5-3 1 3-7 5-3-1zM658 951l0-2 1-2 2 0 0 3-1 2zM699 801l-2 1-3-1 0-3 0-5 2 1 1 0zM782 992l-5-2-4-6 5-1 3 3 4 4zM860 723l4-2 3 1 2 5-3 2-4 1-2-3zM749 994l3-3 4 1 2 2-3 4-4-1zM587 925l3 5-4 6-4 0-3-4 1-5 2-4zM965 723l-1 5-7-2 2-8zM742 793l1-1 5 0 1 3-3 3zM587 700l2-5 3-5 5 1 2 3-4 5-6 2zM874 968l-10-2-4-4 0-5 8 3zM629 868l-9-1 4-7 8 1 1 4zM651 854l2 1-4 4-3 1-5-3 0-3 3-2zM795 967l-1 2-1 1-9-3-1-3 5 1zM674 940l1-6 4 1-1 7zM879 775l0 8-3-2-8-8-1-6 9 2zM797 781l0 4-3 0-3-2 2-3 1-2zM574 660l1-1 1 0 0 3 0 1-1 0-1-1zM562 724l0-2 2-2 5 0 1 3 0 1-4 2zM736 731l4-4 3 3-5 6-4 3-2 0zM959 663l4 1-3 6-6 0zM720 685l-4 0-2-3 6-1 2 3zM652 903l2-2 6 2 1 5-5-1zM890 715l2 0 1 1 0 3-3 1-1-1 0-2zM601 942l3 1 3 6-5 6-5-2-3-5zM808 996l-2 0 0-3 2-2 5-2-2 4zM781 722l1 2-2 2-1-4zM738 759l1 2 1 3-4-2-2-3 1-1zM804 731l6 2 2 5-2 6-5-5zM653 774l4 1-1 4-2 4-3-4zM860 804l6-2 1 3-2 9-2 0-4-4zM690 846l-3 0-2-2 1-4 2 0 2 2 0 2zM947 742l4 0 2 6-2 1-3-3zM847 677l-9 4-2-3 4-9 8-2 6 2-2 3zM645 819l-1-3 0-1 4 1 2 3zM615 798l-3-2 1-3 5-4 2 0-2 8zM783 735l4-2 3 0-2 4-3 1-2-1zM928 692l-11 1-1-5 9-4 7 3zM880 822l0 3-3 2-4-2 2-4zM804 980l-3-7 2-3 4 2 0 6zM567 739l-1-2 0-2 1-2 3 1 0 2-1 2zM596 872l3 1-1 10-3-4zM654 716l3 1-3 5-3-1zM604 775l-2 4-4 3 2-6 2-3 3-1zM874 764l-5-7 5-2 6-1 2 5-5 7zM859 946l-9-8-1-8 3-3 7 3 4 8-1 9zM590 811l-1-2 2-3 2-1 3 1-2 4zM651 727l3-3 3 3-1 3-4 1zM907 694l-2-4 5 0 3 5zM602 729l0-3 1-2 3-1 2 1 0 4-4 2zM676 735l4-1 7 3-6 6-7-1zM691 960l4-2 2 4-1 4-3 0-4-3zM915 790l-5 1 5-9 2 0zM710 886l-10-4 5-2 10 2 1 4zM963 741l1-3 3 1 1 2zM670 941l-4 1-5-3-1-3 4-4 4 0 3 3zM822 775l5 14 0 5-5-4-4-13 2-6zM786 973l-2 5-3 1-1-2 1-3 1-2zM766 720l-5-5 1-9 7 6 1 8zM723 788l-4-3-1-3 1-1 1-1 4 4 0 3zM966 679l-2 3-3 0-1-3 2-3 3 0zM903 715l2-4 6 2-4 4zM946 797l0-5 2-3 1 1 0 10-2 2zM566 703l-2-2 3-4 5-2 3 2-4 4zM834 803l-3 6-4 2-4-1 2-5 9-6zM992 760l3 0 2 2 0 5-4-1-1-3zM593 902l2 3-1 2-2 0-3-1 0-3 2-1zM743 811l3-3 2 9-6 0zM839 818l2-3 1-1 5 3 0 1-2 3zM848 965l-2-6 9-2 2 6zM858 954l2-7 3 5-1 5-3-1zM688 982l-10 6-2-3 2-7 5-4 6 2zM840 798l-9 1-1-4 6-2 7-1 1 4zM996 817l-3 8-2-2 4-10zM706 703l4-3 2 4-1 2-3 3zM644 763l-2 4-8 2-3-3-4-7 3-2 10 1zM761 780l0 6-4 1-6-2-1-6 2-3zM923 866l2 1 1 2-1 1-2 0-2 0 1-2zM819 829l1-4 6 5 2 7-2 3-6-7zM812 691l3-1 2 8-5 3-6-3 1-8zM648 1014l-1-4 2-2 3 5 1 2-2 2zM688 673l-1 1-2 1-2-3 0-1 2-1 3 1zM896 793l2 1 2 6-3 1-4 0-2-5zM664 1013l-4 4-4 0 0-3 2-2 3-3zM936 813l3 2-1 5-2 3-4 0 0-6zM732 960l4 3-1 5-4 4-2-2 0-5zM729 860l5 0-2 5-2 1zM641 903l0 5 1 5-7-1-3-2 0-3 5-4zM906 703l2-3 1-2 4-1 0 2-1 2-2 2zM719 877l3-1 5 5-1 9-2 1-7 1-1-10zM926 923l-6 1-6-7 1-6 5-4 4 2 4 7zM911 778l0-8 1-1 3 9zM593 914l2 5-4 3-4 1-3-2 4-5zM784 768l4-3 5-1 0 3-1 4-3 4-7-2zM680 760l2-4 5-4 2 1 0 4-5 4-3 1zM976 727l1 2-4 1 1-2zM558 862l-4 1-1-2 2-4 2 3zM645 792l4 3-3 3-3 2-4-5 2-3zM796 723l-4 3-1-5 0-3 6 1zM726 842l-2-1 4-4 3-1-2 3zM881 716l0-2 3 0 3 1-2 3-1 1-3 0zM977 705l-3 2-1-5 2-2 3-3 2 1zM709 759l-1-6 4-4 3 2-1 8-3 1zM690 691l-2 3-6-3-1-4-1-5 6 4zM860 840l-2-4 2-2 1 0 1 2 0 3zM680 997l1 3-3 1-2-1-2-1 1-3zM964 806l-1-2 8-3-2 4zM723 930l-3 3-5 2-1-3 0-3 2-2 5-1zM826 726l2-4 2 2 0 5-1 2zM653 1001l2-2 1 0 0 2-2 2-1 1zM807 770l-3 1-5-4-3-10 2-3 6 8zM584 792l1-1 3-1 0 2-1 2zM924 770l-2 7-3-2-1-9 3 0zM943 889l-5 2-6-9 7-2 6 2zM601 799l-3-1 4-11 6-5 0 8zM886 721l2 2 1 3-3 0-3-3 0-2zM996 733l0 2-3 0-3-1 0-2 3-1zM844 717l2 1-1 2-6 1-2-2 2-2zM718 1004l-2-9 1-4 3-2 2 7 0 5zM903 666l-5 8-5-6 3-3zM579 732l1-2 1-1 1 3 0 2zM727 773l-2 4-5-2 3-5zM988 787l8-3 0 1-1 3-5 4-3-1zM733 941l-3 5-4 2-3-5-1-4 3-2 6 2zM757 862l3 8-5 0-6-7 0-6zM599 831l1-3 4 2 2 1-1 2-4 1zM934 832l-1-1 4-2 2 2-1 2zM564 672l-2 3-4-2 5-4zM930 759l4 0 2 7-5 0-4-3zM611 675l4 2 1 4-3 7-3 2-3-6 1-4zM874 848l7-1 1 2 1 4-4 2-3-2zM968 735l3-5 4 2-4 4zM803 727l-2 5 0-5 0-3 2 0zM756 721l0 0-1 3 0 0-2 0 0-2 2-2zM939 721l-7 1 1-6 4 0zM900 805l1 7-1-1-3-4 0-6 2 0zM916 803l-3-7 2-5 5 6 3 9 0 3zM709 696l3 2-2 2-2-2zM711 693l5-1 5 3-1 2-4 0-6-2zM757 924l2-1 5 3 0 8-7-2zM920 757l0-2 3 1 1 1-2 2zM821 953l-5 0 8-6 4 0-1 5zM563 754l1 0 2 3-1 3-2 1-2-1zM658 772l3-1 1 1-1 3-3 1 0-3zM830 893l-1 2-3-4 1-4 3-1 2 0zM979 850l-4-5 8 1 5 3 4 5-7 1zM554 842l1-4 3-2 3 3 0 4-3 0zM768 895l2 3-2 1-2 1-4-1-1-2 4-2zM868 827l2-2 2 0 1 1-3 2-3 1zM945 696l0-6 4 0 2 0 3 3-3 5-5 0zM553 731l0-4 4-3 5 1 1 3-1 1-6 2zM749 901l-4 6-6-5 6-6zM869 751l1 2-6 0 0-3 0-2 4-1zM667 958l1-5 5-3 4 3-2 8-4 1zM973 714l0-1 1 0 2 2-1 2-1 0-1-1zM678 873l-3 0-3-5 2-3 5 0 1 2zM725 735l0 3-1 2-1-3 1-3zM732 1008l-6 4-4-4 4-8zM928 856l-1-2 1-2 2-3 2 0 0 2-2 4zM919 898l0-1 3-3 2 1 2 4-1 3-5 0zM578 711l0 2-3 1-2-2 2-4 3 0zM925 843l-2 4-3-2-2-4 2-2 4 2zM933 708l1 3-2-1-2-3 1 0zM571 858l5-3 4 0-6 6-5 0zM614 938l5 0 4 10-8-1zM596 676l-4-1 2-5 5 4zM835 819l2 1-1 2-2 1-1 0zM875 742l5 0 4 4-3 3-3-3zM605 889l-4-3-2-3 3-2 4 2 1 4zM593 864l3 3-1 2-3 2-3-2 1-3zM989 723l1-2 1-2 3 0-1 3-2 1zM701 1013l-3-1-3-3 3-1 4 1 1 2zM553 786l1-3 6 0 3 5-1 4-8 2-1-2zM610 915l-7 8-5 0 2-5 8-7zM627 841l0 4-1 2-5-1-1-3 0-3 5-2zM559 815l-4-2 0-6 5 0 4 5zM746 751l2-2 2 1-3 3-2 2zM679 911l3 3-2 2-3 1-2-1 0-4zM867 852l1-2 3 1 1 3-1 1-2 0zM833 850l4-2 5 5-4 4-4-3zM768 865l5-2 2 4-1 3-5-3zM957 801l-2 0-5-1 3-2 6 0 1 1zM881 790l-4-1-2-5 2-1 4 4zM573 822l6-5 1 3 0 6-4 1zM577 791l-1 3-3-2-2-4 4 0zM689 905l3-2 5 3 0 1-4 1zM766 688l-2 2-2 1-1-1 0-1 3-1zM828 828l-2 1 1-5 1-2 3 0-1 4zM829 758l-3 0-4-1-1-2 1-2 5 1 1 1zM617 811l2-3 4-3 0 3-2 3zM721 925l-3-1 1-5 7-2 2 2-2 3zM613 817l4 0 1 3-1 3-5 0zM903 683l-2-1 2-4 3 0 1-1 0 3zM651 917l0 2-4 0 1-4zM835 835l-6 1 0-2 5-6 7-2 0 4zM752 1001l1 4-9 3 0-6zM558 913l-1-4 6-1 8 1-3 4zM695 974l2 4-1 1-5-2 0-3zM571 814l-3-3 1-1 5 0 0 2zM655 765l0 3-1 1-3 0 0-3 1-1zM576 795l2 3 0 5-2 1-2-5 0-6zM910 684l0-3 5 2 2 2-5 0zM797 917l-3-4 5-2 11 4 1 2-7 3zM624 732l6 3-4 7-7 0 1-5zM846 924l4-1 3 2-2 5-2 0-4-2zM775 677l-7-3 1-2 3 0 4 2zM736 847l0 5-3 2-6 1-1-6 2-2zM801 737l-3 0-2-3 3-2 2 1zM698 761l-4-3 9 0-1 3zM892 806l3 4-2 1-3 0-1-3 1-3zM926 820l-6 2 0-3 3-3zM640 816l0 6-4 4-3-2-1-6 5-3zM944 667l-3-1-2-3 3-2 2 3 1 2zM691 834l4-2 2 3-1 3-3-1zM831 927l-7 0 2-4 4-1 3 3zM825 762l5 0-2 4-3-2zM684 964l1 3-7 3-2-3-2-4 6-4zM572 774l-3 2 5-15 5-2 0 10zM584 748l1 1-2 3-5-1 0-2 4-2zM633 868l3 2 2 7-2 3-5 1-2-6 0-4zM697 820l4 3-5 5-6-1 2-4zM640 781l2 1 0 2-1 3-2 0-2-1 1-3zM904 843l2-1 4 1 0 5-4 1-3-4zM956 711l-2-2 0-3 2 0 2 2 1 3zM931 686l5 0 5 0-3 5-2 0-6-1zM786 686l4-4 4 5 3 2-4 8-3-1-3-6zM825 688l-3 3-6 1 1-3 3-2zM627 909l1 2-3 3-2-1-4-9 3 0zM967 669l-1-3 2-1 2 3 1 2zM909 799l-4 3-3-1-2-2 3-5 4 1zM862 667l0-1 1-1 2 1 1 2-1 1-2-1zM976 768l0-3 3-1 5 0 0 2-3 2zM587 814l2-3 3 2 0 5-1 1-4-3zM823 811l4 1 5 4 3 4-1 1-7-3zM819 750l2-1 1-1 1 2-2 2-1-1zM864 871l-1 0-2 0 0-2 0-2 2 1zM651 795l2-1 1 3 1 4-2 0zM915 875l-4 3-4-2 4-9 2 1zM669 807l-2-3 5-3 4 2-2 5zM761 768l2-2 3-1 3 2 1 3-3 3-5-1zM815 985l-1-4 5-3 10 3 4 6-5 3-5 0zM643 838l2 0 1 1-2 2-1-1zM768 788l-2 5-4 0-2-3 1-5 5 1zM715 901l3-11 2 1 2 6-5 11zM768 727l-2-2 2-4 2 1 0 4zM700 840l3 0 2 5-1 1-3-2-1-3zM763 975l-3 3-4-3-1-6 0-3 5 0 1 3zM598 682l-1 1-2 0-3-2 0-1 3-2 2 1zM812 797l-3 1-7-4 4-3 4 2zM859 717l0-1 2 0 1 1-1 2-1 0-1 0zM557 852l-3 1-2 0 0-2 1-2 3-1 2 0zM923 720l2 2 1 2-1 3-1 1 0-2-1-4zM831 672l1-4 3 1-1 6zM747 941l-1-4-1-2 3-1 1 3 2 1-1 3zM750 728l3 2 5 8-3 0-4-1-2-2-3-7zM793 800l-2 1-1-1 0-2 0-1 3 0 1 2zM867 836l1-3 2 2-2 2zM748 665l0 5-2 3-3-1 1-4zM667 747l2 2-2 2-2 1-1-2 1-3zM684 719l-3 3-5-3-2-2-2-6 5-1 5 3zM973 819l7 1-3 6-5-1zM787 922l3 4-1 3-3 1-1-2-1-5zM728 728l-2-1 2-2 2-2 2 2-1 2-2 0zM927 779l-1 3-1 0-1-2 1-3zM645 1005l3-5 2-1 2 0 0 4-4 1zM588 708l6-1 0 2 0 2-5 2-1-1-2-3zM779 814l4-1-4 4-5 1zM960 878l2-1 3 1-4 6-3 0-1 0 0-3zM892 872l-2 5-7-1-1-3 2-4zM802 745l1-1 2 0 1 2-1 0 0 2-3-1zM670 702l4-2 2 1-1 1-4 1zM962 869l-2 0-3 1 0-6 0-1 5 0zM786 960l6-9 7 3-6 7zM783 691l-3 1 0-2 1-1 2 1zM820 915l3-3 3 1 0 6-2 0zM708 871l-1-3 4 1 1 1 0 3-2 0zM872 750l3-2 1 2-2 3-3 0zM672 747l-1-2 2-1 2-1 1 3-2 2zM695 925l2 1 0 3-3 1-2-2 1-2zM716 817l-2 6-1-2 0-5 2-3zM947 857l3-2 2 3-1 2-5-2zM584 666l4-3 4 0 0 3-2 5-3 2-3-2zM602 813l-2-3 1-3 3-1 5 3-1 2-1 2zM821 937l-2-2 0-3 5-2 2 2 2 3-3 2zM705 832l3-1 0 2-2 4-2-1zM585 899l-4 3-9 4 7-7zM932 863l3 1 1 5-6-1-4-4zM823 742l1 1 1 3-1 2-2 0-2-2 1-3zM703 708l-1 2-3 0 0-2 2-1zM823 706l-4-1 1-3 5 1 3 4zM610 756l-1-1 1-1 2-1 2 2-2 1-1 0zM561 704l1 1 1 1-4 0-1-1zM587 689l-1 4-2 0-1 0 0-4zM846 705l1-2 2 2-1 2-2 2-2-1zM882 815l2 0 1 4-2 1-2 0 0-4zM991 699l3-8 0 3-1 6zM581 689l1 4-4 3-3-1-4-1 1-8 2 0zM824 670l4 0 1 1-3 3-3 0-1-2zM983 825l5 0 4 2-4 3-4-1-2-2zM573 919l2-6 4-1 2 2 1 5-4 7-2-1zM572 780l3 5-6 4-5-5 3-4zM979 722l-2 0-1-2 0-2 3 1 1 1zM747 728l-1 2-4-1 0-1 3-1zM973 740l1 0 1 3-2 1-2 0-1-3zM1001 773l-1 5-4 1-7-3 1-6 6-2zM825 719l2-4 2-1 6 1 1 1-7 3zM593 751l-2-3 2-1 2 1zM704 892l2 2-3 1-2-2zM711 767l3-2 2 3-1 0zM576 943l-5-1 1-2 6-2 3-1 0 5zM712 852l-3 4-2-3 0-5 3-2 3 0 1 3zM780 663l3 0 1 0-3 2-2 0-2-1zM984 834l1 4-6 2-2-4zM789 803l1 1 4 2-2 2-1 0-4-3zM588 996l3-3 4 1-3 5zM838 842l2-1 3 1-2 3-3 1-1 0zM680 668l2 1 0 2-7 3 0-2zM655 944l-6-4-1-7 8 7zM663 918l1-8 1-1 2 3 1 2-3 4zM776 704l1 4-5 3-5-3 2-6 4-1zM630 743l2-2 1 1 0 5-2 1zM701 687l-2 5-3 2 0-3 3-7 3 0zM671 736l1 2 0 5-3 0-3-1 0-5 3-3zM774 990l-6 1-3-2-2-3 8 0 2 2zM647 848l1-2 2 0 4 2-1 2-3-1zM580 679l1 2 0 1-3 2-1-1zM1030 788l-3 2-1-2-1-2 3-2 2 0zM578 669l3 4 0 3-3-2-2-4zM681 947l0 4-8-2 2-7zM656 664l5 2 1 7-3-2-5-5zM908 831l-3-3-2-3 2-2 5 1 1 2zM579 886l3-4 3 2-1 6-3 0zM742 845l-2 1-2-3 0-2 2-1 3 2zM768 885l-2 4-3 3-2 0 1-2 4-4zM782 756l2 1 2 4-5-3zM645 971l0-2 4-3 1 3-3 3zM610 833l1 0 0 4-4 1-2-2 2-2zM665 981l-1-7 4 0 1 4-1 3zM668 920l3-2 3 2-3 2-3 0zM633 711l-3 0-3-3 1-4 5 3zM587 841l3 2 0 2-4 1-3-1 0-3zM949 702l4 1 3 2-3 0-5 0-2-2zM656 816l-2-3 3 0 4 4 0 3-2-2zM632 716l4-4 5-2 0 5-3 3zM821 884l1 5-3 3-1-4 1-2zM911 721l3 1 0 1-4 1-2-1zM942 859l-3-1-1-6 5-6 2 5zM632 971l1-9 2-3 4 7 1 7-4 3zM663 822l1-5 3-2 1 4-1 2zM677 1013l-1-6 4 2 0 3zM942 710l-1 1-5 1 0-2 3-4zM636 881l5 1 0 1-2 2-3-2zM901 943l-1-10 5-8 2 8-4 10zM842 950l2 1 2 3 0 2-4-3-1-2zM760 747l-3 4-1-1-3-4 5-3zM958 753l-3 3-1-2 0-3 2-1 4 0zM931 668l1-1 0 3 0 1-2 0 0-1 0-2zM879 674l-3 1-8-2 1-8 4-1 7 4zM632 883l2 5-4 2-1-1 1-5zM588 727l6 3 0 5-3 3-4-7zM789 864l0-2 2-3 10-3 0 1-5 5zM999 730l0-2 3 4 0 4-2 0zM890 763l-2 0-1-1 0-1 2-1 2 1 1 1zM901 785l4-1 1 2 0 1-2 1-3-1zM899 868l-2-1 0-1 2-1 2 1 1 1zM693 853l0-4 5-1 3 2 0 3-4 2zM725 668l-3-1-3-3 5-1 5 1-1 2zM872 861l-1-4 2-1 3 0 0 3-1 2zM618 879l-1 3-2 1-5-2 0-2 3-3 3-1zM883 803l1 1 0 3-3 1-2-1 0-3zM811 808l-2 1-4-2 3-5 1 1zM640 916l0-2 3 0 1 3 0 2-3 1zM880 732l1 2-4 2-1-5zM694 751l2-4 1-1 2 1 0 3-2 1zM597 856l2 4-1 2-2 3-2-4 0-3 1-2zM858 765l0 3-1 2-3-2 1-4 0-2 1-1zM619 685l2-1 3 0 0 2-1 1-4 2-1 0zM589 680l-4-1 1-3 3-2 2 1 1 2zM723 719l0-4 1-2 0-1 0 5zM884 911l-2 2 2-6 1 2zM957 763l-4 0-2-3 2-1 3 1zM560 942l3 2 0 2-2 5-2-1-1-5zM770 893l1-4 5-3 2 0-2 6zM782 910l-5 1-1-2 4-2zM752 868l-2 5-1 1-2-1zM904 812l-1 4-2 1-2-1 0-4 2-1zM754 892l-2 1-4-2 0-6 5-1 1 1 1 3zM775 833l5 0 3 2-2 3-4 2-4-1zM738 664l1-3 2-1 1 0 0 3-1 4-2-1zM725 893l4-5 3 2-2 5zM594 889l-2-2 2-1 2 1 3 3 0 0-3 0zM918 902l-2 2-2 0-3-2 2-2zM711 665l2-2 2 2-1 2-3-1zM663 699l3-2 4 0 2 2-2 1-4 0zM718 908l3 1 1 2-3 3-2 0-1-4zM778 846l2 0-1 3-1 0-2-1zM934 744l3-4 3 2 1 7-2 1-5-2zM884 956l2-1 5 0-1 3-3 0-4 0zM879 860l5 2 2 2-3 1-3-1-3-2zM731 884l-1-1 2-4 5 0-1 4-1 2zM692 742l1 1-1 5-3 1-3-3 0-5zM943 731l2-2 2 0 0 3zM728 701l1 2 0 2-3-1-1-2 1-1zM727 671l0 3-3 3-1-3zM568 670l-1-2 2 0 3 1-1 2zM786 864l-1 3-4 3-2-2 4-3zM783 809l-4 0-3-4 4-1zM569 959l-5 0-3-1 1-3 5 0 1 0zM604 958l-3 1-1-2 2-1zM617 853l3 1-1 3-3 0 0-3zM576 868l2-7 5 2 2 4-2 4-6 2zM884 753l-2 0-2-2 2-2 2 2zM678 699l-5-2-2-3-1-2 3 0 5 3 0 1zM986 781l-1 6-4 3-3-4 1-6 6-2zM688 933l-1-2 5 0 1 4-2 2zM1003 723l0 2-1 0-2 1-2-2 2-1 1 0zM693 788l2 4-4 4-4 0-1-5zM612 717l-2 2-3-1 0-2 4-1zM741 890l1 4-2 2-4-2 1-5 1-2zM854 720l5 2-2 3-5-3zM984 729l2-4 2 0-1 5zM721 951l3 7-4 0-5-4zM693 786l2-3 3-1 3 4-2 3zM661 678l-1 2-6 0 0-3 4-2zM594 956l-2 2-3-2-1-2 3-3 2 1 3 2zM624 971l2-3 2 0 0 1-1 2-1 1zM892 736l0 2-6-3 0-2zM799 843l4-7 5 1 1 7-5 2zM609 786l4 0 2 1-1 1-3 0-2-1-1 0zM637 1009l5-2 6 1-2 4-6 0-3-2zM819 913l-2 1-4-3-1-3 1-1 6 0 2 3zM893 788l2-3 2 4-2 1zM809 1003l0 4-2 1-2-2-1-4 3-2zM809 817l-1-2 3-3 3 2-1 4-3 1zM614 986l-1 1-1 2-2-2 2-3 1-2 1 0zM869 838l1 4-2 3-3-2 1-4zM811 769l-1-6 2-3 3-1 2 7-3 5zM791 904l4 0 3 7-6 2-5 0-3-6-1-3zM854 672l2 0 2 1-1 3-3 0zM790 674l-1-4 3-2-1 4zM748 981l-4-6 2-3 4-1 4 3-3 5zM883 904l-4 0-2-1 3-2 4 2zM586 944l1-2 4 1 3 3-1 2zM853 917l-4-4 3-3 3 3zM789 941l-3-2 1-7 5 1 3 3-1 3zM793 917l4 2-1 2-4 1-2-2-2-1 3-2zM890 706l2-1 3 2-1 2-3 2zM711 741l3-2 1 6-5 5zM773 757l-4-7-1-2 4 0 5 7 0 3zM590 800l1-5 5 5-1 3zM557 920l-2 0-2-6 3 0zM554 760l1-2 2 1-1 3-2 0zM713 838l0 2-4 1 0-2zM754 797l0-3 4-2 2 3 0 3-2 2zM937 898l-2 4-6 1-1-3 3-6 4 0zM851 826l4-2 1 0-1 3-3 2zM596 821l2-1 3 3-1 1-5-1-2-1zM707 660l3 1 0 2-3-1-1-1zM739 809l-1 1-3 0-1-4 3-1 1 1zM1004 734l1-3 5 2-1 3zM800 681l7 2 0 6-5-1zM559 969l-2 5-3 1-2-2 0-3 1-2 3 0zM783 728l0-1 4-1 1 0 0 2-3 1-3 1zM714 734l4-1 2 1-2 3-2 0-4-2zM952 885l0 4-4 5-2-3 3-5zM565 711l0-3 4 3 2 6-3-2zM822 970l-2 1-1-1 1-3 3-2 1 0-1 4zM598 686l1 0 3 1 0 1-2 2zM667 714l0 2-2 1-1-3 2-1zM897 707l-1-1 0-3 2-1 2 0 1 2-2 3zM739 916l-5-1 0-5 7-1 2 4zM660 863l-1 3-5 1-1-3 3-3zM702 695l1 0 1 1-2 1-1 0-1-1 0-2zM753 773l-5-1-4-1-3-3 5-1 6 1 6 4zM672 672l4 3-1 2-6-3-4-3 2-1zM635 740l5 1 2 1-2 2-4-2zM702 879l-3 4-1 0-1-3 1-2 4-1zM642 666l1 1-1 4-2 1-3-2 0-3zM778 736l-4-1 0-1 2-3 1 0 4 1-2 3zM755 692l3-2 3 3-4 3zM960 838l-1-2 3-1 1 1 1 2-2 0zM881 962l1 1-4 2-3-2 2-4zM615 735l-4 0 2-2 2 0 2 1zM828 666l2-3 3 0-1 3-2 0zM707 713l1-1 1-1 1 1 1 1-1 1-1 0zM604 768l3-1 2 2-2 2-3 0zM735 698l-5 3-1-2 3-4 2-1zM789 832l-4-2 1-2 5-4 6-1 1 3zM771 779l2 2-1 3-2-1-1-2zM835 689l-2 2-4 2 0-5 2-1zM696 699l-2-2 0-1 3 1 1 1zM763 1013l-1 3-2-3-1-3 3-1zM682 823l2 2 1 3-3 2-3 0 1-2zM756 825l3-1 4 4 1 4-6 0-5-5zM881 811l5-1 1 3-5 0zM918 809l3-1-1 6-2 1-1-2zM772 849l2 4-3 3-3-2 1-3zM856 695l1 2-1 2-2 1-1-1 1-3zM988 744l3 1 3 2-2 1-3 0-4-3zM647 800l4 3 0 3-3 2-3-5zM588 736l1 5-5 6-2-5zM850 953l-3 1 1-5 3-3 2 1-1 4zM975 751l-5 0-3-2 1-2 4 0 5 3zM771 1003l1-1 3 4-1 3-6 5-2-3zM690 815l3-1 0 4-3 2-4 0zM757 895l2-2 2 1-1 2-1 1-2-1zM748 916l1-2 4 1-1 2-1 2-4-1zM847 752l2-6 3 0 3 3-5 5zM747 723l2 1 1 2 0 2-1 0-1-3zM803 954l-3 1-1-2 2-2 2-1 1 2zM981 791l3-2 2 3-1 2-2 2-4 2 0-4zM861 823l3-2 5 0-2 2-3 3-3-1zM832 767l1-7 2 0 2 2 1 3-1 5-3-2zM781 745l-7 0 1-6 3-2 5 6zM691 680l1 1-1 3-2 0 0-3zM774 916l-1 3-4 0-4-3 2-1 5-2 1 1zM955 737l4-1 1 1-2 3-2 0-2-1zM844 772l-1 1-3 1-3-5 3 0zM820 858l3 3-3 3-6-1 2-6zM922 746l4-3 0 4-2 1zM746 953l0-3 4 0 3 3-1 2-2 1-3-1zM896 695l3-1-1 4-3 1zM718 674l-2-2 2-2 3-1 0 3-1 1zM965 716l-1-3 1-2 4-1 2 2-1 3-1 1zM635 789l-3 7-7-4 3-7zM793 730l3-1 1 2-4 1-3 0 1-1zM744 992l2 1 2 2-3 0-5 0 1-1zM859 733l2 1 0 2-1 2-3-2 1-2zM896 927l-2 2-3 1-2-2 0-2 4 0zM885 912l1-5 10 6 1 5-4 0zM671 989l3 3 1 5-2 0-4-1-2-6zM737 821l2-3 3-1-1 3-2 4-1 0zM653 761l-1-1 1-3 2 1-1 4zM942 755l0-3 0-5 4 2 2 4-1 5-3 0zM797 967l1 0-1 4-2-1 0-2zM728 808l2 1-2 1-2 0-1-2zM664 849l-3 1-1-2 0-3 3 0zM956 730l-2 2-3-2 3-1zM700 983l-1-2-1-4 3-1 2 1 0 2 0 2zM983 716l2-1 2 3 0 1-3 1-3-2zM552 705l2-1 1 2 0 4-2 0 0-1zM760 848l2 2 1 1 0 1-1 0-2-2-1-2zM950 664l2 0 0 4-2 2-1-1-2-2 0-3zM665 923l4 1 0 3-5 0-3-2zM649 790l-1 1-2-1-1-3 2-1 3 2zM758 701l2 1 1 3-3 0-1-3zM560 884l-8-4 3-4 7 1-1 5zM859 798l-1 2-4 1 0-2 0-2 3-1zM564 857l0-2 1 0 2 2 1 2-1 0-1-1zM567 776l-7 3 3-5 3 0zM846 805l3 1 1 1-3 2-2-1zM673 729l4-3 2 1-2 4-2 1-3 0zM693 950l0 3-3 3-3-3-1-3 3-3zM797 798l3-2 4 5-2 3-3 0zM580 909l3 0 0 1-2 2-3 0-1-2 1-1zM749 850l2-2 5-1-1 5zM968 871l-2 3-5 3 0-5 2-1zM971 778l-3-5 3-3 3 2zM751 700l0 3-1 0-2 1 0-2 1-2 1-1zM615 736l1 2-1 3-2-1zM709 781l-1 4-4 0 1-4 3-2zM643 851l-3-5 1-4 3 3 1 6zM575 730l-1-4 3-1 2 2-2 3zM632 679l3 1 1 2-3 2-2-1 0-2zM751 877l4 1-1 1-4 0-1-1zM754 987l-1 3-4-4 1-4zM952 846l1-2 10 2-1 3-5 0zM800 669l-1-3 2-2 5 2 0 2zM596 817l-2-2 1-3 3 0 1 3 0 2zM638 854l3-1 1 3-5 2-4-1-1-2zM977 829l0 5-4-1-3-1-2-3 4-1zM682 922l-1-1 0-1 3-1 2 0 1 2-1 1zM818 881l1-4 3-1 1 4-3 3zM721 707l2 0 0 0-1 3-2 1-1-2zM588 702l-2 0-3-5 1-1 3 2zM785 1011l-2-1-2-2 5-4 4 0 1 3zM849 712l0 2-1 1-1 1-1-2 0-2zM818 826l-3-5 3-3 5 2zM598 994l2 3-1 4-2-1-1-4zM871 714l2 1 1 2-1 2-1-1 0-2zM739 688l-2-6 3-1 3 2-1 3zM728 766l0-2 1-1 1-1 2 2 0 3-2 0zM851 807l0-2 3 0 1 1-1 2-2 0zM765 815l-1-2 1-4 3 0 0 4zM715 875l-1-3 1-3 0 0 3 2 1 2-1 3zM574 892l0-2 3 0 4 5 1 1-4 0zM808 983l1-4 4 7-4 2zM704 717l-2-2-1-2 2-3 2 2 1 3zM581 994l0-12 3-2-1 12zM630 896l0-3 1-1 2 1-1 2zM898 851l2-1 3 6-2 1-2-3zM804 720l2-1 1 1 1 2-1 0-3 0 0-1zM641 868l-2 1 0-4 1-1 3 1 1 3zM688 699l0-1 1-2 1 0 0 3 0 0zM631 728l1-1 4-3 3 1-1 3-3 2-4 1zM962 791l4 0-1 4-3 0zM882 687l0-2 2-1 2 3-1 1-1 0zM961 750l0-2 2-3 1 3-2 1zM830 981l-1-8 3-5 5-1-2 8zM717 772l-1-3 2 0 2 2-2 1zM834 893l7-2 2 1-6 4-6 0zM560 715l-1 0-2-1 0-2 1-1 1 1zM690 863l-3 4-5-1 1-4 6 0zM643 723l-2-4 2-1 2-1 3 2-1 2-2 3zM676 753l4 3-5 1-2-4zM692 875l-2-2 4-2 3 1-1 2-3 2zM649 884l-2 1-3-3 1-1 3-2 3 4zM844 861l2-3 4-2 2 2 1 1-4 3-4 1zM860 862l1 1-3 2-5 1 1-3 5-2zM588 805l1 4-5 0 0-5zM966 734l-3 1-2-1-1-2 3-1 2 0zM651 770l-2 5-8-3 3-5zM887 801l-5-1-2-4 1-1 6 1 0 3zM817 838l-1 5-3-1-2-4 4-1zM714 845l-1-3 2-3 2 1 2 2 0 1-2 2zM574 966l-2 1-1-4 2-5 2-1zM612 938l-4-1 0-2 8-3 0 4zM615 774l-1 10-2 0 1-7zM773 794l-1-6 6 0 0 2-2 4zM700 948l6 1 0 3-2 1-5-2zM751 677l-1-3 1 0 1 1 1 2zM849 723l3 1 0 1-5 0 0-1zM831 857l0 2-2 1-2-2 0-2 2-2zM823 959l3-1 1 2-3 2-4 1 1-2zM723 817l-1-3 1 0 2 0 1 2-2 1-1 0zM775 998l1 5-3-2-2-2-1-4 3 1zM938 780l3-1-1 2-3 0zM689 734l1-2 1 1 1 0-1 3-1 0-1 1zM856 758l4-6 3 2 2 6-5 2zM596 765l-1-2 2-2 1 0 1 2-1 1zM668 837l7 2-2 2-5 0-3-3zM588 768l-1 2-3 1 0-4zM947 800l2 3-3 3-5 0-1-3 4-4zM817 741l1 6-3 0 0-6zM712 779l-2-2 0-5 2 3zM814 884l-4 2 1-4 2 0zM614 759l2 0-1 5-4 3 0-3zM874 952l-4-2 0-4 2-1 3 3zM674 886l3 1 2 2-2 3-2-1-2-1zM938 769l3 2 0 2-5-1zM744 974l-5 0-2-2 2-3 1-1 4 1 1 3zM703 733l-1 0 0-3 1-2 2-1 1 1-1 2zM576 720l-2 3-3-3 0-3 5 0zM886 851l2-2 3 0 1 4-2 1zM750 924l1-1 3 0 0 0-2 2zM632 669l-3-2 0-5 5 2zM862 877l5 0 3 0-1 5-5 4-5-6zM555 801l1 1-1 1-2 1-1-1 0-2 2-1zM917 779l4-1 0 4-1 2-4-3zM713 937l2 2-1 1-1 1-2-1 0-3 1 0zM645 752l3-3 2-1 0 7-2 4-5 4 0-4zM742 679l2-3 3 0-2 4zM686 663l0 5-1 1-2-1 1-5 2-1zM974 880l-1-2 1-4 4-2 0 5zM660 763l0 3-4 0-1-3 3-2 2 0zM679 850l-5-2-1-3 3-1 5 1 2 3zM632 842l-2 1-2-1 0-1 4-2 0 1zM780 923l-1 8-3-2 0-7 1 0zM792 761l-2-1-1-5 3-3 1 3zM710 917l4 2 1 3-5 0-2-2zM796 756l1-1 3-1 0 2-1 1zM813 752l1-2 1-1 2 1 1 3-2 2-2 0zM634 847l-3 0 0-1 1-1 2 0 2 1zM623 801l-2-5 2 0 3 4 2 3zM769 734l-2-3 1-3 2-1 2 3 0 3-1 2zM779 899l-3 3-5 1-1-3 1-3 7 0zM583 853l-6-1 2-3 5-1 2 2zM797 681l-2 0-3-1 2-3 3 2zM642 980l3-3 5-2-3 5zM1000 716l4-3-1 3-1 3-3 1-1-1zM848 800l-2 2-2-4 4-1zM688 769l-4-4 1-2 5-1 0 6zM763 886l-3 1-4-3 1-3 4 2zM756 943l0-4 3-1 3 6-3 2zM702 911l4 5-9 1-1-4zM780 675l4-1 2 3-7 1zM790 946l3-3 6-1 4 3-5 3zM615 956l-1 6-1-2-4-9 2-4 4 2zM563 835l-1-4 2-1 0 2 1 3-1 1zM840 660l-2 4-2-1 1-3 3-1zM888 663l2-2 2-2 2 1-2 2-2 1zM779 955l1 0 1 3-1 4-3 0-2-4 2-2zM645 689l2 1 1 3 0 3-1 0-3-5zM719 787l2 0 0 5-2 3-1-5zM660 685l2 2-2 4-2-1-2-6zM864 860l-2 1-2 0 0-1 2-2 2 0zM872 723l6-2 3 3 1 4-7 1zM781 707l-5-3 2 0 6 1 4 2-3 0zM841 959l4-2 1 0 0 3-2 2-3-1zM817 718l4 1-4 4-2-1zM555 693l4 1 1 4 0 1-4 0-2-4zM681 790l1 1 2 2-2 2-3 0-1-3zM983 746l-3-3 1-4 2 1 2 4 0 2zM873 906l-2 0 0-3 1-2 2 1 0 3zM785 887l-1 2-2 1-2-2 0-1 4-1zM674 660l3 0 0 2-3 0zM628 772l2 0 0 5-3 0-1-4zM699 935l-1-1 1-2 3-1 2 2-1 2zM973 867l-5 3-1-3 4-2zM662 713l1 2-2 1-2 0 1-3zM895 777l5-2 2 2-2 3-6 2-1-2zM966 781l5-3 2 2-2 4-3-1zM873 694l4-2 3 2-4 3zM725 927l2-1 4 0 1 5-2 3-4 2-2-2zM590 687l-1-5 1-1 2 2 1 5-1 1zM917 698l1 1 0 2-2 1-1-1zM791 777l-1 3-3-1 0-3 3-1zM812 913l3 4 0 4-1 1-1 0-3-6 0-3zM930 750l2 2-2 3-3 2 0-4zM723 763l-1 2-2 1-1-1 0-1 1-2 2 0zM713 681l-3-1 0-2 3-2 1 1 0 2zM720 988l-1 2-3-1-1-1 1-2 2-1 2 1zM660 979l-1 1-2 0-3-5 2-1zM816 760l-1-2 2-2 1-1 2 2-2 3zM934 828l-1 3-2-3 0-2 1-2 2 2zM596 792l-4 0-3-3-2-3 2-2 4 4zM842 662l2-1 2 1 1 1-2 1-3-1zM761 991l3 1 1 3 0 2-2-1-2-3zM944 773l3 4 0 5-3-2-2-6zM625 877l3 0-1 5-4 1-1-2zM621 778l-2-3 2-2 2 3-1 2zM739 897l-2 2-1 1-1-1 1-1 2-2 1 0zM591 703l-1 1-2 2-1-2 4-3zM645 747l-1-3 5 0-1 4zM925 662l2-1 2 1 1 1-3 2-2-2zM668 689l1 3-4 3-1-4zM567 741l1-1 4 4-1 3-2-1zM847 842l0 1-3 3-1 0 2-3zM789 867l1-2 1 1 0 2 0 1zM762 778l0-2 3-1 1 1 0 2zM602 722l-3 0-1-1 0-2 1-1 2 0 1 2zM899 731l-3 1-3 1-1-3 1-2 5-2 1 2zM713 975l4-1 2 2-5 2zM562 963l-3 2 0-3 2-1 3-1 0 2zM584 786l-2 1-4 0 0-2 2-2 2 0zM588 834l2-2 2 5-3 3-4-1-1-3zM923 853l-2-2 1-1 0-1 4 2 0 2zM772 724l3 0 0 1-2 1-2 0zM930 697l3 1 1 1-2 1-1 0zM747 837l-3-3 1-1 2 2zM741 1009l1 3-3 1-3-1 1-3 2 0zM953 683l-3 1-1-2 3-2zM789 981l0 5-5-2 1-4zM699 769l-5-1-1-3-1-3 4 2 2 2zM628 812l2 0 0 2-3 2-2-1 1-1zM582 689l-1-2 2-3 1 0 1 2-1 2zM688 945l-3 2-1-5 3-3 3 2zM849 776l1-2 2 3-1 2-2 0zM602 803l-2 0-1-2 2-2 2 0 0 1zM575 911l-2 2-2 0-1-1 2-3 1-1zM755 933l3 1-5 2-1-3zM562 853l-1-3 3-1 4 1 1 2-3 1zM559 765l-2 4-3-1 2-4zM827 770l1 1 1 2-1 2-1-2zM860 828l2 0-1 2-1 1-2-1 0-1zM967 824l-4-1 1-2 5-2 2 1zM799 697l1 2-1 1-3-1-1-2 0-1 2 0zM562 661l2-1 3-1 4 3-2 4-5-1zM912 674l2 1-4 4-1-2zM977 687l-4 0-2-3 4 0zM679 995l-3-1 4-4 2 0 0 2zM617 846l-1 2-2 0 0-2 0-1 2 0zM577 975l2-3 3 0 3 1-2 3-5 1zM758 962l-3 3-3-2 1-2 4-1zM622 692l2 0 2 1 1 3-1 1-3-2zM758 677l-2 0 0-3 3-1 0 2zM929 873l3 1-1 2-5 2 0-3 1-2zM895 928l1-2 1-1 2 1-1 1-2 1zM979 676l3 3-1 1-4 1-2-4zM935 669l1-1 1-2 1 1 2 1-2 1-1 1zM853 662l7 2 0 3-8-3zM758 987l-2-7 1-3 4 2 4 6-1 3-1 2zM825 708l2 0 0 3-1 2-1-1 0-2zM814 848l-1 1 0-1 0-4 1-2 1 3zM612 921l0-2 3-1 1 2-3 1zM816 831l0 1 0 1-3 1 0-1 0-1zM665 732l-1 4-2 0-3-3 1-2 2-1zM828 793l-2 2-2-5 3 0z"/><path fill="#000" stroke="#000" stroke-width="1" d="M352 384l2-2 2 2 0 2-2 1-2 0zM836 861l2-1 2 1-1 2-2 0zM821 770l1 2-5 0-2-1 1-1 3-1zM742 883l-1-2 1-2 3 0 1 1-2 3zM502 66l1 3-2 1-2 1 0-3 1 0zM557 669l-1-2 0-2 2-1 1 1-1 3zM495 481l1 3-3 1-1-3zM893 851l2-3 3 0 1 2-2 2-3 0zM417 723l-3 2 0-2 3-4 2 0zM565 791l1-2 2 1 0 1-1 1zM909 807l-3-1 1-3 2 0 2 2 0 2zM816 729l-1-2 3-2 2 3-2 2zM758 915l2 3-2 2-3-1 0-2 1-2zM655 787l2 2 0 1-1 2-1-1-2-2 0-2zM461 522l-1-3 3-2 1 2 0 1-1 2zM572 944l-4 3-1 0-1-3zM278 477l3-1 1 0-3 5-2 1-1-2zM583 802l-3-5 4 1 3 3zM407 501l-1-2 2-2 2 4-2 1zM331 266l-1-5 2-1 1 3 0 5-1 1zM589 282l-1 1-1-3 2-2 1 1zM728 761l0-3 0-2 2 1 2 2-2 2zM798 982l-1 1-4 0-2-1 2-1zM195 506l-1 0 1-3 2 0 2 0-1 4zM239 516l3-2 2 2-2 4-2 0zM684 431l3-1 3 2-1 1-5 0zM637 692l2-1 2 3-2 2-3-1zM393 615l-2 4-4 1-1 0 5-4zM500 721l2 2 1 1-1 2-2-2-1-3zM693 558l-2 0 0-1 1-1 2 0 2 1-1 2zM481 126l2 0 2 2 0 1-3 1zM708 684l-3 0 0-3 0-4 2 0 2 3zM816 477l3 1 1 1-1 1-4 0 0-1zM582 328l-2 2-2 0 0-2 0-1 3 0zM245 684l-1 3-2 1-2 0 0-2 1-2 3-1zM752 698l0-2 1 1 2 2 1 3-1-1zM386 357l3 0 1 2-4 0-1-1zM480 609l3 3-1 2-3-4zM493 472l-1-1-1-3 2-1 2 3 1 2zM406 202l0 1-1 1-4-1-1-2 3 0zM446 382l0 5-2-1-1-3zM811 728l-4-1 3-2 4 1zM556 749l0 2-1 2-3 1 0-3 2-1zM864 715l0-1 3 1 1 2-3 2zM312 273l-2-1-2 0 1-3 2-1 1 0 2 3zM856 542l-1-2 1-1 5 0-2 2zM609 824l-3 2-2-1 0-1 1-3 1 1 3 0zM998 759l4-2 2 0-2 3-3 1-2 1zM436 323l-1 1-2-3 1-1zM846 855l-1 0-1-2 0-2 2 1 1 2zM742 606l2-1 2 1 0 2-3 1-1-2zM327 301l1-1 3 0 1 2-3 1zM741 765l3 3-1 2-1-1-2-4zM451 134l3-4 2 1-1 3zM816 701l0-2 2 0 2 1 0 3-2-1zM434 604l-2 1-1 0 0-3 2-3 1 1zM563 718l-2 0 1-2 4 0 0 1zM710 936l-3-5 3-2 2 3zM833 951l3 2-1 1-2 0-1-1zM224 335l-1 1-1-1 0-2 2-2 1 2zM450 443l2 0-3 4-2 3 0-5zM782 493l-2-1 0-2 1-3 2 2zM813 682l2 3-1 1-2 0 0-2zM581 170l0-1 4-1 2 3-2 1zM788 702l0 0 0-1 1-1 2-1 1 1-1 1zM235 334l-3 2-2-4 3-1zM904 522l-3 3-1-2 4-5 2 1zM415 132l-2-3 2-1 1-1 2 1-1 3zM934 860l-1 1-3-2 0-1 0-2 3 1zM562 225l2 1 0 3-2-1-1-1zM259 369l2 0 0 3-2 2-1-4zM591 888l0 2-3 1 0-1-1-2 2-1zM608 245l3 2-1 3-3-2zM675 668l-3 1 0-3 2-1 3 0zM582 515l-4 0 0-2 2-3zM751 447l-3-1 0-2 5 1zM756 463l-1 5-2 0 0-4 2-2zM305 262l-1 4-4-1 2-4zM655 568l-1 0 1-3 1-1 1 1zM861 749l-1 3-2 1 1-6 2-1zM204 330l-2 2-3 1 1-3 3-1zM235 405l-1-2 2-1 3 1-1 1zM915 842l1 2-1 0-1 0-2 0 1-3 1 0zM358 363l-1-2 3 0 1 2-2 1zM806 560l-2 1-4 0 0-2 3-1 2 1zM857 615l-1-2 0-2 2 0 1 2 0 3zM389 724l3-1 0 2-3 4-2 1-1-2 1-3zM600 527l4 1-4 3-4-1 0-1zM302 488l-2 0 0-5 3 0 1 2zM391 778l-1 2-2 1-2-5 1-1 2-1zM169 539l3-1 1 1 0 3-2 0-1-1zM362 621l0 1 0 2-1 2-1-1 0-3zM956 611l1-3 1 1 0 4-2 0zM996 812l-5 0-1-3 3-1 3 1zM901 689l0-4 3-2 1 4-2 2zM348 400l1 1 1 1-1 1-2 0-1-2 1 0zM246 425l-3 1-1-2 1-2 2 1zM566 707l-2 0 1-3 3 1zM881 946l-3 0-1-1 0-1 2-1 2 1 0 1zM245 354l2 2-1 3-1 0-2-1zM514 575l1 2 1 2-1 1-1 0-1-3zM772 659l1 1 1 2-2 3-1-2 0-3zM273 448l-2-1-1-2 4-1 2 1 1 3zM143 583l-1 1-1 1-2-1 0-2 3 0zM728 821l0 3-1 0-2-4 1-2zM344 344l-4 2-1-1 4-2zM385 454l2 1-3 3-3-2 2-3zM321 231l1-1 2-1 2 0 1 1-1 1-3 1zM495 243l3 3-2 3-1-1-2-2 1-2zM662 556l1 2-1 1-3-2-2-4 1 0zM574 278l-3 0-1-1-1-3 5 2zM286 534l-2 0-1-1 0-2 3 1zM558 735l-2 2-1 0-3-1 0-1 2 0 2 0zM254 545l2-2 2 1-1 1zM497 369l-4 1-1-3 3-1zM869 802l0-4 4 2 0 2zM656 591l-1 3-3 0 0-4zM198 351l-2 2-2-1 0-1 2-1 1 0zM660 674l0-2 4 1 1 2 1 2-1 1-3-2zM557 415l-2 0-2-1-1-4 0-1 2 2zM862 788l1-2 2 2 0 4-1 1-1-1zM663 724l0 2-3-2-2-4 2 1zM506 803l-1-3 2-1 2 2 0 3-1 0zM326 395l-1-1 1-1 3 0 1 1 0 1-2 1z"/>
<g stroke="#000" fill="none" stroke-linecap="butt">
<path d="M521 34V630.8M551.4 34V630.8" stroke-width="2"/>
<path d="M521 658V1077M551.4 658V1077" stroke-width="2"/>
<path d="M76 629.8H522M550.4 629.8H1025" stroke-width="2.4"/>
<path d="M76 659.2H522M550.4 659.2H1025" stroke-width="2.4"/>
</g>
<g font-family="Liberation Serif" font-size="18.5" letter-spacing="0.6" fill="#000" text-anchor="middle">
<text x="535" y="36.0">-76</text>
<text x="535" y="101.5">-69</text>
<text x="535" y="156.6">-62</text>
<text x="535" y="211.6">-55</text>
<text x="535" y="265.0">-48</text>
<text x="535" y="321.7">-33</text>
<text x="535" y="375.9">-30</text>
<text x="535" y="431.3">-22</text>
<text x="535" y="484.3">-17</text>
<text x="535" y="539.8">-8</text>
<text x="535" y="592.0">-9</text>
<text x="532" y="700.4">-1</text>
<text x="532" y="756.0">0</text>
<text x="532" y="810.8">+2</text>
<text x="532" y="864.0">+5</text>
<text x="532" y="919.6">+3</text>
<text x="532" y="978.0">+2</text>
<text x="532" y="1027.0">+7</text>
<text x="114.5" y="650">-26</text>
<text x="163.5" y="650">-9</text>
<text x="218.5" y="650">-5</text>
<text x="277" y="650">-11</text>
<text x="327" y="650">-8</text>
<text x="380.5" y="650">-7</text>
<text x="434" y="650">-5</text>
<text x="487" y="650">-5</text>
<text x="597.7" y="650">+3</text>
<text x="651.6" y="650">-3</text>
<text x="705" y="650">-9</text>
<text x="764.6" y="650">-16</text>
<text x="817.3" y="650">-22</text>
<text x="867.4" y="650">-6</text>
<text x="926.7" y="650">-18</text>
<text x="535" y="649" font-size="16">×</text>
</g>
<circle cx="966.3" cy="643.5" r="0.7" fill="#555"/>
<g fill="none" stroke="#000" stroke-width="2.3">
<rect x="525.6" y="1111.8" width="67.1" height="46.6"/>
<rect x="790.6" y="1111.8" width="66.4" height="46.6"/>
<rect x="526.0" y="1198.0" width="68.2" height="47.3"/>
<rect x="790.8" y="1199.0" width="68.0" height="46.3"/>
<rect x="527.1" y="1286.0" width="67.1" height="46.9"/>
<rect x="793.0" y="1286.4" width="66.2" height="46.9"/>
</g>
<g fill="none" stroke="#000" stroke-width="1.6" stroke-linecap="round">
<line x1="526.5" y1="1127.5" x2="546.5" y2="1156.6"/>
<line x1="526.5" y1="1139.2" x2="539.3" y2="1157"/>
<line x1="526.5" y1="1148.6" x2="532" y2="1157"/>
<line x1="536.7" y1="1141.7" x2="544.7" y2="1134.1"/>
<line x1="541.1" y1="1147.5" x2="553.5" y2="1134.5"/>
<line x1="546.5" y1="1156.6" x2="569.8" y2="1132.3"/>
<line x1="569.8" y1="1132.3" x2="588.4" y2="1157"/>
<line x1="558.5" y1="1145" x2="567.6" y2="1157"/>
<line x1="564.4" y1="1138.8" x2="577.5" y2="1157"/>
<line x1="576" y1="1138.8" x2="581.5" y2="1133"/>
<line x1="580.4" y1="1142.5" x2="589.5" y2="1133"/>
<line x1="791.5" y1="1133" x2="802.5" y2="1113"/>
<line x1="791.5" y1="1151.5" x2="813" y2="1113"/>
<line x1="801.4" y1="1157" x2="824.6" y2="1113"/>
<line x1="816.3" y1="1157" x2="839.2" y2="1113"/>
<line x1="829.4" y1="1157" x2="852.6" y2="1113"/>
<line x1="844.3" y1="1157" x2="856.3" y2="1135.5"/>
<line x1="800.3" y1="1124.6" x2="813.7" y2="1124.6"/>
<line x1="832.3" y1="1136.3" x2="848.6" y2="1136.3"/>
<line x1="526.9" y1="1219.1" x2="535.6" y2="1244.2"/>
<line x1="530.9" y1="1200.2" x2="546.2" y2="1244.2"/>
<line x1="542.9" y1="1199.5" x2="558.9" y2="1244.2"/>
<line x1="555.6" y1="1199.5" x2="571.3" y2="1243.1"/>
<line x1="569.5" y1="1199.5" x2="584.7" y2="1242.4"/>
<line x1="582.5" y1="1199.5" x2="592.7" y2="1229.3"/>
<line x1="531.6" y1="1213.3" x2="547.3" y2="1213.3"/>
<line x1="572.4" y1="1227.1" x2="583.6" y2="1227.1"/>
<line x1="531.3" y1="1287" x2="531.3" y2="1332"/>
<line x1="541.1" y1="1287" x2="541.1" y2="1332"/>
<line x1="551.3" y1="1287" x2="551.3" y2="1332"/>
<line x1="562.9" y1="1287" x2="562.9" y2="1332"/>
<line x1="574.5" y1="1287" x2="574.5" y2="1332"/>
<line x1="584.7" y1="1287" x2="584.7" y2="1332"/>
<line x1="538.2" y1="1297.3" x2="550.5" y2="1297.3"/>
<line x1="569.5" y1="1311.5" x2="577.8" y2="1311.5"/>
<line x1="528.4" y1="1287" x2="528.4" y2="1332" stroke-width="0.8"/>
<path d="M801.7 1312.9V1302.7H805.7M834.1 1326.4V1316.9H837.7" stroke-width="1.5" stroke-linecap="butt"/>
</g>
<g fill="none" stroke="#000" stroke-width="1.6" stroke-linejoin="round">
<path d="M794.1 1214.4C797 1211 800 1208 802.5 1206.4C808 1207 814 1205 818.5 1206C821 1207.5 821 1211 818.5 1214C815 1216 812 1216.8 809 1216.5C806 1216 805 1214 804.6 1214C800 1213 797 1213.5 794.1 1214.4Z"/>
<path d="M792.3 1232.9C794 1229.5 796 1228.2 797.4 1228.2C802 1227.4 806 1227.4 810.5 1227.1C812.5 1229 813.5 1231 812.6 1233.6C812.5 1237 812 1239 810.5 1240.2C807 1242 805 1242.5 803.2 1242.4C800 1241 797.5 1240 795.9 1238.7C793.5 1236.5 792.5 1235 792.3 1232.9Z"/>
<path d="M827.9 1227.1C830 1224 833 1221 835.9 1219.1C840 1216 843 1213.5 846.1 1212.5C848 1212.5 848.8 1213.5 848.3 1214.7C847 1219 845 1222 843.2 1225.6C841 1228 838.5 1229.8 835.9 1230.7C833 1231.2 831 1231 830.1 1230.7C828 1229.8 827.5 1228.5 827.9 1227.1Z"/>
</g>
<g fill="#000">
<path d="M806 1215.5C810 1216.8 815 1215.5 818.5 1214C820.5 1211.5 821 1209 820 1207.5C819.5 1211 817 1213.5 812 1214.6C809 1215 807.5 1215 806 1215.5Z"/>
<path d="M792.6 1234C794 1238 798 1241 803.2 1242.4C800 1240 797.8 1238 797 1236.5C795.5 1235 794 1234 792.6 1234Z"/>
<path d="M829 1230C832 1231.5 836 1231 840 1228.5C843 1226 844.5 1224.5 845 1222.5C842 1225.5 839 1227.6 835 1228.6C832 1229.2 830.5 1229.6 829 1230Z"/>
</g>
<g font-family="Liberation Serif" fill="#000" font-size="22.5" letter-spacing="2.3">
<text x="602.0" y="1145.5">материк</text>
<text x="866.5" y="1145.5">предматерик</text>
<text x="602.0" y="1230.8" word-spacing="-3">насыпь кургана</text>
<text x="868.5" y="1232.5">камни</text>
<text x="601.5" y="1322.5">погребенный</text>
<text x="626.0" y="1353.0">чернозем</text>
<text x="867.0" y="1321.8" word-spacing="-3">современный слой</text>
</g>
<path d="M246.4 705.0C250.7 704.4 254.3 705.4 257.3 707.7C260.3 710.0 263.0 712.8 264.5 718.6C266.0 724.4 265.8 735.0 266.4 742.3C267.0 749.6 269.1 757.6 268.2 762.3C267.3 767.0 264.6 769.5 261.0 770.5C257.4 771.5 251.3 770.3 246.4 768.6C241.5 766.9 235.5 764.3 231.8 760.5C228.2 756.7 225.6 751.5 224.5 746.0C223.4 740.5 224.3 733.5 225.5 727.7C226.7 721.9 228.3 715.2 231.8 711.4C235.3 707.6 242.2 705.6 246.4 705.0Z" fill="#b4b4b4" stroke="#000" stroke-width="2.3" stroke-dasharray="5 2.6"/>
<line x1="171.5" y1="724.2" x2="241" y2="724.2" stroke="#000" stroke-width="2.3"/>
<g fill="#fff" stroke="#000" stroke-width="2" stroke-linejoin="round">
<path d="M220.7 801.3C222.2 800.9 244.4 800.9 248.0 800.8C251.6 800.7 273.4 799.1 275.3 799.6C277.2 800.1 275.9 807.2 276.4 808.4C276.9 809.6 282.8 816.4 282.4 817.1C282.0 817.8 272.0 818.3 269.8 818.2C267.6 818.1 252.9 816.8 250.0 816.0C247.1 815.2 228.2 807.7 226.2 806.7C224.2 805.7 219.2 801.7 220.7 801.3Z"/>
<path d="M219.6 831.3C218.8 828.9 219.7 816.5 220.7 813.8C221.7 811.1 226.7 808.2 228.4 807.8C230.1 807.4 233.9 808.8 234.9 810.0C235.9 811.2 237.0 815.6 237.1 818.2C237.2 820.8 237.1 830.5 236.0 832.4C234.9 834.3 229.2 834.6 227.3 834.5C225.4 834.4 220.4 833.7 219.6 831.3Z"/>
<path d="M226.2 838.9C226.2 837.6 230.7 834.6 232.7 834.0C234.7 833.4 242.2 832.5 243.6 833.5C245.0 834.5 246.0 841.4 244.7 842.7C243.4 844.0 234.9 845.3 232.7 844.9C230.5 844.5 226.2 840.2 226.2 838.9Z"/>
<path d="M236.5 821.5C236.6 819.7 237.2 816.9 238.2 816.0C239.2 815.1 244.0 811.9 244.7 813.8C245.4 815.7 245.1 830.4 244.2 832.4C243.3 834.4 238.0 832.6 237.1 831.3C236.2 830.0 236.4 823.3 236.5 821.5Z"/>
<path d="M245.8 813.8C246.7 812.4 251.1 811.3 252.4 811.6C253.7 811.9 256.3 812.0 256.7 816.0C257.1 820.0 256.7 841.9 256.2 845.5C255.7 849.1 253.6 846.9 252.4 846.5C251.2 846.1 246.7 844.9 245.8 842.2C244.9 839.5 244.7 826.9 244.7 823.6C244.7 820.3 244.9 815.2 245.8 813.8Z"/>
<path d="M261.1 814.9C262.1 813.8 266.5 812.7 267.6 813.3C268.7 813.9 270.0 819.2 270.9 820.4C271.8 821.6 275.0 821.4 275.3 823.6C275.6 825.8 273.9 836.5 273.1 838.9C272.3 841.3 269.8 843.1 268.7 843.8C267.6 844.5 264.6 845.9 263.3 844.9C262.0 843.9 258.3 838.2 257.8 835.6C257.3 833.0 258.5 824.9 258.9 822.5C259.3 820.1 260.1 816.0 261.1 814.9Z"/>
<path d="M254.5 813.0C254.7 812.2 259.5 813.1 260.0 814.0C260.5 814.9 259.1 821.1 258.5 821.0C257.9 820.9 254.3 813.8 254.5 813.0Z"/>
</g>
<path d="M228.5 781.0C229.4 779.7 235.4 778.9 236.5 780.5C237.6 782.1 237.1 791.1 236.5 793.0C235.9 794.9 232.9 795.4 232.0 795.0C231.1 794.6 230.5 791.9 230.0 790.0C229.5 788.1 227.6 782.3 228.5 781.0Z" fill="none" stroke="#000" stroke-width="1.6"/>
<rect x="871.4" y="83" width="4.4" height="99.6" fill="#000"/>
<path d="M873.6 107.5L868.8 115.8L878.4 115.8Z" fill="#000"/>
<path d="M919.5 1023.2H1026.5" stroke="#000" stroke-width="3.6"/>
<path d="M920.5 1019V1023M943.5 1019.5V1023M971.2 1019.5V1023M997.4 1019.5V1023M1025.2 1019V1023" stroke="#000" stroke-width="2"/>
<g font-family="Liberation Serif" fill="#000" font-size="22"><text x="914.5" y="1018">0</text><text x="1019.5" y="1018">2</text><text x="1037" y="1018">м</text></g>
<path d="M215 1102.6H325.5" stroke="#000" stroke-width="3"/>
<path d="M216 1098.5V1102M242.5 1099.5V1102M270.4 1099.5V1102M297 1099.5V1102M324.5 1098.5V1102" stroke="#000" stroke-width="1.8"/>
<g font-family="Liberation Serif" fill="#000" font-size="22"><text x="200.5" y="1097.5">0</text><text x="317" y="1097.5" letter-spacing="1.5">4 см</text></g>
<path d="M320 1414V1420.3H366.5V1414M343 1416V1420" stroke="#000" stroke-width="2.6" fill="none"/>
<g font-family="Liberation Serif" fill="#000" font-size="22"><text x="304" y="1417">0</text><text x="358" y="1417" letter-spacing="1.5">2 см</text></g>
<path d="M158.8 1410.5H163.8V1518.8H158.8" stroke="#000" stroke-width="2.8" fill="none"/>
<path d="M158.8 1437.5H163M158.8 1465.2H163M158.8 1491.1H163" stroke="#000" stroke-width="2"/>
<g font-family="Liberation Serif" fill="#000" font-size="22"><text x="141" y="1414">0</text><text x="111" y="1531.5" letter-spacing="1.5">8 см</text></g>
<path d="M57.5 836.0 L55.5 840.0 L53.0 855.0 L50.6 874.7 L45.3 878.5 L43.5 885.0 L43.0 897.6 L42.4 940.0 L42.5 1000.0 L43.6 1060.0 L44.0 1130.0 L43.8 1200.0 L43.6 1300.0 L43.6 1426.0 L47.0 1440.0 L53.0 1470.0 L59.7 1504.0 L82.0 1504.0 L87.0 1490.0 L87.5 1460.0 L89.0 1400.0 L90.5 1300.0 L91.5 1200.0 L92.5 1100.0 L92.9 1000.0 L92.2 945.0 L92.0 893.8 L94.2 880.8 L86.5 877.0 L80.0 855.0 L76.5 838.5 L73.5 835.5Z" fill="#fff" stroke="#000" stroke-width="2.6" stroke-linejoin="round"/>
<path d="M57 838L64 858L69.7 878.5L72 893L75 895.3L86.5 894.5L84 880L79 860L74.5 838" fill="none" stroke="#000" stroke-width="1.8"/>
<path d="M69.5 878L68 886L71 893L75.5 895L72.5 886Z" fill="#000"/>
<path d="M86.5 877L91.5 880L92 893L86.5 894.5Z" fill="#000"/>
<path d="M73.5 837.5L76.5 837L80.5 852L86.8 877L87.5 894.5L84.5 894.5L81 875L76.5 855Z" fill="#000"/>
<path d="M88.9 895.0 L88.2 901.7 L86.9 908.7 L88.8 913.1 L87.4 921.3 L84.5 926.4 L84.6 932.8 L84.9 939.2 L84.6 943.9 L84.5 952.3 L83.5 960.0 L83.0 964.3 L84.4 971.2 L82.3 975.4 L82.6 981.8 L82.5 990.1 L83.7 998.8 L83.6 1006.8 L82.3 1015.4 L85.1 1019.9 L82.4 1025.0 L83.9 1031.2 L84.5 1036.7 L85.4 1042.6 L84.9 1049.5 L85.0 1058.1 L84.8 1066.7 L85.8 1075.7 L85.3 1080.5 L85.3 1089.3 L86.1 1096.2 L85.6 1101.2 L87.5 1108.1 L85.4 1112.4 L87.9 1121.3 L86.4 1129.3 L86.6 1134.1 L84.1 1141.9 L84.8 1146.2 L84.2 1150.4 L83.2 1156.0 L83.9 1164.9 L84.0 1173.9 L82.7 1178.3 L83.9 1182.5 L82.1 1188.5 L83.9 1193.3 L82.5 1201.6 L80.2 1210.4 L81.7 1216.3 L80.9 1222.9 L81.3 1229.9 L80.0 1237.0 L81.9 1243.5 L82.9 1251.1 L80.5 1256.6 L82.3 1263.3 L82.9 1267.3 L84.7 1274.2 L82.9 1281.3 L83.1 1285.6 L83.2 1291.9 L83.4 1297.7 L86.1 1305.4 L84.0 1309.7 L85.7 1318.5 L84.6 1324.8 L85.4 1330.4 L85.4 1335.9 L85.6 1342.9 L83.8 1348.8 L84.4 1352.9 L85.0 1360.6 L83.0 1365.7 L84.9 1370.9 L82.7 1377.1 L83.8 1381.6 L81.6 1387.3 L81.1 1393.5 L82.6 1398.3 L80.2 1405.6 L82.1 1411.8 L80.8 1416.4 L79.6 1421.4 L81.3 1429.6 L78.9 1435.0 L78.7 1442.2 L81.0 1447.9 L78.6 1453.4 L80.1 1458.7 L79.9 1464.8 L78.3 1470.8 L81.6 1475.6 L78.8 1484.3 L80.7 1493.3 L86.5 1500.0 L87.5 1460.0 L89.0 1400.0 L91.0 1300.0 L92.3 1150.0 L92.9 1000.0 L92.3 895.0Z" fill="#000"/>
<g fill="#000"><ellipse cx="78.1" cy="1451.4" rx="3.4" ry="1.1" transform="rotate(-44 78.1 1451.4)"/><ellipse cx="63.7" cy="1068.4" rx="1.4" ry="0.6" transform="rotate(-67 63.7 1068.4)"/><ellipse cx="78.0" cy="1248.2" rx="1.5" ry="0.4" transform="rotate(-35 78.0 1248.2)"/><ellipse cx="58.8" cy="1449.3" rx="4.2" ry="1.1" transform="rotate(-41 58.8 1449.3)"/><ellipse cx="86.0" cy="902.9" rx="2.0" ry="0.6" transform="rotate(-44 86.0 902.9)"/><ellipse cx="76.4" cy="1143.3" rx="3.6" ry="1.1" transform="rotate(-53 76.4 1143.3)"/><ellipse cx="75.5" cy="1046.5" rx="2.5" ry="1.0" transform="rotate(-60 75.5 1046.5)"/><ellipse cx="72.4" cy="1215.8" rx="2.2" ry="1.0" transform="rotate(-30 72.4 1215.8)"/><ellipse cx="73.6" cy="1448.1" rx="1.1" ry="0.4" transform="rotate(-27 73.6 1448.1)"/><ellipse cx="63.3" cy="925.0" rx="1.3" ry="0.6" transform="rotate(-44 63.3 925.0)"/><ellipse cx="62.1" cy="1148.8" rx="0.6" ry="0.4" transform="rotate(-64 62.1 1148.8)"/><ellipse cx="81.9" cy="969.8" rx="1.6" ry="0.4" transform="rotate(-27 81.9 969.8)"/><ellipse cx="74.6" cy="946.7" rx="1.6" ry="0.6" transform="rotate(-38 74.6 946.7)"/><ellipse cx="83.4" cy="1247.0" rx="1.4" ry="0.7" transform="rotate(-54 83.4 1247.0)"/><ellipse cx="66.3" cy="969.3" rx="1.3" ry="0.7" transform="rotate(-61 66.3 969.3)"/><ellipse cx="77.5" cy="1119.0" rx="3.0" ry="0.9" transform="rotate(-51 77.5 1119.0)"/><ellipse cx="72.6" cy="1375.7" rx="1.9" ry="0.7" transform="rotate(-35 72.6 1375.7)"/><ellipse cx="74.7" cy="1147.3" rx="2.6" ry="0.9" transform="rotate(-58 74.7 1147.3)"/><ellipse cx="82.1" cy="1216.5" rx="1.9" ry="0.7" transform="rotate(-26 82.1 1216.5)"/><ellipse cx="77.1" cy="1456.9" rx="2.5" ry="0.7" transform="rotate(-30 77.1 1456.9)"/><ellipse cx="78.6" cy="1052.3" rx="3.4" ry="1.0" transform="rotate(-26 78.6 1052.3)"/><ellipse cx="81.0" cy="1370.5" rx="3.1" ry="0.9" transform="rotate(-42 81.0 1370.5)"/><ellipse cx="84.7" cy="956.9" rx="1.7" ry="0.5" transform="rotate(-68 84.7 956.9)"/><ellipse cx="85.2" cy="950.1" rx="1.6" ry="0.4" transform="rotate(-61 85.2 950.1)"/><ellipse cx="82.6" cy="909.1" rx="3.5" ry="1.1" transform="rotate(-28 82.6 909.1)"/><ellipse cx="76.2" cy="1466.4" rx="3.0" ry="0.8" transform="rotate(-68 76.2 1466.4)"/><ellipse cx="62.1" cy="1355.5" rx="1.5" ry="0.4" transform="rotate(-23 62.1 1355.5)"/><ellipse cx="84.5" cy="931.7" rx="1.9" ry="0.6" transform="rotate(-29 84.5 931.7)"/><ellipse cx="80.9" cy="1040.3" rx="3.0" ry="0.9" transform="rotate(-50 80.9 1040.3)"/><ellipse cx="75.6" cy="1115.5" rx="1.7" ry="0.7" transform="rotate(-49 75.6 1115.5)"/><ellipse cx="51.0" cy="945.0" rx="2.4" ry="0.7" transform="rotate(-62 51.0 945.0)"/><ellipse cx="82.9" cy="1309.5" rx="3.2" ry="1.0" transform="rotate(-44 82.9 1309.5)"/><ellipse cx="66.7" cy="1185.2" rx="0.9" ry="0.5" transform="rotate(-33 66.7 1185.2)"/><ellipse cx="60.2" cy="1445.0" rx="2.1" ry="0.8" transform="rotate(-34 60.2 1445.0)"/><ellipse cx="84.5" cy="1006.7" rx="2.0" ry="0.9" transform="rotate(-58 84.5 1006.7)"/><ellipse cx="74.4" cy="1309.7" rx="2.7" ry="1.2" transform="rotate(-35 74.4 1309.7)"/><ellipse cx="73.9" cy="1142.9" rx="1.3" ry="0.6" transform="rotate(-69 73.9 1142.9)"/><ellipse cx="70.3" cy="1182.7" rx="1.4" ry="0.7" transform="rotate(-52 70.3 1182.7)"/><ellipse cx="83.7" cy="1088.2" rx="3.3" ry="1.2" transform="rotate(-40 83.7 1088.2)"/><ellipse cx="76.9" cy="1175.8" rx="3.8" ry="1.1" transform="rotate(-42 76.9 1175.8)"/><ellipse cx="79.3" cy="1183.8" rx="2.4" ry="0.7" transform="rotate(-22 79.3 1183.8)"/><ellipse cx="58.9" cy="1175.4" rx="1.2" ry="0.6" transform="rotate(-34 58.9 1175.4)"/><ellipse cx="58.4" cy="1300.2" rx="1.2" ry="0.6" transform="rotate(-57 58.4 1300.2)"/><ellipse cx="78.9" cy="1007.3" rx="3.5" ry="1.0" transform="rotate(-25 78.9 1007.3)"/><ellipse cx="77.6" cy="1048.0" rx="2.4" ry="0.7" transform="rotate(-66 77.6 1048.0)"/><ellipse cx="77.4" cy="950.6" rx="2.5" ry="1.1" transform="rotate(-52 77.4 950.6)"/><ellipse cx="82.8" cy="1243.2" rx="1.7" ry="0.6" transform="rotate(-46 82.8 1243.2)"/><ellipse cx="83.9" cy="1021.1" rx="3.3" ry="0.9" transform="rotate(-50 83.9 1021.1)"/><ellipse cx="76.1" cy="1221.6" rx="1.8" ry="0.9" transform="rotate(-26 76.1 1221.6)"/><ellipse cx="74.9" cy="1440.3" rx="1.7" ry="0.4" transform="rotate(-51 74.9 1440.3)"/><ellipse cx="82.1" cy="1358.5" rx="3.0" ry="0.9" transform="rotate(-30 82.1 1358.5)"/><ellipse cx="74.2" cy="1054.4" rx="3.9" ry="1.0" transform="rotate(-36 74.2 1054.4)"/><ellipse cx="72.3" cy="1216.7" rx="2.2" ry="0.7" transform="rotate(-36 72.3 1216.7)"/><ellipse cx="73.7" cy="1234.8" rx="1.6" ry="0.5" transform="rotate(-38 73.7 1234.8)"/><ellipse cx="70.8" cy="1002.5" rx="1.8" ry="0.5" transform="rotate(-63 70.8 1002.5)"/><ellipse cx="72.6" cy="1093.9" rx="3.0" ry="1.0" transform="rotate(-42 72.6 1093.9)"/><ellipse cx="72.4" cy="1283.5" rx="0.9" ry="0.5" transform="rotate(-34 72.4 1283.5)"/><ellipse cx="79.8" cy="1347.7" rx="2.8" ry="0.8" transform="rotate(-52 79.8 1347.7)"/><ellipse cx="65.4" cy="1054.5" rx="1.1" ry="0.4" transform="rotate(-58 65.4 1054.5)"/><ellipse cx="65.0" cy="1356.3" rx="1.6" ry="0.7" transform="rotate(-50 65.0 1356.3)"/><ellipse cx="82.1" cy="1219.9" rx="2.1" ry="1.1" transform="rotate(-56 82.1 1219.9)"/><ellipse cx="73.8" cy="954.8" rx="1.6" ry="0.5" transform="rotate(-34 73.8 954.8)"/><ellipse cx="80.4" cy="1005.9" rx="3.5" ry="1.0" transform="rotate(-33 80.4 1005.9)"/><ellipse cx="71.0" cy="1250.1" rx="1.3" ry="0.5" transform="rotate(-60 71.0 1250.1)"/><ellipse cx="75.8" cy="1211.6" rx="2.0" ry="0.6" transform="rotate(-68 75.8 1211.6)"/><ellipse cx="78.8" cy="1376.9" rx="4.3" ry="1.1" transform="rotate(-51 78.8 1376.9)"/><ellipse cx="67.7" cy="1226.6" rx="3.9" ry="1.2" transform="rotate(-55 67.7 1226.6)"/><ellipse cx="73.0" cy="1411.0" rx="2.4" ry="0.8" transform="rotate(-34 73.0 1411.0)"/><ellipse cx="83.8" cy="896.4" rx="2.2" ry="0.8" transform="rotate(-47 83.8 896.4)"/><ellipse cx="66.4" cy="1011.1" rx="1.4" ry="0.8" transform="rotate(-45 66.4 1011.1)"/><ellipse cx="67.4" cy="1282.6" rx="4.4" ry="1.2" transform="rotate(-63 67.4 1282.6)"/><ellipse cx="76.8" cy="1370.4" rx="1.6" ry="0.9" transform="rotate(-52 76.8 1370.4)"/><ellipse cx="70.9" cy="1035.0" rx="2.8" ry="1.1" transform="rotate(-26 70.9 1035.0)"/><ellipse cx="75.4" cy="1311.8" rx="1.7" ry="0.5" transform="rotate(-40 75.4 1311.8)"/><ellipse cx="77.4" cy="1451.2" rx="2.3" ry="0.6" transform="rotate(-23 77.4 1451.2)"/><ellipse cx="61.4" cy="1411.9" rx="2.5" ry="0.7" transform="rotate(-46 61.4 1411.9)"/><ellipse cx="80.7" cy="960.5" rx="1.1" ry="0.5" transform="rotate(-45 80.7 960.5)"/><ellipse cx="81.6" cy="1314.6" rx="2.2" ry="0.8" transform="rotate(-38 81.6 1314.6)"/><ellipse cx="63.5" cy="1077.8" rx="1.5" ry="0.7" transform="rotate(-25 63.5 1077.8)"/><ellipse cx="78.0" cy="1326.8" rx="1.7" ry="0.7" transform="rotate(-44 78.0 1326.8)"/><ellipse cx="83.3" cy="1252.9" rx="1.9" ry="0.5" transform="rotate(-63 83.3 1252.9)"/><ellipse cx="83.2" cy="1171.0" rx="1.1" ry="0.5" transform="rotate(-61 83.2 1171.0)"/><ellipse cx="82.9" cy="1137.2" rx="0.9" ry="0.5" transform="rotate(-45 82.9 1137.2)"/><ellipse cx="83.3" cy="930.8" rx="1.0" ry="0.4" transform="rotate(-50 83.3 930.8)"/><ellipse cx="70.4" cy="1317.1" rx="1.2" ry="0.7" transform="rotate(-22 70.4 1317.1)"/><ellipse cx="81.1" cy="1026.3" rx="1.2" ry="0.4" transform="rotate(-62 81.1 1026.3)"/><ellipse cx="79.5" cy="1268.5" rx="1.4" ry="0.4" transform="rotate(-56 79.5 1268.5)"/><ellipse cx="77.1" cy="1367.7" rx="2.9" ry="0.8" transform="rotate(-55 77.1 1367.7)"/><ellipse cx="82.7" cy="1045.0" rx="2.2" ry="0.9" transform="rotate(-65 82.7 1045.0)"/><ellipse cx="59.3" cy="1304.4" rx="3.6" ry="1.2" transform="rotate(-70 59.3 1304.4)"/><ellipse cx="79.5" cy="913.2" rx="0.7" ry="0.4" transform="rotate(-37 79.5 913.2)"/><ellipse cx="77.7" cy="1435.2" rx="2.1" ry="0.5" transform="rotate(-46 77.7 1435.2)"/><ellipse cx="55.7" cy="1377.2" rx="0.9" ry="0.4" transform="rotate(-40 55.7 1377.2)"/><ellipse cx="66.5" cy="1462.9" rx="1.0" ry="0.4" transform="rotate(-28 66.5 1462.9)"/><ellipse cx="76.7" cy="963.8" rx="3.6" ry="0.9" transform="rotate(-61 76.7 963.8)"/><ellipse cx="75.3" cy="1338.9" rx="3.5" ry="1.0" transform="rotate(-42 75.3 1338.9)"/><ellipse cx="73.1" cy="1449.1" rx="1.9" ry="0.6" transform="rotate(-46 73.1 1449.1)"/><ellipse cx="74.8" cy="1056.7" rx="1.7" ry="0.5" transform="rotate(-40 74.8 1056.7)"/><ellipse cx="71.5" cy="1321.4" rx="1.6" ry="0.5" transform="rotate(-69 71.5 1321.4)"/><ellipse cx="74.3" cy="1175.2" rx="3.2" ry="1.0" transform="rotate(-65 74.3 1175.2)"/><ellipse cx="74.8" cy="1037.3" rx="4.1" ry="1.1" transform="rotate(-48 74.8 1037.3)"/><ellipse cx="66.5" cy="1433.1" rx="2.4" ry="1.0" transform="rotate(-51 66.5 1433.1)"/><ellipse cx="59.8" cy="938.2" rx="1.3" ry="0.4" transform="rotate(-64 59.8 938.2)"/><ellipse cx="66.7" cy="943.5" rx="2.0" ry="0.9" transform="rotate(-68 66.7 943.5)"/><ellipse cx="75.0" cy="986.6" rx="0.8" ry="0.4" transform="rotate(-22 75.0 986.6)"/><ellipse cx="71.6" cy="1027.0" rx="2.2" ry="0.8" transform="rotate(-31 71.6 1027.0)"/><ellipse cx="79.6" cy="1257.6" rx="1.1" ry="0.5" transform="rotate(-66 79.6 1257.6)"/><ellipse cx="66.7" cy="1390.3" rx="0.8" ry="0.5" transform="rotate(-22 66.7 1390.3)"/><ellipse cx="81.0" cy="1014.6" rx="1.6" ry="0.8" transform="rotate(-29 81.0 1014.6)"/><ellipse cx="79.9" cy="1264.3" rx="3.1" ry="0.9" transform="rotate(-26 79.9 1264.3)"/><ellipse cx="73.4" cy="1102.6" rx="1.6" ry="0.5" transform="rotate(-40 73.4 1102.6)"/><ellipse cx="73.9" cy="1383.9" rx="1.6" ry="0.5" transform="rotate(-47 73.9 1383.9)"/><ellipse cx="72.2" cy="1331.8" rx="1.4" ry="0.8" transform="rotate(-42 72.2 1331.8)"/><ellipse cx="77.2" cy="1336.2" rx="2.3" ry="0.7" transform="rotate(-40 77.2 1336.2)"/><ellipse cx="59.9" cy="1023.5" rx="1.7" ry="0.6" transform="rotate(-66 59.9 1023.5)"/><ellipse cx="50.6" cy="1025.7" rx="1.9" ry="0.5" transform="rotate(-34 50.6 1025.7)"/><ellipse cx="64.3" cy="1419.8" rx="3.3" ry="1.1" transform="rotate(-49 64.3 1419.8)"/><ellipse cx="80.3" cy="1463.8" rx="4.3" ry="1.1" transform="rotate(-46 80.3 1463.8)"/><ellipse cx="57.2" cy="1447.2" rx="2.3" ry="0.6" transform="rotate(-61 57.2 1447.2)"/><ellipse cx="84.0" cy="952.5" rx="2.5" ry="0.8" transform="rotate(-68 84.0 952.5)"/><ellipse cx="72.1" cy="1342.1" rx="1.6" ry="0.6" transform="rotate(-53 72.1 1342.1)"/><ellipse cx="82.6" cy="1340.3" rx="1.1" ry="0.4" transform="rotate(-49 82.6 1340.3)"/><ellipse cx="75.2" cy="941.5" rx="1.7" ry="0.5" transform="rotate(-35 75.2 941.5)"/><ellipse cx="81.1" cy="1118.5" rx="1.2" ry="0.5" transform="rotate(-47 81.1 1118.5)"/><ellipse cx="71.9" cy="1210.6" rx="2.5" ry="1.1" transform="rotate(-47 71.9 1210.6)"/><ellipse cx="78.9" cy="1427.1" rx="2.5" ry="1.0" transform="rotate(-58 78.9 1427.1)"/><ellipse cx="75.6" cy="1379.0" rx="2.4" ry="0.8" transform="rotate(-62 75.6 1379.0)"/><ellipse cx="85.6" cy="925.2" rx="1.8" ry="0.5" transform="rotate(-47 85.6 925.2)"/><ellipse cx="73.6" cy="1482.6" rx="0.8" ry="0.4" transform="rotate(-69 73.6 1482.6)"/><ellipse cx="49.0" cy="1154.4" rx="1.2" ry="0.6" transform="rotate(-43 49.0 1154.4)"/><ellipse cx="82.2" cy="951.3" rx="2.7" ry="1.0" transform="rotate(-57 82.2 951.3)"/><ellipse cx="77.0" cy="921.4" rx="2.3" ry="0.7" transform="rotate(-36 77.0 921.4)"/><ellipse cx="78.4" cy="1442.5" rx="1.6" ry="0.5" transform="rotate(-31 78.4 1442.5)"/><ellipse cx="74.7" cy="1200.3" rx="3.1" ry="1.1" transform="rotate(-56 74.7 1200.3)"/><ellipse cx="66.9" cy="996.2" rx="4.2" ry="1.1" transform="rotate(-47 66.9 996.2)"/><ellipse cx="81.1" cy="1294.3" rx="4.1" ry="1.1" transform="rotate(-40 81.1 1294.3)"/><ellipse cx="76.4" cy="1143.7" rx="1.7" ry="0.5" transform="rotate(-20 76.4 1143.7)"/><ellipse cx="82.8" cy="1223.2" rx="1.7" ry="0.7" transform="rotate(-47 82.8 1223.2)"/><ellipse cx="51.0" cy="1376.8" rx="1.2" ry="0.5" transform="rotate(-44 51.0 1376.8)"/><ellipse cx="74.7" cy="1142.1" rx="3.9" ry="1.1" transform="rotate(-23 74.7 1142.1)"/><ellipse cx="66.7" cy="1262.5" rx="2.3" ry="0.8" transform="rotate(-56 66.7 1262.5)"/><ellipse cx="79.7" cy="1320.6" rx="2.1" ry="1.1" transform="rotate(-37 79.7 1320.6)"/><ellipse cx="57.0" cy="1117.8" rx="3.7" ry="1.2" transform="rotate(-60 57.0 1117.8)"/><ellipse cx="79.4" cy="1447.4" rx="1.3" ry="0.5" transform="rotate(-29 79.4 1447.4)"/><ellipse cx="80.6" cy="1084.7" rx="2.8" ry="1.2" transform="rotate(-50 80.6 1084.7)"/><ellipse cx="53.4" cy="1064.2" rx="1.1" ry="0.5" transform="rotate(-21 53.4 1064.2)"/><ellipse cx="84.8" cy="942.6" rx="1.2" ry="0.4" transform="rotate(-33 84.8 942.6)"/><ellipse cx="73.7" cy="1398.0" rx="3.2" ry="0.9" transform="rotate(-70 73.7 1398.0)"/><ellipse cx="80.2" cy="1064.3" rx="1.6" ry="0.6" transform="rotate(-57 80.2 1064.3)"/><ellipse cx="82.5" cy="1222.7" rx="0.9" ry="0.4" transform="rotate(-22 82.5 1222.7)"/><ellipse cx="78.9" cy="981.5" rx="3.9" ry="1.2" transform="rotate(-38 78.9 981.5)"/><ellipse cx="81.1" cy="980.3" rx="1.4" ry="0.4" transform="rotate(-61 81.1 980.3)"/><ellipse cx="73.7" cy="1008.8" rx="1.6" ry="0.4" transform="rotate(-43 73.7 1008.8)"/><ellipse cx="60.7" cy="1124.4" rx="1.2" ry="0.4" transform="rotate(-21 60.7 1124.4)"/><ellipse cx="80.0" cy="1063.5" rx="1.2" ry="0.5" transform="rotate(-24 80.0 1063.5)"/><ellipse cx="80.6" cy="941.2" rx="2.0" ry="0.5" transform="rotate(-20 80.6 941.2)"/><ellipse cx="81.3" cy="1483.0" rx="3.2" ry="1.2" transform="rotate(-35 81.3 1483.0)"/><ellipse cx="72.7" cy="1083.0" rx="0.9" ry="0.4" transform="rotate(-33 72.7 1083.0)"/><ellipse cx="69.4" cy="1364.2" rx="2.2" ry="0.8" transform="rotate(-43 69.4 1364.2)"/><ellipse cx="76.2" cy="1394.8" rx="1.6" ry="0.5" transform="rotate(-23 76.2 1394.8)"/><ellipse cx="67.9" cy="1404.0" rx="2.2" ry="1.1" transform="rotate(-57 67.9 1404.0)"/><ellipse cx="55.1" cy="1016.4" rx="1.6" ry="0.4" transform="rotate(-50 55.1 1016.4)"/><ellipse cx="80.5" cy="1418.6" rx="3.8" ry="1.1" transform="rotate(-20 80.5 1418.6)"/><ellipse cx="81.6" cy="1306.3" rx="2.8" ry="0.8" transform="rotate(-65 81.6 1306.3)"/><ellipse cx="76.9" cy="1219.2" rx="2.1" ry="0.9" transform="rotate(-45 76.9 1219.2)"/><ellipse cx="81.9" cy="1119.1" rx="1.6" ry="0.6" transform="rotate(-40 81.9 1119.1)"/><ellipse cx="72.2" cy="1396.1" rx="2.4" ry="0.6" transform="rotate(-57 72.2 1396.1)"/><ellipse cx="64.6" cy="968.9" rx="2.1" ry="0.6" transform="rotate(-56 64.6 968.9)"/><ellipse cx="81.6" cy="1475.2" rx="2.1" ry="0.7" transform="rotate(-43 81.6 1475.2)"/><ellipse cx="66.3" cy="1419.9" rx="2.3" ry="0.7" transform="rotate(-67 66.3 1419.9)"/><ellipse cx="82.9" cy="1150.3" rx="3.7" ry="1.1" transform="rotate(-67 82.9 1150.3)"/><ellipse cx="54.9" cy="1407.7" rx="1.4" ry="0.7" transform="rotate(-43 54.9 1407.7)"/><ellipse cx="57.7" cy="1425.3" rx="2.7" ry="0.7" transform="rotate(-34 57.7 1425.3)"/><ellipse cx="79.8" cy="1111.9" rx="1.8" ry="0.7" transform="rotate(-37 79.8 1111.9)"/><ellipse cx="67.5" cy="1420.1" rx="1.7" ry="0.9" transform="rotate(-59 67.5 1420.1)"/><ellipse cx="79.2" cy="1117.6" rx="1.0" ry="0.4" transform="rotate(-56 79.2 1117.6)"/><ellipse cx="81.5" cy="912.7" rx="3.1" ry="0.8" transform="rotate(-43 81.5 912.7)"/><ellipse cx="71.1" cy="1337.4" rx="3.0" ry="1.1" transform="rotate(-36 71.1 1337.4)"/><ellipse cx="63.9" cy="967.4" rx="2.8" ry="1.1" transform="rotate(-46 63.9 967.4)"/><ellipse cx="80.1" cy="1429.2" rx="3.2" ry="1.1" transform="rotate(-66 80.1 1429.2)"/><ellipse cx="78.0" cy="911.8" rx="1.1" ry="0.7" transform="rotate(-28 78.0 911.8)"/><ellipse cx="83.5" cy="1005.2" rx="2.1" ry="0.8" transform="rotate(-39 83.5 1005.2)"/><ellipse cx="70.4" cy="1290.9" rx="1.4" ry="0.7" transform="rotate(-21 70.4 1290.9)"/><ellipse cx="70.9" cy="1309.7" rx="4.0" ry="1.0" transform="rotate(-67 70.9 1309.7)"/><ellipse cx="79.2" cy="900.7" rx="2.0" ry="0.8" transform="rotate(-25 79.2 900.7)"/><ellipse cx="75.7" cy="1390.9" rx="3.2" ry="0.8" transform="rotate(-60 75.7 1390.9)"/><ellipse cx="72.6" cy="1130.1" rx="1.4" ry="0.4" transform="rotate(-69 72.6 1130.1)"/><ellipse cx="65.1" cy="1456.0" rx="1.0" ry="0.4" transform="rotate(-47 65.1 1456.0)"/><ellipse cx="79.7" cy="1409.4" rx="1.9" ry="0.8" transform="rotate(-21 79.7 1409.4)"/><ellipse cx="74.5" cy="1291.9" rx="2.3" ry="0.6" transform="rotate(-63 74.5 1291.9)"/><ellipse cx="82.2" cy="1213.9" rx="2.2" ry="0.9" transform="rotate(-32 82.2 1213.9)"/><ellipse cx="68.7" cy="1441.0" rx="1.0" ry="0.5" transform="rotate(-48 68.7 1441.0)"/><ellipse cx="68.2" cy="1082.3" rx="1.9" ry="0.5" transform="rotate(-59 68.2 1082.3)"/><ellipse cx="76.3" cy="1388.7" rx="2.9" ry="1.1" transform="rotate(-59 76.3 1388.7)"/><ellipse cx="82.9" cy="1006.9" rx="1.1" ry="0.4" transform="rotate(-51 82.9 1006.9)"/><ellipse cx="80.0" cy="1405.9" rx="1.8" ry="0.7" transform="rotate(-61 80.0 1405.9)"/><ellipse cx="81.2" cy="1045.4" rx="1.9" ry="0.6" transform="rotate(-53 81.2 1045.4)"/><ellipse cx="83.2" cy="961.7" rx="1.9" ry="0.8" transform="rotate(-35 83.2 961.7)"/><ellipse cx="71.5" cy="1024.3" rx="2.9" ry="0.9" transform="rotate(-61 71.5 1024.3)"/><ellipse cx="70.0" cy="1345.6" rx="2.7" ry="0.9" transform="rotate(-48 70.0 1345.6)"/><ellipse cx="76.0" cy="928.6" rx="3.7" ry="1.0" transform="rotate(-45 76.0 928.6)"/><ellipse cx="80.3" cy="1242.4" rx="2.0" ry="0.9" transform="rotate(-29 80.3 1242.4)"/><ellipse cx="69.7" cy="1102.6" rx="1.7" ry="0.5" transform="rotate(-53 69.7 1102.6)"/><ellipse cx="82.4" cy="1334.4" rx="1.6" ry="0.9" transform="rotate(-44 82.4 1334.4)"/><ellipse cx="66.2" cy="1405.5" rx="2.9" ry="1.1" transform="rotate(-45 66.2 1405.5)"/><ellipse cx="81.3" cy="1244.7" rx="2.3" ry="1.1" transform="rotate(-65 81.3 1244.7)"/><ellipse cx="72.2" cy="1351.7" rx="4.1" ry="1.1" transform="rotate(-43 72.2 1351.7)"/><ellipse cx="78.0" cy="1488.1" rx="3.6" ry="1.1" transform="rotate(-55 78.0 1488.1)"/><ellipse cx="77.1" cy="901.5" rx="1.8" ry="0.7" transform="rotate(-42 77.1 901.5)"/><ellipse cx="66.0" cy="1044.9" rx="2.8" ry="0.9" transform="rotate(-51 66.0 1044.9)"/><ellipse cx="75.0" cy="960.8" rx="2.0" ry="1.0" transform="rotate(-50 75.0 960.8)"/><ellipse cx="81.6" cy="1012.7" rx="2.1" ry="0.7" transform="rotate(-65 81.6 1012.7)"/><ellipse cx="77.4" cy="927.9" rx="1.6" ry="0.8" transform="rotate(-65 77.4 927.9)"/><ellipse cx="82.8" cy="1217.5" rx="4.2" ry="1.1" transform="rotate(-44 82.8 1217.5)"/><ellipse cx="74.8" cy="1133.4" rx="2.4" ry="0.6" transform="rotate(-64 74.8 1133.4)"/><ellipse cx="77.6" cy="1463.8" rx="2.0" ry="0.8" transform="rotate(-57 77.6 1463.8)"/><ellipse cx="75.1" cy="1472.5" rx="1.7" ry="0.8" transform="rotate(-59 75.1 1472.5)"/><ellipse cx="66.0" cy="1486.3" rx="3.5" ry="1.0" transform="rotate(-25 66.0 1486.3)"/><ellipse cx="79.6" cy="954.1" rx="1.5" ry="0.5" transform="rotate(-21 79.6 954.1)"/><ellipse cx="64.0" cy="1091.1" rx="2.1" ry="1.0" transform="rotate(-37 64.0 1091.1)"/><ellipse cx="72.5" cy="1056.7" rx="3.7" ry="1.1" transform="rotate(-45 72.5 1056.7)"/><ellipse cx="82.3" cy="1307.3" rx="2.5" ry="0.7" transform="rotate(-57 82.3 1307.3)"/><ellipse cx="72.6" cy="1221.5" rx="0.8" ry="0.4" transform="rotate(-38 72.6 1221.5)"/><ellipse cx="78.7" cy="1021.8" rx="2.8" ry="1.0" transform="rotate(-22 78.7 1021.8)"/><ellipse cx="80.5" cy="1403.7" rx="1.2" ry="0.4" transform="rotate(-33 80.5 1403.7)"/><ellipse cx="69.5" cy="1447.6" rx="1.1" ry="0.5" transform="rotate(-21 69.5 1447.6)"/><ellipse cx="61.6" cy="1338.7" rx="1.4" ry="0.5" transform="rotate(-37 61.6 1338.7)"/><ellipse cx="81.4" cy="1257.3" rx="1.0" ry="0.5" transform="rotate(-39 81.4 1257.3)"/><ellipse cx="81.1" cy="1425.6" rx="1.5" ry="0.4" transform="rotate(-50 81.1 1425.6)"/><ellipse cx="82.9" cy="1168.5" rx="3.7" ry="1.2" transform="rotate(-57 82.9 1168.5)"/><ellipse cx="72.4" cy="1315.6" rx="2.0" ry="0.9" transform="rotate(-68 72.4 1315.6)"/><ellipse cx="83.7" cy="1205.9" rx="2.5" ry="0.6" transform="rotate(-65 83.7 1205.9)"/><ellipse cx="64.5" cy="1376.3" rx="2.4" ry="0.7" transform="rotate(-54 64.5 1376.3)"/><ellipse cx="70.1" cy="1029.8" rx="2.6" ry="0.7" transform="rotate(-53 70.1 1029.8)"/><ellipse cx="80.2" cy="1032.9" rx="1.9" ry="0.6" transform="rotate(-43 80.2 1032.9)"/><ellipse cx="80.5" cy="1253.5" rx="1.0" ry="0.6" transform="rotate(-69 80.5 1253.5)"/><ellipse cx="79.1" cy="1098.4" rx="2.0" ry="0.6" transform="rotate(-40 79.1 1098.4)"/><ellipse cx="67.2" cy="1292.4" rx="2.8" ry="1.0" transform="rotate(-49 67.2 1292.4)"/><ellipse cx="63.5" cy="1080.1" rx="1.5" ry="0.8" transform="rotate(-24 63.5 1080.1)"/><ellipse cx="74.6" cy="1244.2" rx="2.4" ry="0.9" transform="rotate(-64 74.6 1244.2)"/><ellipse cx="75.4" cy="1494.7" rx="2.3" ry="1.2" transform="rotate(-45 75.4 1494.7)"/><ellipse cx="73.2" cy="1182.8" rx="2.2" ry="0.6" transform="rotate(-49 73.2 1182.8)"/><ellipse cx="85.0" cy="902.0" rx="3.5" ry="1.0" transform="rotate(-25 85.0 902.0)"/><ellipse cx="85.9" cy="923.8" rx="2.2" ry="0.9" transform="rotate(-46 85.9 923.8)"/><ellipse cx="82.5" cy="1075.3" rx="1.7" ry="0.9" transform="rotate(-22 82.5 1075.3)"/><ellipse cx="79.6" cy="921.3" rx="2.5" ry="1.2" transform="rotate(-66 79.6 921.3)"/><ellipse cx="60.9" cy="1341.9" rx="2.5" ry="0.8" transform="rotate(-66 60.9 1341.9)"/><ellipse cx="78.8" cy="1299.3" rx="3.1" ry="0.8" transform="rotate(-70 78.8 1299.3)"/><ellipse cx="72.7" cy="936.0" rx="2.4" ry="0.7" transform="rotate(-42 72.7 936.0)"/><ellipse cx="57.9" cy="1129.5" rx="2.3" ry="0.8" transform="rotate(-69 57.9 1129.5)"/><ellipse cx="84.1" cy="1078.4" rx="1.7" ry="0.8" transform="rotate(-52 84.1 1078.4)"/><ellipse cx="73.2" cy="1285.3" rx="3.8" ry="1.0" transform="rotate(-46 73.2 1285.3)"/><ellipse cx="83.0" cy="1016.7" rx="1.7" ry="0.6" transform="rotate(-39 83.0 1016.7)"/><ellipse cx="81.3" cy="1039.9" rx="1.0" ry="0.5" transform="rotate(-61 81.3 1039.9)"/><ellipse cx="83.0" cy="1195.8" rx="2.1" ry="0.8" transform="rotate(-48 83.0 1195.8)"/><ellipse cx="59.2" cy="919.0" rx="3.3" ry="1.0" transform="rotate(-52 59.2 919.0)"/><ellipse cx="81.6" cy="1330.3" rx="1.2" ry="0.6" transform="rotate(-40 81.6 1330.3)"/><ellipse cx="74.2" cy="1280.3" rx="1.9" ry="1.0" transform="rotate(-32 74.2 1280.3)"/><ellipse cx="72.9" cy="1182.0" rx="1.5" ry="0.7" transform="rotate(-50 72.9 1182.0)"/><ellipse cx="72.6" cy="1282.6" rx="3.7" ry="1.0" transform="rotate(-60 72.6 1282.6)"/><ellipse cx="75.7" cy="1429.6" rx="2.4" ry="1.2" transform="rotate(-31 75.7 1429.6)"/><ellipse cx="62.5" cy="1434.6" rx="1.4" ry="0.5" transform="rotate(-23 62.5 1434.6)"/><ellipse cx="67.5" cy="1070.8" rx="1.5" ry="0.7" transform="rotate(-59 67.5 1070.8)"/><ellipse cx="60.0" cy="1392.9" rx="1.7" ry="0.7" transform="rotate(-48 60.0 1392.9)"/><ellipse cx="81.8" cy="1451.9" rx="2.8" ry="1.2" transform="rotate(-51 81.8 1451.9)"/><ellipse cx="79.2" cy="1480.5" rx="1.1" ry="0.6" transform="rotate(-26 79.2 1480.5)"/><ellipse cx="79.7" cy="1041.3" rx="2.1" ry="0.6" transform="rotate(-53 79.7 1041.3)"/><ellipse cx="54.7" cy="1076.9" rx="1.6" ry="0.5" transform="rotate(-42 54.7 1076.9)"/><ellipse cx="73.5" cy="1134.0" rx="4.1" ry="1.1" transform="rotate(-32 73.5 1134.0)"/><ellipse cx="81.9" cy="1386.9" rx="0.9" ry="0.4" transform="rotate(-60 81.9 1386.9)"/><ellipse cx="57.9" cy="987.9" rx="3.3" ry="1.1" transform="rotate(-64 57.9 987.9)"/><ellipse cx="78.7" cy="1151.2" rx="1.5" ry="0.4" transform="rotate(-57 78.7 1151.2)"/><ellipse cx="76.7" cy="1067.9" rx="2.7" ry="1.1" transform="rotate(-37 76.7 1067.9)"/><ellipse cx="82.9" cy="959.0" rx="2.9" ry="1.1" transform="rotate(-53 82.9 959.0)"/><ellipse cx="75.0" cy="1287.6" rx="1.4" ry="0.5" transform="rotate(-69 75.0 1287.6)"/><ellipse cx="76.7" cy="1417.9" rx="1.3" ry="0.6" transform="rotate(-54 76.7 1417.9)"/><ellipse cx="79.1" cy="963.3" rx="1.7" ry="0.7" transform="rotate(-55 79.1 963.3)"/><ellipse cx="69.1" cy="1186.9" rx="2.7" ry="1.0" transform="rotate(-32 69.1 1186.9)"/><ellipse cx="78.2" cy="1184.6" rx="3.0" ry="1.1" transform="rotate(-51 78.2 1184.6)"/><ellipse cx="78.4" cy="1204.4" rx="2.7" ry="1.1" transform="rotate(-52 78.4 1204.4)"/><ellipse cx="68.3" cy="1114.6" rx="2.2" ry="0.8" transform="rotate(-47 68.3 1114.6)"/><ellipse cx="82.9" cy="1178.5" rx="2.0" ry="1.0" transform="rotate(-21 82.9 1178.5)"/><ellipse cx="80.4" cy="963.8" rx="2.3" ry="1.0" transform="rotate(-66 80.4 963.8)"/><ellipse cx="77.7" cy="1219.4" rx="3.9" ry="1.1" transform="rotate(-26 77.7 1219.4)"/><ellipse cx="69.6" cy="1482.8" rx="1.5" ry="0.4" transform="rotate(-47 69.6 1482.8)"/><ellipse cx="78.6" cy="1341.4" rx="4.1" ry="1.0" transform="rotate(-36 78.6 1341.4)"/><ellipse cx="77.0" cy="1420.1" rx="2.1" ry="1.1" transform="rotate(-66 77.0 1420.1)"/><ellipse cx="80.7" cy="1393.2" rx="1.9" ry="0.6" transform="rotate(-69 80.7 1393.2)"/><ellipse cx="84.5" cy="1021.5" rx="3.0" ry="0.8" transform="rotate(-59 84.5 1021.5)"/><ellipse cx="79.4" cy="1317.9" rx="3.1" ry="1.0" transform="rotate(-32 79.4 1317.9)"/><ellipse cx="74.5" cy="1313.9" rx="3.2" ry="0.8" transform="rotate(-59 74.5 1313.9)"/><ellipse cx="82.7" cy="1247.1" rx="1.7" ry="0.5" transform="rotate(-48 82.7 1247.1)"/><ellipse cx="80.4" cy="1208.2" rx="3.4" ry="1.0" transform="rotate(-27 80.4 1208.2)"/><ellipse cx="78.8" cy="1063.9" rx="1.1" ry="0.6" transform="rotate(-25 78.8 1063.9)"/><ellipse cx="72.1" cy="1157.8" rx="2.3" ry="0.9" transform="rotate(-53 72.1 1157.8)"/><ellipse cx="72.6" cy="1354.7" rx="2.4" ry="1.0" transform="rotate(-66 72.6 1354.7)"/><ellipse cx="79.7" cy="1451.8" rx="2.7" ry="0.7" transform="rotate(-48 79.7 1451.8)"/><ellipse cx="68.0" cy="1024.9" rx="1.1" ry="0.4" transform="rotate(-40 68.0 1024.9)"/><ellipse cx="66.8" cy="1113.7" rx="2.4" ry="0.7" transform="rotate(-40 66.8 1113.7)"/><ellipse cx="77.2" cy="1265.6" rx="2.2" ry="0.8" transform="rotate(-45 77.2 1265.6)"/><ellipse cx="74.2" cy="1393.8" rx="2.2" ry="0.6" transform="rotate(-66 74.2 1393.8)"/><ellipse cx="62.7" cy="1186.0" rx="2.4" ry="0.7" transform="rotate(-60 62.7 1186.0)"/><ellipse cx="73.9" cy="1052.5" rx="1.4" ry="0.8" transform="rotate(-61 73.9 1052.5)"/><ellipse cx="73.0" cy="1014.8" rx="3.2" ry="1.2" transform="rotate(-42 73.0 1014.8)"/><ellipse cx="72.1" cy="1068.8" rx="1.5" ry="0.9" transform="rotate(-48 72.1 1068.8)"/><ellipse cx="63.9" cy="1188.3" rx="1.4" ry="0.4" transform="rotate(-54 63.9 1188.3)"/><ellipse cx="72.7" cy="1071.0" rx="2.9" ry="0.8" transform="rotate(-44 72.7 1071.0)"/><ellipse cx="72.5" cy="1100.9" rx="1.2" ry="0.4" transform="rotate(-52 72.5 1100.9)"/><ellipse cx="82.9" cy="1217.0" rx="0.8" ry="0.4" transform="rotate(-65 82.9 1217.0)"/><ellipse cx="81.0" cy="1405.8" rx="1.9" ry="0.8" transform="rotate(-34 81.0 1405.8)"/><ellipse cx="63.2" cy="1275.7" rx="2.2" ry="0.6" transform="rotate(-63 63.2 1275.7)"/><ellipse cx="76.7" cy="1066.5" rx="2.1" ry="0.6" transform="rotate(-29 76.7 1066.5)"/><ellipse cx="75.4" cy="1242.6" rx="1.7" ry="0.9" transform="rotate(-24 75.4 1242.6)"/><ellipse cx="71.2" cy="1399.8" rx="3.8" ry="1.1" transform="rotate(-39 71.2 1399.8)"/><ellipse cx="80.5" cy="1480.0" rx="1.0" ry="0.5" transform="rotate(-30 80.5 1480.0)"/><ellipse cx="74.8" cy="952.1" rx="2.6" ry="1.0" transform="rotate(-26 74.8 952.1)"/><ellipse cx="73.0" cy="1350.8" rx="0.9" ry="0.4" transform="rotate(-52 73.0 1350.8)"/><ellipse cx="61.1" cy="1152.6" rx="3.4" ry="0.9" transform="rotate(-33 61.1 1152.6)"/><ellipse cx="77.8" cy="1452.2" rx="2.7" ry="0.8" transform="rotate(-29 77.8 1452.2)"/><ellipse cx="73.0" cy="1116.9" rx="2.0" ry="0.7" transform="rotate(-59 73.0 1116.9)"/><ellipse cx="63.3" cy="1424.8" rx="1.6" ry="0.8" transform="rotate(-41 63.3 1424.8)"/><ellipse cx="84.0" cy="1179.5" rx="4.4" ry="1.2" transform="rotate(-41 84.0 1179.5)"/><ellipse cx="76.3" cy="1417.8" rx="3.8" ry="1.1" transform="rotate(-20 76.3 1417.8)"/><ellipse cx="77.5" cy="1350.8" rx="1.5" ry="0.7" transform="rotate(-37 77.5 1350.8)"/><ellipse cx="84.5" cy="1021.4" rx="2.6" ry="1.1" transform="rotate(-55 84.5 1021.4)"/><ellipse cx="65.0" cy="1437.7" rx="2.3" ry="0.9" transform="rotate(-42 65.0 1437.7)"/><ellipse cx="74.5" cy="1156.3" rx="2.4" ry="0.6" transform="rotate(-26 74.5 1156.3)"/><ellipse cx="70.4" cy="1350.2" rx="1.3" ry="0.6" transform="rotate(-33 70.4 1350.2)"/><ellipse cx="77.2" cy="1388.4" rx="2.8" ry="1.0" transform="rotate(-51 77.2 1388.4)"/><ellipse cx="76.1" cy="1248.4" rx="2.3" ry="0.7" transform="rotate(-32 76.1 1248.4)"/><ellipse cx="68.7" cy="1484.6" rx="3.7" ry="1.2" transform="rotate(-41 68.7 1484.6)"/><ellipse cx="71.4" cy="1406.8" rx="1.4" ry="0.4" transform="rotate(-39 71.4 1406.8)"/><ellipse cx="76.8" cy="1245.5" rx="1.3" ry="0.5" transform="rotate(-57 76.8 1245.5)"/><ellipse cx="65.1" cy="1454.0" rx="2.9" ry="1.0" transform="rotate(-32 65.1 1454.0)"/><ellipse cx="76.8" cy="1125.9" rx="3.7" ry="1.1" transform="rotate(-32 76.8 1125.9)"/><ellipse cx="84.8" cy="945.0" rx="1.8" ry="1.0" transform="rotate(-42 84.8 945.0)"/><ellipse cx="71.3" cy="1187.7" rx="3.5" ry="1.1" transform="rotate(-54 71.3 1187.7)"/><ellipse cx="77.5" cy="1383.6" rx="2.5" ry="0.7" transform="rotate(-50 77.5 1383.6)"/><ellipse cx="81.0" cy="941.6" rx="2.0" ry="0.6" transform="rotate(-64 81.0 941.6)"/><ellipse cx="82.8" cy="1221.5" rx="3.3" ry="1.1" transform="rotate(-53 82.8 1221.5)"/><ellipse cx="74.9" cy="1349.8" rx="2.1" ry="0.9" transform="rotate(-50 74.9 1349.8)"/><ellipse cx="66.4" cy="1490.1" rx="2.0" ry="1.2" transform="rotate(-60 66.4 1490.1)"/><ellipse cx="82.9" cy="1030.2" rx="1.7" ry="0.5" transform="rotate(-62 82.9 1030.2)"/><ellipse cx="73.3" cy="1481.4" rx="2.8" ry="0.7" transform="rotate(-29 73.3 1481.4)"/><ellipse cx="82.3" cy="1019.3" rx="1.0" ry="0.5" transform="rotate(-35 82.3 1019.3)"/><ellipse cx="70.5" cy="1231.6" rx="2.2" ry="0.6" transform="rotate(-60 70.5 1231.6)"/><ellipse cx="73.9" cy="1161.8" rx="3.1" ry="1.1" transform="rotate(-62 73.9 1161.8)"/><ellipse cx="78.9" cy="1036.9" rx="2.1" ry="0.9" transform="rotate(-26 78.9 1036.9)"/><ellipse cx="73.7" cy="931.3" rx="2.6" ry="1.1" transform="rotate(-67 73.7 931.3)"/><ellipse cx="72.2" cy="998.3" rx="1.5" ry="0.9" transform="rotate(-64 72.2 998.3)"/><ellipse cx="64.1" cy="1364.4" rx="3.1" ry="1.1" transform="rotate(-26 64.1 1364.4)"/><ellipse cx="65.2" cy="1313.6" rx="2.2" ry="0.8" transform="rotate(-69 65.2 1313.6)"/><ellipse cx="85.8" cy="948.8" rx="1.8" ry="0.5" transform="rotate(-41 85.8 948.8)"/><ellipse cx="68.3" cy="1339.2" rx="2.4" ry="1.1" transform="rotate(-26 68.3 1339.2)"/><ellipse cx="81.0" cy="1469.8" rx="3.9" ry="1.0" transform="rotate(-30 81.0 1469.8)"/><ellipse cx="77.7" cy="1140.0" rx="1.7" ry="0.9" transform="rotate(-58 77.7 1140.0)"/><ellipse cx="84.1" cy="1146.3" rx="2.0" ry="1.1" transform="rotate(-22 84.1 1146.3)"/><ellipse cx="79.6" cy="1037.2" rx="3.7" ry="1.0" transform="rotate(-22 79.6 1037.2)"/><ellipse cx="80.6" cy="1177.1" rx="2.0" ry="1.1" transform="rotate(-26 80.6 1177.1)"/><ellipse cx="73.2" cy="1250.4" rx="1.6" ry="0.4" transform="rotate(-54 73.2 1250.4)"/><ellipse cx="85.8" cy="935.9" rx="2.0" ry="0.6" transform="rotate(-21 85.8 935.9)"/><ellipse cx="80.2" cy="1273.8" rx="3.9" ry="1.1" transform="rotate(-34 80.2 1273.8)"/><ellipse cx="84.4" cy="1125.6" rx="1.8" ry="0.8" transform="rotate(-33 84.4 1125.6)"/><ellipse cx="77.2" cy="1087.3" rx="2.5" ry="0.8" transform="rotate(-39 77.2 1087.3)"/><ellipse cx="84.8" cy="988.2" rx="1.7" ry="0.5" transform="rotate(-22 84.8 988.2)"/><ellipse cx="64.6" cy="1128.5" rx="3.6" ry="1.2" transform="rotate(-23 64.6 1128.5)"/><ellipse cx="83.4" cy="1210.7" rx="1.5" ry="0.5" transform="rotate(-41 83.4 1210.7)"/><ellipse cx="64.4" cy="1173.2" rx="3.5" ry="0.9" transform="rotate(-30 64.4 1173.2)"/><ellipse cx="69.9" cy="1382.3" rx="3.4" ry="0.9" transform="rotate(-70 69.9 1382.3)"/><ellipse cx="69.6" cy="998.5" rx="3.0" ry="1.2" transform="rotate(-35 69.6 998.5)"/><ellipse cx="72.3" cy="1250.1" rx="3.3" ry="0.8" transform="rotate(-43 72.3 1250.1)"/><ellipse cx="74.2" cy="1369.1" rx="2.0" ry="0.6" transform="rotate(-40 74.2 1369.1)"/><ellipse cx="78.9" cy="1341.1" rx="3.6" ry="1.2" transform="rotate(-57 78.9 1341.1)"/><ellipse cx="80.4" cy="1173.6" rx="1.0" ry="0.4" transform="rotate(-28 80.4 1173.6)"/><ellipse cx="77.7" cy="1321.7" rx="1.2" ry="0.5" transform="rotate(-45 77.7 1321.7)"/><ellipse cx="77.2" cy="1321.5" rx="2.1" ry="0.6" transform="rotate(-41 77.2 1321.5)"/><ellipse cx="83.7" cy="1068.2" rx="1.8" ry="0.9" transform="rotate(-68 83.7 1068.2)"/><ellipse cx="79.1" cy="1182.0" rx="2.5" ry="0.8" transform="rotate(-51 79.1 1182.0)"/><ellipse cx="80.3" cy="1452.7" rx="1.4" ry="0.4" transform="rotate(-49 80.3 1452.7)"/><ellipse cx="78.5" cy="958.0" rx="1.7" ry="0.5" transform="rotate(-61 78.5 958.0)"/><ellipse cx="79.1" cy="1118.8" rx="3.5" ry="0.9" transform="rotate(-30 79.1 1118.8)"/><ellipse cx="72.5" cy="1271.9" rx="2.1" ry="0.9" transform="rotate(-38 72.5 1271.9)"/><ellipse cx="70.3" cy="1284.5" rx="2.1" ry="1.0" transform="rotate(-34 70.3 1284.5)"/><ellipse cx="73.8" cy="1482.1" rx="0.9" ry="0.4" transform="rotate(-21 73.8 1482.1)"/><ellipse cx="78.8" cy="944.5" rx="1.3" ry="0.4" transform="rotate(-70 78.8 944.5)"/><ellipse cx="66.6" cy="1404.6" rx="2.3" ry="0.6" transform="rotate(-25 66.6 1404.6)"/><ellipse cx="79.5" cy="976.9" rx="1.9" ry="1.0" transform="rotate(-66 79.5 976.9)"/><ellipse cx="81.5" cy="964.7" rx="2.4" ry="1.1" transform="rotate(-54 81.5 964.7)"/><ellipse cx="71.5" cy="1162.7" rx="2.8" ry="1.2" transform="rotate(-46 71.5 1162.7)"/><ellipse cx="77.9" cy="1412.3" rx="1.2" ry="0.6" transform="rotate(-28 77.9 1412.3)"/><ellipse cx="66.0" cy="1084.6" rx="1.6" ry="0.7" transform="rotate(-65 66.0 1084.6)"/><ellipse cx="67.0" cy="1419.1" rx="1.8" ry="0.7" transform="rotate(-61 67.0 1419.1)"/><ellipse cx="80.4" cy="1030.5" rx="2.6" ry="0.8" transform="rotate(-44 80.4 1030.5)"/><ellipse cx="79.0" cy="1196.4" rx="1.5" ry="0.7" transform="rotate(-29 79.0 1196.4)"/><ellipse cx="72.9" cy="1433.1" rx="2.4" ry="1.1" transform="rotate(-61 72.9 1433.1)"/><ellipse cx="79.4" cy="1270.5" rx="3.2" ry="1.1" transform="rotate(-65 79.4 1270.5)"/><ellipse cx="75.0" cy="1482.4" rx="4.2" ry="1.2" transform="rotate(-32 75.0 1482.4)"/><ellipse cx="76.0" cy="940.5" rx="2.8" ry="1.1" transform="rotate(-69 76.0 940.5)"/><ellipse cx="78.9" cy="1368.5" rx="2.8" ry="0.7" transform="rotate(-53 78.9 1368.5)"/><ellipse cx="83.1" cy="1076.8" rx="2.7" ry="1.0" transform="rotate(-20 83.1 1076.8)"/><ellipse cx="69.4" cy="1408.6" rx="1.7" ry="0.5" transform="rotate(-41 69.4 1408.6)"/><ellipse cx="68.2" cy="1184.7" rx="2.0" ry="0.8" transform="rotate(-60 68.2 1184.7)"/><ellipse cx="77.8" cy="1442.3" rx="3.4" ry="1.2" transform="rotate(-36 77.8 1442.3)"/><ellipse cx="80.1" cy="1098.5" rx="1.2" ry="0.5" transform="rotate(-28 80.1 1098.5)"/><ellipse cx="75.6" cy="1059.3" rx="2.3" ry="1.1" transform="rotate(-48 75.6 1059.3)"/><ellipse cx="79.9" cy="972.3" rx="1.4" ry="0.5" transform="rotate(-52 79.9 972.3)"/><ellipse cx="81.4" cy="1217.5" rx="2.4" ry="0.6" transform="rotate(-66 81.4 1217.5)"/><ellipse cx="73.4" cy="1144.8" rx="3.2" ry="1.1" transform="rotate(-57 73.4 1144.8)"/><ellipse cx="76.1" cy="1493.3" rx="1.0" ry="0.4" transform="rotate(-27 76.1 1493.3)"/><ellipse cx="80.5" cy="1064.4" rx="2.1" ry="0.6" transform="rotate(-66 80.5 1064.4)"/><ellipse cx="83.3" cy="905.4" rx="1.6" ry="0.8" transform="rotate(-40 83.3 905.4)"/><ellipse cx="77.5" cy="1405.8" rx="1.7" ry="0.7" transform="rotate(-39 77.5 1405.8)"/><ellipse cx="73.9" cy="1315.1" rx="1.9" ry="0.7" transform="rotate(-56 73.9 1315.1)"/><ellipse cx="79.8" cy="1289.9" rx="2.2" ry="0.6" transform="rotate(-52 79.8 1289.9)"/><ellipse cx="79.3" cy="1027.9" rx="2.0" ry="0.5" transform="rotate(-49 79.3 1027.9)"/><ellipse cx="81.0" cy="1160.8" rx="4.6" ry="1.2" transform="rotate(-32 81.0 1160.8)"/><ellipse cx="78.0" cy="1039.1" rx="1.4" ry="0.6" transform="rotate(-59 78.0 1039.1)"/><ellipse cx="71.5" cy="1039.7" rx="3.0" ry="1.0" transform="rotate(-48 71.5 1039.7)"/><ellipse cx="69.1" cy="1178.0" rx="1.4" ry="0.4" transform="rotate(-47 69.1 1178.0)"/><ellipse cx="71.8" cy="1100.2" rx="4.0" ry="1.2" transform="rotate(-52 71.8 1100.2)"/><ellipse cx="73.3" cy="909.7" rx="1.3" ry="0.7" transform="rotate(-41 73.3 909.7)"/><ellipse cx="79.7" cy="1047.8" rx="2.9" ry="1.0" transform="rotate(-55 79.7 1047.8)"/><ellipse cx="77.2" cy="1390.6" rx="1.1" ry="0.6" transform="rotate(-49 77.2 1390.6)"/><ellipse cx="80.2" cy="1440.2" rx="3.7" ry="1.1" transform="rotate(-62 80.2 1440.2)"/><ellipse cx="81.5" cy="1038.8" rx="1.5" ry="0.9" transform="rotate(-46 81.5 1038.8)"/><ellipse cx="72.3" cy="1150.4" rx="3.3" ry="0.9" transform="rotate(-50 72.3 1150.4)"/><ellipse cx="81.5" cy="1256.7" rx="1.6" ry="0.9" transform="rotate(-44 81.5 1256.7)"/><ellipse cx="69.7" cy="1196.3" rx="1.2" ry="0.5" transform="rotate(-29 69.7 1196.3)"/><ellipse cx="80.9" cy="1104.6" rx="2.1" ry="0.8" transform="rotate(-52 80.9 1104.6)"/><ellipse cx="74.8" cy="1088.6" rx="1.5" ry="0.5" transform="rotate(-40 74.8 1088.6)"/><ellipse cx="76.5" cy="948.5" rx="4.6" ry="1.2" transform="rotate(-63 76.5 948.5)"/><ellipse cx="77.0" cy="1312.8" rx="1.3" ry="0.6" transform="rotate(-26 77.0 1312.8)"/><ellipse cx="77.7" cy="1440.0" rx="3.5" ry="1.2" transform="rotate(-36 77.7 1440.0)"/><ellipse cx="65.2" cy="1286.6" rx="4.0" ry="1.1" transform="rotate(-55 65.2 1286.6)"/><ellipse cx="68.7" cy="1019.7" rx="2.4" ry="0.7" transform="rotate(-28 68.7 1019.7)"/><ellipse cx="78.1" cy="1307.1" rx="2.7" ry="0.8" transform="rotate(-60 78.1 1307.1)"/><ellipse cx="62.9" cy="1379.6" rx="2.0" ry="0.9" transform="rotate(-60 62.9 1379.6)"/><ellipse cx="63.3" cy="1254.9" rx="2.5" ry="0.7" transform="rotate(-65 63.3 1254.9)"/><ellipse cx="69.5" cy="1420.2" rx="3.0" ry="1.0" transform="rotate(-48 69.5 1420.2)"/><ellipse cx="78.9" cy="1070.6" rx="1.3" ry="0.8" transform="rotate(-57 78.9 1070.6)"/><ellipse cx="78.4" cy="1390.5" rx="2.7" ry="1.1" transform="rotate(-44 78.4 1390.5)"/><ellipse cx="79.7" cy="1247.5" rx="2.3" ry="1.0" transform="rotate(-31 79.7 1247.5)"/><ellipse cx="79.9" cy="895.4" rx="2.1" ry="0.9" transform="rotate(-33 79.9 895.4)"/><ellipse cx="75.3" cy="1120.8" rx="2.1" ry="0.9" transform="rotate(-28 75.3 1120.8)"/><ellipse cx="76.0" cy="1361.2" rx="2.6" ry="1.2" transform="rotate(-60 76.0 1361.2)"/><ellipse cx="61.0" cy="1453.6" rx="2.3" ry="1.2" transform="rotate(-31 61.0 1453.6)"/><ellipse cx="80.0" cy="1453.0" rx="2.1" ry="0.6" transform="rotate(-45 80.0 1453.0)"/><ellipse cx="61.5" cy="1178.5" rx="1.5" ry="0.5" transform="rotate(-35 61.5 1178.5)"/><ellipse cx="79.5" cy="1069.4" rx="2.3" ry="0.6" transform="rotate(-33 79.5 1069.4)"/><ellipse cx="80.5" cy="1432.6" rx="2.0" ry="1.0" transform="rotate(-51 80.5 1432.6)"/><ellipse cx="57.9" cy="1465.0" rx="3.5" ry="1.0" transform="rotate(-32 57.9 1465.0)"/><ellipse cx="73.3" cy="1152.5" rx="0.9" ry="0.4" transform="rotate(-41 73.3 1152.5)"/><ellipse cx="82.6" cy="1060.1" rx="1.1" ry="0.6" transform="rotate(-52 82.6 1060.1)"/><ellipse cx="57.7" cy="1204.6" rx="0.9" ry="0.4" transform="rotate(-66 57.7 1204.6)"/><ellipse cx="65.0" cy="1453.1" rx="2.8" ry="0.9" transform="rotate(-29 65.0 1453.1)"/><ellipse cx="76.7" cy="896.5" rx="2.3" ry="0.9" transform="rotate(-33 76.7 896.5)"/><ellipse cx="78.2" cy="1076.1" rx="1.3" ry="0.6" transform="rotate(-34 78.2 1076.1)"/><ellipse cx="77.3" cy="1168.6" rx="2.1" ry="0.8" transform="rotate(-40 77.3 1168.6)"/><ellipse cx="72.2" cy="1400.8" rx="3.2" ry="0.9" transform="rotate(-55 72.2 1400.8)"/><ellipse cx="67.3" cy="1416.7" rx="0.7" ry="0.4" transform="rotate(-32 67.3 1416.7)"/><ellipse cx="76.4" cy="1415.4" rx="2.8" ry="1.0" transform="rotate(-43 76.4 1415.4)"/><ellipse cx="51.4" cy="1018.3" rx="3.2" ry="0.9" transform="rotate(-37 51.4 1018.3)"/><ellipse cx="83.0" cy="1105.4" rx="4.2" ry="1.1" transform="rotate(-50 83.0 1105.4)"/><ellipse cx="61.7" cy="1341.8" rx="2.6" ry="1.0" transform="rotate(-32 61.7 1341.8)"/><ellipse cx="84.3" cy="1126.5" rx="3.3" ry="1.0" transform="rotate(-68 84.3 1126.5)"/><ellipse cx="85.6" cy="932.2" rx="1.4" ry="0.6" transform="rotate(-33 85.6 932.2)"/><ellipse cx="71.2" cy="1009.0" rx="2.4" ry="0.7" transform="rotate(-48 71.2 1009.0)"/><ellipse cx="75.5" cy="1202.2" rx="2.4" ry="0.9" transform="rotate(-61 75.5 1202.2)"/><ellipse cx="81.6" cy="1466.7" rx="2.4" ry="0.8" transform="rotate(-55 81.6 1466.7)"/><ellipse cx="69.6" cy="938.7" rx="3.1" ry="0.8" transform="rotate(-65 69.6 938.7)"/><ellipse cx="49.4" cy="1356.7" rx="1.3" ry="0.6" transform="rotate(-26 49.4 1356.7)"/><ellipse cx="75.8" cy="1482.7" rx="2.9" ry="0.8" transform="rotate(-29 75.8 1482.7)"/><ellipse cx="66.1" cy="1395.6" rx="2.2" ry="0.6" transform="rotate(-22 66.1 1395.6)"/><ellipse cx="75.2" cy="1239.7" rx="2.4" ry="0.9" transform="rotate(-24 75.2 1239.7)"/><ellipse cx="82.8" cy="1280.0" rx="1.9" ry="0.9" transform="rotate(-44 82.8 1280.0)"/><ellipse cx="58.7" cy="1321.2" rx="1.7" ry="0.6" transform="rotate(-21 58.7 1321.2)"/><ellipse cx="71.9" cy="949.0" rx="0.9" ry="0.4" transform="rotate(-33 71.9 949.0)"/><ellipse cx="78.3" cy="1090.1" rx="1.8" ry="1.0" transform="rotate(-36 78.3 1090.1)"/><ellipse cx="59.0" cy="1373.9" rx="3.5" ry="1.0" transform="rotate(-29 59.0 1373.9)"/><ellipse cx="72.5" cy="1263.2" rx="1.1" ry="0.5" transform="rotate(-23 72.5 1263.2)"/><ellipse cx="72.5" cy="1096.8" rx="2.8" ry="0.8" transform="rotate(-36 72.5 1096.8)"/><ellipse cx="67.3" cy="1369.4" rx="0.9" ry="0.4" transform="rotate(-62 67.3 1369.4)"/><ellipse cx="80.9" cy="1217.3" rx="1.5" ry="0.8" transform="rotate(-38 80.9 1217.3)"/><ellipse cx="83.5" cy="956.0" rx="1.5" ry="0.8" transform="rotate(-23 83.5 956.0)"/><ellipse cx="82.6" cy="1112.2" rx="2.9" ry="1.1" transform="rotate(-54 82.6 1112.2)"/><ellipse cx="79.9" cy="1399.0" rx="3.6" ry="0.9" transform="rotate(-35 79.9 1399.0)"/><ellipse cx="70.6" cy="925.8" rx="2.9" ry="0.7" transform="rotate(-27 70.6 925.8)"/><ellipse cx="77.4" cy="1116.3" rx="2.1" ry="1.0" transform="rotate(-25 77.4 1116.3)"/><ellipse cx="77.6" cy="1054.4" rx="3.1" ry="0.9" transform="rotate(-58 77.6 1054.4)"/><ellipse cx="76.7" cy="1206.2" rx="2.5" ry="0.8" transform="rotate(-22 76.7 1206.2)"/><ellipse cx="77.5" cy="1065.4" rx="1.4" ry="0.5" transform="rotate(-40 77.5 1065.4)"/><ellipse cx="76.5" cy="1187.3" rx="2.2" ry="0.8" transform="rotate(-60 76.5 1187.3)"/><ellipse cx="79.6" cy="1167.8" rx="1.9" ry="0.7" transform="rotate(-31 79.6 1167.8)"/><ellipse cx="72.7" cy="1486.8" rx="2.6" ry="0.7" transform="rotate(-66 72.7 1486.8)"/><ellipse cx="84.1" cy="948.7" rx="1.6" ry="0.4" transform="rotate(-45 84.1 948.7)"/><ellipse cx="62.2" cy="1154.9" rx="3.9" ry="1.2" transform="rotate(-24 62.2 1154.9)"/><ellipse cx="68.0" cy="1235.8" rx="1.3" ry="0.6" transform="rotate(-55 68.0 1235.8)"/><ellipse cx="82.8" cy="985.0" rx="1.5" ry="0.4" transform="rotate(-28 82.8 985.0)"/><ellipse cx="79.4" cy="1383.9" rx="1.8" ry="0.7" transform="rotate(-43 79.4 1383.9)"/><ellipse cx="77.4" cy="1367.4" rx="3.0" ry="0.8" transform="rotate(-53 77.4 1367.4)"/><ellipse cx="71.6" cy="897.0" rx="2.6" ry="0.7" transform="rotate(-61 71.6 897.0)"/><ellipse cx="76.4" cy="1270.8" rx="1.7" ry="0.9" transform="rotate(-47 76.4 1270.8)"/><ellipse cx="75.9" cy="1247.1" rx="2.4" ry="0.7" transform="rotate(-28 75.9 1247.1)"/><ellipse cx="83.5" cy="1062.5" rx="2.6" ry="0.9" transform="rotate(-42 83.5 1062.5)"/><ellipse cx="61.0" cy="1338.9" rx="2.2" ry="0.9" transform="rotate(-37 61.0 1338.9)"/><ellipse cx="56.0" cy="1321.6" rx="1.8" ry="0.6" transform="rotate(-42 56.0 1321.6)"/><ellipse cx="76.9" cy="1257.0" rx="1.7" ry="0.5" transform="rotate(-64 76.9 1257.0)"/><ellipse cx="64.7" cy="1215.0" rx="4.3" ry="1.1" transform="rotate(-59 64.7 1215.0)"/><ellipse cx="75.9" cy="1441.0" rx="2.2" ry="0.8" transform="rotate(-68 75.9 1441.0)"/><ellipse cx="80.8" cy="1410.7" rx="1.4" ry="0.6" transform="rotate(-56 80.8 1410.7)"/><ellipse cx="74.5" cy="1067.9" rx="2.0" ry="0.8" transform="rotate(-32 74.5 1067.9)"/><ellipse cx="70.4" cy="1454.7" rx="3.2" ry="0.9" transform="rotate(-34 70.4 1454.7)"/><ellipse cx="79.2" cy="1134.5" rx="1.8" ry="0.5" transform="rotate(-37 79.2 1134.5)"/></g>
<path d="M55 1410C58 1402 64 1400 68 1404C70 1410 66 1416 60 1418C57 1417 55 1414 55 1410Z" fill="#000"/>
<path d="M61 1245C63 1238 68 1240 70 1244C70 1250 66 1254 62 1252Z" fill="#000"/>
<path d="M49 1425C55 1420 62 1418 70 1416L71 1419C63 1421 56 1424 50 1430Z" fill="#000"/>
<path d="M44.0 1082.7h2.3M44.0 934.9h2.6M44.0 1367.2h2.9M44.0 959.3h2.4M44.0 1306.5h1.3M44.0 1217.2h1.4M44.0 1013.5h1.1M44.0 1046.2h2.7M44.0 1205.0h2.6M44.0 1404.7h1.3M44.0 1340.6h2.8M44.0 1237.5h1.7M44.0 991.3h1.9M44.0 1093.7h1.5M44.0 1250.7h2.3M44.0 1034.4h1.3M44.0 1159.5h2.4M44.0 1246.0h2.3M44.0 1366.4h2.5M44.0 1129.9h2.5M44.0 1245.7h1.7M44.0 987.0h1.8M44.0 1273.4h2.5M44.0 1058.1h2.1M44.0 938.9h2.2M44.0 1133.5h2.5M44.0 1347.7h1.1M44.0 1401.9h1.3M44.0 1401.2h3.0M44.0 1015.4h1.6M44.0 975.5h2.8M44.0 1293.5h2.9M44.0 1319.6h1.7M44.0 1302.5h1.7M44.0 1071.3h1.9M44.0 1264.1h1.6M44.0 1191.3h2.1M44.0 1313.1h1.9M44.0 1118.7h2.1M44.0 1139.6h2.5M44.0 955.8h1.4M44.0 920.0h1.8M44.0 1341.3h2.2M44.0 1230.9h2.9M44.0 1327.2h1.6M44.0 1015.5h2.1M44.0 1019.2h2.2M44.0 941.2h1.8M44.0 1275.4h1.5M44.0 977.6h2.5M44.0 1000.6h2.8M44.0 1218.8h2.8M44.0 1176.8h2.0M44.0 1034.1h1.1M44.0 1395.8h1.4M44.0 942.2h2.9M44.0 1179.2h2.2M44.0 1377.9h2.5M44.0 1034.8h1.6M44.0 1241.3h2.4" stroke="#000" stroke-width="1"/>
<path d="M43.6 1436V1521M80.8 1505V1521" stroke="#000" stroke-width="1.6" stroke-dasharray="4 3"/>
<path d="M121.2 876.0C120.4 881.4 121.0 917.6 121.0 930.0C121.0 942.4 121.5 985.0 121.5 1000.0C121.5 1015.0 121.0 1066.0 121.0 1080.0C121.0 1094.0 121.4 1131.4 121.5 1140.0C121.6 1148.6 122.1 1157.9 121.8 1165.9C121.5 1173.8 119.3 1208.4 118.5 1219.7C117.7 1231.1 114.5 1270.0 113.5 1279.7C112.6 1289.3 109.9 1307.6 108.9 1316.6C107.9 1325.6 104.5 1358.6 103.5 1369.7C102.5 1380.8 100.0 1418.6 99.1 1427.6C98.1 1436.5 95.0 1453.7 94.0 1459.4C93.1 1465.1 90.5 1480.2 89.8 1484.6C89.0 1488.9 86.6 1500.8 86.7 1502.7C86.7 1504.5 89.4 1505.1 90.1 1503.3C90.9 1501.6 93.3 1489.7 94.2 1485.4C95.2 1481.2 98.7 1466.3 100.0 1460.6C101.2 1454.9 105.9 1437.5 106.9 1428.4C108.0 1419.4 109.6 1381.4 110.5 1370.3C111.4 1359.2 114.9 1326.4 115.9 1317.4C116.9 1308.4 119.5 1290.1 120.5 1280.3C121.4 1270.6 124.7 1231.7 125.5 1220.3C126.3 1208.8 128.5 1174.2 128.8 1166.1C129.1 1158.1 128.6 1148.6 128.5 1140.0C128.4 1131.4 128.0 1094.0 128.0 1080.0C128.0 1066.0 128.5 1015.0 128.5 1000.0C128.5 985.0 128.0 942.4 128.0 930.0C128.0 917.6 129.5 881.4 128.8 876.0C128.1 870.6 122.0 870.6 121.2 876.0Z" fill="#fff" stroke="#000" stroke-width="1.5"/>
<path d="M125.0 876.0C124.9 886.8 124.5 905.2 124.5 930.0C124.5 954.8 125.0 970.0 125.0 1000.0C125.0 1030.0 124.5 1052.0 124.5 1080.0C124.5 1108.0 124.8 1122.8 125.0 1140.0C125.2 1157.2 125.9 1150.0 125.3 1166.0C124.7 1182.0 123.7 1197.2 122.0 1220.0C120.3 1242.8 118.9 1260.6 117.0 1280.0C115.1 1299.4 114.4 1299.0 112.4 1317.0C110.4 1335.0 108.9 1347.8 107.0 1370.0C105.1 1392.2 105.0 1410.0 103.0 1428.0C101.0 1446.0 99.2 1448.6 97.0 1460.0C94.8 1471.4 93.7 1476.4 92.0 1485.0C90.3 1493.6 89.1 1499.4 88.4 1503.0" fill="none" stroke="#000" stroke-width="0.8" stroke-dasharray="5 3" opacity="0.7"/>
<path d="M122 1060C123 1070 124 1085 122 1095" stroke="#000" stroke-width="1.8" fill="none"/>
<path d="M91 1488C93 1480 96 1470 98 1465" stroke="#000" stroke-width="1.5" fill="none"/>
<path d="M121.0 876.0C121.8 873.7 122.8 866.7 126.0 862.0C129.2 857.3 132.3 852.1 140.0 848.0C147.7 843.9 162.8 838.5 172.0 837.5C181.2 836.5 188.7 838.6 195.0 842.0C201.3 845.4 207.2 852.5 210.0 858.0C212.8 863.5 212.7 870.0 212.0 875.0C211.3 880.0 209.3 884.7 206.0 888.0C202.7 891.3 196.3 894.3 192.0 895.0C187.7 895.7 183.2 893.5 180.0 892.0C176.8 890.5 174.2 888.0 173.0 886.0C171.8 884.0 172.2 881.2 173.0 880.0C173.8 878.8 176.8 878.8 178.0 879.0C179.2 879.2 179.7 880.7 180.0 881.0" fill="none" stroke="#000" stroke-width="1.7"/>
<path d="M129.0 876.0C129.7 874.3 129.5 870.2 133.0 866.0C136.5 861.8 143.0 854.8 150.0 851.0C157.0 847.2 167.5 843.5 175.0 843.0C182.5 842.5 189.8 844.7 195.0 848.0C200.2 851.3 204.2 857.7 206.0 863.0C207.8 868.3 207.0 875.7 206.0 880.0C205.0 884.3 202.7 887.2 200.0 889.0C197.3 890.8 193.3 890.8 190.0 890.5C186.7 890.2 182.3 888.4 180.0 887.0C177.7 885.6 176.7 882.8 176.0 882.0" fill="none" stroke="#000" stroke-width="1.7"/>
<rect x="123" y="874" width="5" height="5" fill="#000"/>
<path d="M243.8 949.5 L262.0 944.0 L281.8 939.2 L305.0 935.5 L326.7 933.1 L350.0 931.8 L373.4 930.9 L370.0 940.0 L368.2 949.5 L364.7 960.0 L368.2 966.8 L367.5 975.0 L366.5 984.0 L363.0 991.0 L359.6 998.0 L356.0 1005.0 L354.4 1011.7 L354.4 1020.4 L330.0 1021.5 L299.0 1022.0 L273.2 1017.8 L259.4 1011.7 L247.3 1001.4 L243.0 987.6 L242.5 970.0 L242.0 958.0Z" fill="#fff" stroke="#000" stroke-width="1.6" stroke-linejoin="round"/>
<path d="M259 1011.5C275 1018 300 1020 330 1019.5L354.4 1018.5L354.4 1021.8L330 1023C300 1023.5 275 1021 259 1013Z" fill="#000"/>
<path d="M362.1 934.6l2.8 -3.3M359.3 942.1l1.3 -1.8M261.8 987.0l1.2 -1.0M313.0 992.3l2.9 -3.2M282.6 985.7l1.7 -3.1M283.7 1004.8l1.4 -2.0M246.9 998.7l1.1 -1.1M290.9 983.5l0.6 -1.5M346.0 1008.5l1.4 -4.1M287.5 1014.3l1.1 -2.2M324.7 1002.1l1.0 -2.6M292.3 1020.0l1.9 -2.8M344.1 1009.2l2.8 -2.7M290.5 994.7l2.1 -2.1M327.2 983.7l1.3 -2.8M326.9 1003.0l2.4 -2.4M366.4 978.1l1.5 -1.3M336.1 997.0l2.4 -3.0M300.5 989.9l2.3 -2.7M279.7 968.5l2.0 -3.5M248.6 986.6l1.5 -2.8M318.4 1017.3l2.0 -1.9M288.9 1011.5l1.1 -1.4M358.1 965.5l1.0 -1.9M344.1 1005.6l1.4 -2.8M321.3 998.2l1.7 -3.4M339.4 984.6l1.2 -1.9M360.7 966.3l1.6 -3.7M281.9 1005.9l2.7 -2.9M360.6 944.7l1.8 -2.6M348.9 1002.5l1.1 -1.1M361.5 945.3l1.0 -2.6M323.7 935.9l0.8 -2.5M364.1 965.3l1.3 -3.4M291.5 997.6l2.4 -2.7M254.9 991.4l1.2 -1.5M274.5 1010.0l1.8 -1.7M247.8 996.5l1.6 -1.2M331.2 951.9l2.9 -3.3M261.5 1006.0l2.1 -3.3M353.0 978.1l2.3 -2.3M294.6 940.6l0.6 -2.0M264.9 949.9l0.7 -2.1M295.3 1018.6l1.4 -2.0M299.1 1018.8l1.2 -1.2M314.2 1020.1l0.8 -2.4M306.9 1015.3l0.7 -2.1M296.2 959.2l1.3 -1.0M320.6 1008.3l0.9 -1.2M284.0 943.6l0.7 -2.1M251.9 994.4l0.9 -1.9M327.9 1017.0l1.6 -3.2M330.5 957.4l2.3 -3.0M361.1 973.0l2.0 -2.0M369.2 934.9l2.3 -1.9M351.5 1007.6l1.0 -2.5M350.5 975.6l0.7 -1.9M335.9 1012.1l1.8 -3.4M331.4 1008.8l2.0 -3.4M245.3 977.5l1.0 -1.8M348.4 1014.2l2.1 -2.8M279.1 995.7l2.5 -2.8M313.6 967.0l1.0 -2.5M322.5 966.4l2.2 -2.8M323.6 1011.9l2.4 -2.4M311.7 1012.5l1.5 -1.8M367.7 948.7l1.1 -1.5M350.8 1017.2l2.6 -3.1M351.6 974.4l0.8 -1.9M324.0 1017.9l0.5 -1.7M331.1 998.1l1.6 -2.2M253.2 999.6l0.8 -2.2M361.6 966.0l2.0 -2.2M287.1 1007.5l0.9 -1.4M274.4 991.3l0.7 -2.2M305.1 1019.6l2.1 -1.6M359.5 989.4l0.4 -1.5M349.7 1013.5l3.2 -3.2M357.3 949.5l3.2 -2.4M278.1 999.1l1.4 -3.6M310.3 1018.8l0.6 -1.7M313.8 997.1l2.0 -2.1M327.8 1014.3l2.1 -2.2M300.1 1011.9l0.6 -1.8M338.7 981.9l1.2 -1.1M307.3 1009.5l1.1 -3.1M272.4 1016.5l1.1 -1.3M277.1 958.6l2.2 -3.1M359.5 973.4l0.9 -1.9M365.2 950.3l0.8 -2.4M360.8 944.9l1.8 -2.4M289.8 1011.2l2.2 -2.6M352.1 983.8l2.2 -3.8M325.4 996.4l1.3 -2.4M358.7 977.1l1.1 -2.5M247.4 982.3l1.1 -1.5M258.7 979.8l2.7 -3.6M285.7 1004.2l0.6 -1.8M364.2 973.5l2.6 -3.4M333.0 996.9l1.6 -4.2M264.9 994.2l1.4 -2.9M340.9 996.8l2.0 -3.8M353.2 990.9l2.7 -3.0M264.4 976.0l2.8 -2.7M274.5 1005.8l1.7 -2.0M273.3 956.4l2.1 -2.7M283.2 997.4l2.3 -2.3M300.9 993.1l1.7 -1.5M252.5 962.3l0.8 -2.5M358.5 993.3l1.5 -2.3M354.1 992.8l3.2 -2.5M328.3 1010.6l1.1 -2.6M351.6 964.5l1.6 -2.9M262.4 957.6l1.0 -1.7M314.4 1017.2l2.0 -1.5M321.0 999.4l2.1 -3.3M361.6 986.1l1.1 -1.7M300.4 1005.2l1.8 -1.6M253.1 979.8l2.2 -2.7M256.1 997.0l1.9 -1.6M259.8 978.2l2.7 -2.1M279.6 972.0l1.5 -3.2M363.2 958.0l2.0 -1.5M331.3 973.1l1.9 -3.6M277.8 1005.2l1.5 -2.1M352.3 982.7l2.2 -2.7M300.2 1010.2l1.6 -2.0M337.9 935.7l2.9 -2.4M353.2 1006.9l1.5 -3.7M363.3 967.8l1.8 -2.8M249.8 976.5l0.9 -2.9M283.9 954.0l1.5 -1.1M338.7 1013.9l1.6 -3.5M265.6 956.0l1.4 -1.5M353.4 1002.4l0.5 -1.9M318.8 952.3l1.0 -2.2M280.1 997.0l1.4 -4.0M306.4 1009.6l1.1 -3.4M256.2 998.0l1.7 -2.4M315.7 949.3l1.2 -4.1M307.8 958.2l0.8 -2.1M295.2 1013.0l1.7 -1.9M280.0 1011.7l1.3 -1.9M342.6 1017.1l0.9 -1.3M329.8 1014.4l2.5 -2.6M251.8 999.1l1.7 -2.4M336.4 1000.1l2.3 -3.6M316.5 1020.2l2.9 -2.2M254.8 1001.2l2.3 -2.1M346.8 1005.7l2.2 -1.7M335.4 1018.4l2.0 -2.2M284.8 976.5l1.6 -1.3M358.7 974.4l1.1 -2.0M364.6 963.5l1.5 -1.8M313.5 1009.8l1.3 -4.2M358.6 969.8l1.9 -1.3M315.0 959.1l1.6 -2.3M275.3 969.6l1.8 -1.3M259.5 968.1l1.7 -3.1M270.8 1007.9l0.5 -1.6M358.0 983.5l1.1 -3.5M351.1 984.8l0.7 -2.1M307.0 1001.8l3.3 -2.8M305.8 1010.9l2.1 -3.9M360.3 992.6l1.2 -2.2M272.1 942.0l3.5 -2.6M363.1 987.3l2.7 -2.8M246.7 993.2l0.6 -2.2M246.9 991.8l1.9 -2.1M360.2 994.4l1.7 -4.1M261.7 1006.1l2.4 -2.4M353.2 1019.8l1.5 -2.3M319.3 983.3l1.3 -1.4M339.7 1000.0l1.3 -1.3M321.8 1013.0l2.0 -2.3M331.3 966.4l1.0 -1.8M353.9 1010.2l2.3 -3.2M326.2 1020.2l0.9 -2.5M307.8 999.2l1.1 -1.9M359.8 984.8l2.7 -2.0M324.7 936.3l1.1 -2.4M354.8 1006.2l2.7 -3.2M353.6 994.4l1.3 -1.3M290.6 1015.3l1.7 -1.2M269.2 996.9l2.0 -2.2M277.5 962.5l2.0 -1.4M258.6 971.0l1.3 -2.8M273.1 1014.7l2.3 -3.5M291.1 1010.7l0.8 -2.7M365.7 935.9l1.9 -1.7M315.5 954.9l0.8 -2.1M262.4 998.3l1.3 -1.5M260.7 1006.2l2.9 -3.0M362.4 986.1l1.5 -2.1M264.6 966.9l2.6 -2.2M359.0 985.1l1.9 -2.5M356.4 965.2l2.1 -2.4M262.6 992.6l1.6 -2.5M343.4 1019.4l1.9 -3.1M358.5 991.0l1.9 -2.1M362.6 976.5l1.5 -1.2M334.8 1015.2l1.2 -1.3M253.0 987.6l1.7 -2.3M275.8 1002.9l1.5 -1.4M292.1 1001.5l1.8 -3.5M279.2 999.6l2.2 -3.5M291.2 1017.3l1.1 -2.1M300.4 1009.5l0.5 -1.7M262.6 1005.2l1.4 -1.4M362.4 978.9l2.8 -2.0M316.1 983.0l1.2 -2.0M288.0 993.8l2.3 -3.0M281.5 996.3l1.5 -2.8M304.3 957.8l1.2 -2.6M309.1 1004.2l1.4 -1.6M290.2 1017.5l1.4 -2.2M298.3 994.8l1.3 -3.1M306.1 975.8l1.0 -1.6M347.2 1018.0l0.7 -1.8M350.7 997.2l1.7 -1.8M361.8 935.1l0.9 -2.8M363.9 984.5l1.5 -3.9M319.4 1019.9l0.7 -1.8M247.5 997.2l3.0 -2.6M312.0 1019.7l1.5 -1.2M293.3 1000.8l1.1 -1.3M357.4 977.3l0.8 -1.7M319.1 1013.4l2.3 -3.8M253.1 975.7l3.0 -2.4M356.0 979.5l1.1 -3.5M351.7 998.4l1.5 -2.8M351.4 1013.5l2.5 -2.3M363.8 977.6l2.9 -3.4M271.2 1007.3l2.6 -2.2M317.7 1013.4l2.5 -3.2M346.0 1011.1l1.2 -4.0M360.1 992.6l1.8 -2.2M340.4 1010.0l1.8 -2.6M283.8 1007.0l2.0 -3.3M247.8 963.2l1.6 -1.2M276.6 995.7l0.4 -1.5M302.5 954.2l1.6 -3.0M362.8 983.2l1.9 -1.9M295.2 996.3l1.1 -2.3M270.4 1008.8l1.1 -3.5M342.5 999.8l1.9 -1.5M340.1 1006.5l2.9 -2.3M355.9 976.9l1.2 -3.1M283.7 1016.9l1.8 -1.8M345.9 1005.5l2.7 -2.0M355.7 982.4l2.1 -3.3M326.1 976.1l1.4 -4.3M343.5 941.5l1.0 -3.2M270.1 1014.6l1.9 -1.9M249.0 1002.6l2.7 -1.9M362.5 972.9l1.3 -1.0M332.7 1002.2l1.6 -1.9M284.3 1013.5l1.1 -3.5M350.7 1019.5l1.1 -1.3M359.2 997.8l2.1 -2.6M263.7 998.8l2.5 -3.1M326.2 1016.1l2.4 -2.8M314.0 978.1l1.4 -1.5M303.8 984.2l0.9 -1.9M344.4 1001.7l1.8 -2.8M263.7 1008.6l0.8 -1.5M309.9 1003.4l1.7 -4.1M333.1 977.1l2.8 -2.6M253.1 1004.4l2.3 -2.7M249.5 948.7l0.6 -1.9M276.2 1016.1l3.2 -3.0M365.9 944.6l1.4 -3.3M358.0 998.9l1.6 -1.8M279.4 1006.4l1.1 -2.4M338.5 1010.0l1.6 -2.9M327.2 1018.9l2.9 -2.9M358.0 967.4l2.2 -1.8M271.4 1015.9l2.5 -3.4M269.5 992.4l1.4 -1.3M330.1 989.2l2.1 -4.0M326.7 963.6l1.7 -1.9M339.2 969.0l2.1 -2.6M305.9 1018.3l0.9 -2.9M361.7 984.3l1.4 -2.9M354.9 997.5l0.4 -1.5M248.5 996.6l1.7 -2.3M312.8 1016.7l0.8 -2.1M300.2 1010.5l1.3 -1.8M359.4 974.1l1.4 -1.5M346.2 966.6l1.2 -2.9M281.0 1014.9l1.8 -2.0M363.4 937.4l1.2 -3.3M333.4 1018.2l2.3 -1.6M363.6 971.2l1.0 -2.9M318.8 1012.9l2.7 -2.3M265.3 1010.3l1.9 -3.4M315.0 1001.2l2.4 -3.2M293.1 1004.5l1.1 -1.2M248.7 982.1l1.4 -2.3M273.3 1001.3l2.3 -2.3M324.4 934.3l2.5 -2.4M325.1 1019.7l2.2 -1.7M247.6 982.5l1.3 -1.6M346.3 992.8l2.1 -2.4M309.5 987.1l2.7 -2.4M288.2 986.3l2.3 -3.7M366.0 968.7l1.6 -1.7M323.3 1007.3l2.4 -1.8M247.1 987.6l0.8 -1.6M367.2 951.1l1.4 -3.9M246.9 985.7l1.2 -1.1M314.5 1012.9l2.6 -2.0M353.9 999.7l0.7 -2.1M345.8 1019.8l1.2 -3.7M258.2 1007.3l3.0 -2.2M325.5 1019.6l0.8 -2.7M358.2 999.2l1.6 -3.2M300.3 946.1l2.0 -2.1M338.0 942.3l1.6 -3.9M297.7 979.0l1.3 -1.1M253.8 1000.1l1.2 -1.1M366.4 950.8l1.6 -2.4M325.8 1019.9l2.5 -3.5M276.3 1010.6l1.9 -2.3M256.7 1000.1l1.8 -3.8M253.7 983.3l1.2 -3.3M357.2 976.5l1.1 -1.7M324.6 1011.1l2.2 -1.8M360.4 993.8l1.4 -3.3M360.6 995.4l1.6 -1.3" stroke="#000" stroke-width="1" fill="none"/>
<path d="M268 1014C280 1016 300 1017.5 330 1017L353 1016L354 1020L330 1021C300 1021 280 1020 266 1016Z" fill="#000"/>
<path d="M243.5 985C246 990 249 995 252 999L250 1001C247 997 244.5 992 243 987Z" fill="#000"/>
<path d="M371 932C369 938 367 946 366 952L368 953C369.5 946 371 939 373 932Z" fill="#000"/>
<circle cx="254.2" cy="960.8" r="2" fill="none" stroke="#000" stroke-width="1.3"/>
<circle cx="352.3" cy="946.1" r="2" fill="none" stroke="#000" stroke-width="1.3"/>
<path d="M373.4 930.9L393 933.5C401 935 406.2 942 406.2 950L406.2 998C406.2 1006 403 1012 399.3 1015C394 1019.5 390 1021.5 383 1021.8L354.4 1022" fill="none" stroke="#000" stroke-width="1.9" stroke-dasharray="4.5 2.6"/>
<path d="M245.5 1001.4L262 1015.5" fill="none" stroke="#000" stroke-width="1.9" stroke-dasharray="3.5 2.5"/>
<path d="M261 1048C262 1046 266 1045.5 270 1046.3L300 1046.8L310 1046C318 1047 330 1048.5 345 1050L362 1050.8C365 1051.5 365 1054 362 1054.3L340 1053.4L310 1052.5C300 1051 280 1050.5 265 1050.8C262 1050.5 260.5 1049.5 261 1048Z" fill="#fff" stroke="#000" stroke-width="1.3"/>
<defs><filter id="stip" x="-5%" y="-5%" width="110%" height="110%"><feGaussianBlur in="SourceGraphic" stdDeviation="2.2" result="b"/><feTurbulence type="fractalNoise" baseFrequency="1.5" numOctaves="1" seed="4" result="n"/><feColorMatrix in="n" type="matrix" values="0 0 0 0 0  0 0 0 0 0  0 0 0 0 0  0 0 0 -14 7.2" result="m"/><feComposite in="m" in2="b" operator="in"/></filter><clipPath id="vb"><path d="M221.4 1211.5 L222.3 1239.0 L226.0 1252.0 L232.6 1266.7 L235.2 1291.0 L235.5 1330.0 L236.1 1392.8 L260.0 1388.0 L290.0 1381.0 L317.3 1373.8 L325.0 1371.5 L333.0 1372.5 L340.0 1370.0 L348.0 1371.5 L356.0 1369.0 L364.0 1370.5 L370.0 1369.0 L377.5 1370.5 L374.0 1360.0 L373.4 1300.0 L373.4 1240.0 L374.0 1211.0Z"/></clipPath></defs>
<path d="M221.4 1211.5 L222.3 1239.0 L226.0 1252.0 L232.6 1266.7 L235.2 1291.0 L235.5 1330.0 L236.1 1392.8 L260.0 1388.0 L290.0 1381.0 L317.3 1373.8 L325.0 1371.5 L333.0 1372.5 L340.0 1370.0 L348.0 1371.5 L356.0 1369.0 L364.0 1370.5 L370.0 1369.0 L377.5 1370.5 L374.0 1360.0 L373.4 1300.0 L373.4 1240.0 L374.0 1211.0Z" fill="#fff"/>
<g clip-path="url(#vb)"><g filter="url(#stip)" fill="#000">
<rect x="225" y="1209" width="153" height="12" opacity="0.75"/>
<rect x="300" y="1221" width="78" height="6" opacity="0.45"/>
<rect x="240" y="1259" width="110" height="6" opacity="0.55"/>
<rect x="300" y="1263" width="78" height="7" opacity="0.45"/>
<rect x="228" y="1297" width="150" height="8" opacity="0.7"/>
<rect x="228" y="1332" width="150" height="10" opacity="0.75"/>
<rect x="228" y="1359" width="72" height="6" opacity="0.3"/>
<rect x="290" y="1356" width="88" height="11" opacity="0.35"/>
<rect x="354" y="1215" width="26" height="155" opacity="0.55"/>
<rect x="218" y="1215" width="15" height="180" opacity="0.45"/>
</g></g>
<path d="M221.4 1211.5 L222.3 1239.0 L226.0 1252.0 L232.6 1266.7 L235.2 1291.0 L235.5 1330.0 L236.1 1392.8 L260.0 1388.0 L290.0 1381.0 L317.3 1373.8 L325.0 1371.5 L333.0 1372.5 L340.0 1370.0 L348.0 1371.5 L356.0 1369.0 L364.0 1370.5 L370.0 1369.0 L377.5 1370.5 L374.0 1360.0 L373.4 1300.0 L373.4 1240.0 L374.0 1211.0Z" fill="none" stroke="#000" stroke-width="1.6"/>
<path d="M232.6 1266.7L235.2 1291L235.5 1330L236.1 1380" fill="none" stroke="#000" stroke-width="3"/>
<path d="M373.4 1240L373.4 1300L374 1360" fill="none" stroke="#000" stroke-width="2.4"/>
<clipPath id="rc"><path d="M213.0 1186.0C214.8 1184.1 218.5 1181.9 225.0 1181.0C231.5 1180.1 248.7 1179.5 261.4 1179.5C274.1 1179.5 304.9 1180.6 320.0 1181.0C335.1 1181.4 366.4 1181.8 375.0 1182.5C383.6 1183.2 383.0 1184.2 384.5 1186.0C386.0 1187.8 386.4 1193.5 386.4 1196.0C386.4 1198.5 385.8 1203.1 384.5 1205.0C383.2 1206.9 388.3 1209.8 377.0 1210.6C365.7 1211.4 320.6 1211.0 300.0 1211.0C279.4 1211.0 234.3 1211.4 222.7 1210.6C211.1 1209.8 214.5 1207.1 213.0 1205.0C211.5 1202.9 211.5 1197.5 211.5 1195.0C211.5 1192.5 211.2 1187.9 213.0 1186.0Z"/></clipPath>
<path d="M213.0 1186.0C214.8 1184.1 218.5 1181.9 225.0 1181.0C231.5 1180.1 248.7 1179.5 261.4 1179.5C274.1 1179.5 304.9 1180.6 320.0 1181.0C335.1 1181.4 366.4 1181.8 375.0 1182.5C383.6 1183.2 383.0 1184.2 384.5 1186.0C386.0 1187.8 386.4 1193.5 386.4 1196.0C386.4 1198.5 385.8 1203.1 384.5 1205.0C383.2 1206.9 388.3 1209.8 377.0 1210.6C365.7 1211.4 320.6 1211.0 300.0 1211.0C279.4 1211.0 234.3 1211.4 222.7 1210.6C211.1 1209.8 214.5 1207.1 213.0 1205.0C211.5 1202.9 211.5 1197.5 211.5 1195.0C211.5 1192.5 211.2 1187.9 213.0 1186.0Z" fill="#fff"/>
<g clip-path="url(#rc)"><g filter="url(#stip)" fill="#000">
<rect x="262" y="1202" width="125" height="10" opacity="0.85"/>
<rect x="215" y="1204" width="50" height="8" opacity="0.45"/>
<rect x="205" y="1183" width="9" height="22" opacity="0.6"/>
<rect x="380" y="1183" width="9" height="20" opacity="0.4"/>
</g></g>
<path d="M213.0 1186.0C214.8 1184.1 218.5 1181.9 225.0 1181.0C231.5 1180.1 248.7 1179.5 261.4 1179.5C274.1 1179.5 304.9 1180.6 320.0 1181.0C335.1 1181.4 366.4 1181.8 375.0 1182.5C383.6 1183.2 383.0 1184.2 384.5 1186.0C386.0 1187.8 386.4 1193.5 386.4 1196.0C386.4 1198.5 385.8 1203.1 384.5 1205.0C383.2 1206.9 388.3 1209.8 377.0 1210.6C365.7 1211.4 320.6 1211.0 300.0 1211.0C279.4 1211.0 234.3 1211.4 222.7 1210.6C211.1 1209.8 214.5 1207.1 213.0 1205.0C211.5 1202.9 211.5 1197.5 211.5 1195.0C211.5 1192.5 211.2 1187.9 213.0 1186.0Z" fill="none" stroke="#000" stroke-width="1.7"/>
<path d="M262.9 1180.4 L264.6 1204.5 L267.2 1227.0 L274.1 1252.9 L284.5 1289.2 L277.6 1308.2 L263.7 1342.7 L251.6 1372.1 L249.9 1391.1M284.5 1289.2 L301.7 1308.2 L320.7 1332.4 L317.3 1373.8M343.2 1185.5 L345.8 1197.6M348.4 1221.8 L348.4 1242.6 L339.7 1256.4 L332.8 1266.7 L331.1 1282.3 L325.9 1308.2 L322.5 1332.4M274.1 1252.9 L291.4 1261.6 L317.3 1266.7 L332.8 1277.1M225.7 1239.1 L244.7 1221.8 L256.8 1216.6 L267.2 1214.9M244.7 1328.9 L270.6 1320.3 L277.6 1308.2M256.8 1290.9 L263.7 1284.0 L272.4 1280.6" fill="none" stroke="#000" stroke-width="0.9"/>
<path d="M325.5 1310L330 1318L338 1322L333 1314Z" fill="#000"/>
<path d="M404.0 1188.0C404.4 1185.5 404.7 1182.4 406.0 1181.0C407.3 1179.6 411.6 1177.9 414.0 1177.5C416.4 1177.1 421.7 1177.5 424.0 1178.0C426.3 1178.5 429.9 1179.7 431.0 1181.0C432.1 1182.3 432.9 1186.3 432.5 1188.0C432.1 1189.7 429.5 1192.4 428.0 1193.5C426.5 1194.6 422.2 1195.1 421.0 1196.5C419.8 1197.9 418.9 1200.9 419.0 1204.0C419.1 1207.1 421.2 1215.9 421.5 1220.0C421.8 1224.1 421.5 1231.0 421.0 1235.0C420.5 1239.0 418.4 1246.4 418.0 1250.0C417.6 1253.6 417.8 1258.0 418.0 1262.0C418.2 1266.0 419.4 1274.9 419.5 1280.0C419.6 1285.1 419.5 1294.9 419.0 1300.0C418.5 1305.1 416.3 1314.0 416.0 1318.0C415.7 1322.0 416.5 1325.7 417.0 1330.0C417.5 1334.3 419.7 1345.3 420.0 1350.0C420.3 1354.7 419.9 1362.2 419.5 1365.0C419.1 1367.8 419.1 1370.1 417.0 1371.0C414.9 1371.9 406.3 1372.3 404.0 1371.5C401.7 1370.7 400.4 1368.0 400.0 1365.0C399.6 1362.0 401.2 1353.7 401.0 1349.0C400.8 1344.3 398.5 1334.5 398.5 1330.0C398.5 1325.5 400.8 1319.5 401.0 1315.0C401.2 1310.5 400.5 1301.3 400.0 1296.0C399.5 1290.7 397.8 1280.1 397.5 1275.0C397.2 1269.9 397.7 1262.7 398.0 1258.0C398.3 1253.3 399.5 1245.1 400.0 1240.0C400.5 1234.9 401.6 1225.3 402.0 1220.0C402.4 1214.7 402.7 1204.3 403.0 1200.0C403.3 1195.7 403.6 1190.5 404.0 1188.0Z" fill="#000"/>
<g font-family="Liberation Serif" fill="#000" font-size="19" letter-spacing="2.1">
<text x="45.5" y="729.8">выкид из п.1</text>
<text x="272.5" y="855.3">п.1</text>
</g>
<g font-family="Liberation Serif" fill="#000" font-weight="bold" font-size="25.5" letter-spacing="2.5">
<text x="1008.5" y="897.6">1.</text>
<text x="37.5" y="1556">2.</text>
<text x="375" y="1046.4">3.</text>
<text x="241" y="1424.6">4.</text>
</g>
<rect x="380" y="109.6" width="520" height="1.1" fill="#fff"/>
</svg>
</body></html>
